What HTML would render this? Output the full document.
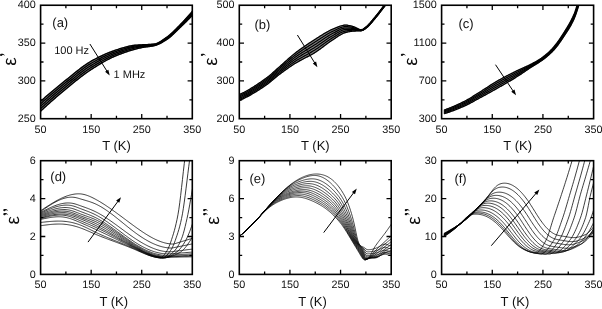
<!DOCTYPE html>
<html><head><meta charset="utf-8"><title>figure</title>
<style>html,body{margin:0;padding:0;background:#fff;}svg{display:block;will-change:transform;}text{font-family:"Liberation Sans", sans-serif;fill:#111;text-rendering:geometricPrecision;}</style></head><body>
<svg width="602" height="309" viewBox="0 0 602 309">
<rect x="0" y="0" width="602" height="309" fill="#fff"/>
<defs>
<clipPath id="cp_a"><rect x="40.60" y="5.25" width="151.70" height="113.45"/></clipPath>
<clipPath id="cp_b"><rect x="239.30" y="5.25" width="151.90" height="113.45"/></clipPath>
<clipPath id="cp_c"><rect x="441.60" y="5.25" width="152.00" height="113.45"/></clipPath>
<clipPath id="cp_d"><rect x="40.60" y="160.70" width="151.70" height="113.70"/></clipPath>
<clipPath id="cp_e"><rect x="239.30" y="160.70" width="151.90" height="113.70"/></clipPath>
<clipPath id="cp_f"><rect x="441.60" y="160.70" width="152.00" height="113.70"/></clipPath>
</defs>
<path clip-path="url(#cp_a)" d="M40.60 101.30 L41.50 100.51 L42.41 99.71 L43.31 98.92 L44.21 98.14 L45.12 97.35 L46.02 96.57 L46.93 95.79 L47.83 95.01 L48.73 94.24 L49.64 93.47 L50.54 92.70 L51.44 91.94 L52.35 91.18 L53.25 90.42 L54.15 89.66 L55.06 88.91 L55.96 88.16 L56.87 87.41 L57.77 86.67 L58.67 85.93 L59.58 85.19 L60.48 84.45 L61.38 83.72 L62.29 82.99 L63.19 82.27 L64.09 81.55 L65.00 80.83 L65.90 80.11 L66.80 79.40 L67.71 78.67 L68.61 77.95 L69.52 77.21 L70.42 76.48 L71.32 75.75 L72.23 75.01 L73.13 74.27 L74.03 73.54 L74.94 72.81 L75.84 72.08 L76.74 71.36 L77.65 70.64 L78.55 69.93 L79.46 69.22 L80.36 68.53 L81.26 67.84 L82.17 67.16 L83.07 66.50 L83.97 65.85 L84.88 65.21 L85.78 64.58 L86.68 63.98 L87.59 63.38 L88.49 62.81 L89.40 62.25 L90.30 61.72 L91.20 61.20 L92.11 60.70 L93.01 60.20 L93.91 59.71 L94.82 59.22 L95.72 58.75 L96.62 58.28 L97.53 57.81 L98.43 57.36 L99.34 56.91 L100.24 56.46 L101.14 56.03 L102.05 55.60 L102.95 55.18 L103.85 54.77 L104.76 54.36 L105.66 53.97 L106.56 53.58 L107.47 53.20 L108.37 52.82 L109.27 52.46 L110.18 52.10 L111.08 51.76 L111.99 51.42 L112.89 51.09 L113.79 50.77 L114.70 50.45 L115.60 50.15 L116.50 49.86 L117.41 49.57 L118.31 49.27 L119.21 48.98 L120.12 48.69 L121.02 48.41 L121.93 48.13 L122.83 47.85 L123.73 47.58 L124.64 47.32 L125.54 47.07 L126.44 46.82 L127.35 46.59 L128.25 46.37 L129.15 46.17 L130.06 45.98 L130.96 45.80 L131.87 45.65 L132.77 45.51 L133.67 45.39 L134.58 45.29 L135.48 45.20 L136.38 45.13 L137.29 45.06 L138.19 45.00 L139.09 44.94 L140.00 44.89 L140.90 44.85 L141.81 44.81 L142.71 44.77 L143.61 44.73 L144.52 44.69 L145.42 44.65 L146.32 44.61 L147.23 44.57 L148.13 44.52 L149.03 44.47 L149.94 44.41 L150.84 44.34 L151.74 44.26 L152.65 44.17 L153.55 44.07 L154.46 43.96 L155.36 43.80 L156.26 43.55 L157.17 43.22 L158.07 42.83 L158.97 42.38 L159.88 41.88 L160.78 41.33 L161.68 40.75 L162.59 40.14 L163.49 39.51 L164.40 38.87 L165.30 38.23 L166.20 37.58 L167.11 36.95 L168.01 36.30 L168.91 35.60 L169.82 34.86 L170.72 34.08 L171.62 33.27 L172.53 32.43 L173.43 31.57 L174.34 30.68 L175.24 29.78 L176.14 28.87 L177.05 27.95 L177.95 27.03 L178.85 26.11 L179.76 25.19 L180.66 24.27 L181.56 23.34 L182.47 22.40 L183.37 21.44 L184.28 20.48 L185.18 19.50 L186.08 18.50 L186.99 17.50 L187.89 16.49 L188.79 15.46 L189.70 14.42 L190.60 13.38 L191.50 12.32 L192.41 11.25 L193.31 10.17 L193.31 14.33 L192.41 15.27 L191.50 16.21 L190.60 17.14 L189.70 18.07 L188.79 18.99 L187.89 19.90 L186.99 20.81 L186.08 21.71 L185.18 22.61 L184.28 23.50 L183.37 24.38 L182.47 25.26 L181.56 26.13 L180.66 26.99 L179.76 27.85 L178.85 28.71 L177.95 29.58 L177.05 30.47 L176.14 31.36 L175.24 32.25 L174.34 33.13 L173.43 34.00 L172.53 34.85 L171.62 35.67 L170.72 36.47 L169.82 37.22 L168.91 37.94 L168.01 38.61 L167.11 39.23 L166.20 39.81 L165.30 40.38 L164.40 40.95 L163.49 41.50 L162.59 42.04 L161.68 42.56 L160.78 43.06 L159.88 43.53 L158.97 43.97 L158.07 44.38 L157.17 44.75 L156.26 45.09 L155.36 45.38 L154.46 45.62 L153.55 45.82 L152.65 46.00 L151.74 46.16 L150.84 46.31 L149.94 46.44 L149.03 46.56 L148.13 46.67 L147.23 46.78 L146.32 46.89 L145.42 47.01 L144.52 47.13 L143.61 47.27 L142.71 47.42 L141.81 47.59 L140.90 47.78 L140.00 47.97 L139.09 48.17 L138.19 48.38 L137.29 48.60 L136.38 48.83 L135.48 49.07 L134.58 49.31 L133.67 49.56 L132.77 49.82 L131.87 50.08 L130.96 50.36 L130.06 50.64 L129.15 50.92 L128.25 51.22 L127.35 51.51 L126.44 51.82 L125.54 52.13 L124.64 52.45 L123.73 52.77 L122.83 53.10 L121.93 53.43 L121.02 53.77 L120.12 54.11 L119.21 54.46 L118.31 54.81 L117.41 55.16 L116.50 55.52 L115.60 55.89 L114.70 56.27 L113.79 56.67 L112.89 57.08 L111.99 57.50 L111.08 57.93 L110.18 58.37 L109.27 58.82 L108.37 59.29 L107.47 59.76 L106.56 60.25 L105.66 60.74 L104.76 61.24 L103.85 61.75 L102.95 62.27 L102.05 62.79 L101.14 63.32 L100.24 63.86 L99.34 64.41 L98.43 64.96 L97.53 65.51 L96.62 66.07 L95.72 66.64 L94.82 67.21 L93.91 67.78 L93.01 68.36 L92.11 68.93 L91.20 69.52 L90.30 70.10 L89.40 70.70 L88.49 71.31 L87.59 71.94 L86.68 72.57 L85.78 73.22 L84.88 73.87 L83.97 74.53 L83.07 75.21 L82.17 75.89 L81.26 76.57 L80.36 77.27 L79.46 77.97 L78.55 78.68 L77.65 79.40 L76.74 80.11 L75.84 80.84 L74.94 81.57 L74.03 82.30 L73.13 83.03 L72.23 83.77 L71.32 84.51 L70.42 85.25 L69.52 85.99 L68.61 86.74 L67.71 87.48 L66.80 88.22 L65.90 88.96 L65.00 89.70 L64.09 90.45 L63.19 91.20 L62.29 91.95 L61.38 92.71 L60.48 93.47 L59.58 94.24 L58.67 95.01 L57.77 95.78 L56.87 96.55 L55.96 97.33 L55.06 98.12 L54.15 98.91 L53.25 99.70 L52.35 100.49 L51.44 101.29 L50.54 102.09 L49.64 102.90 L48.73 103.71 L47.83 104.52 L46.93 105.33 L46.02 106.15 L45.12 106.97 L44.21 107.80 L43.31 108.63 L42.41 109.46 L41.50 110.30 L40.60 111.14 Z" fill="#858585" stroke="#858585" stroke-width="1.2" stroke-linejoin="round"/>
<g clip-path="url(#cp_a)" fill="none" stroke="#000" stroke-width="1.35" stroke-linejoin="round">
<path d="M40.60 101.30 L41.50 100.51 L42.41 99.71 L43.31 98.92 L44.21 98.14 L45.12 97.35 L46.02 96.57 L46.93 95.79 L47.83 95.01 L48.73 94.24 L49.64 93.47 L50.54 92.70 L51.44 91.94 L52.35 91.18 L53.25 90.42 L54.15 89.66 L55.06 88.91 L55.96 88.16 L56.87 87.41 L57.77 86.67 L58.67 85.93 L59.58 85.19 L60.48 84.45 L61.38 83.72 L62.29 82.99 L63.19 82.27 L64.09 81.55 L65.00 80.83 L65.90 80.11 L66.80 79.40 L67.71 78.67 L68.61 77.95 L69.52 77.21 L70.42 76.48 L71.32 75.75 L72.23 75.01 L73.13 74.27 L74.03 73.54 L74.94 72.81 L75.84 72.08 L76.74 71.36 L77.65 70.64 L78.55 69.93 L79.46 69.22 L80.36 68.53 L81.26 67.84 L82.17 67.16 L83.07 66.50 L83.97 65.85 L84.88 65.21 L85.78 64.58 L86.68 63.98 L87.59 63.38 L88.49 62.81 L89.40 62.25 L90.30 61.72 L91.20 61.20 L92.11 60.70 L93.01 60.20 L93.91 59.71 L94.82 59.22 L95.72 58.75 L96.62 58.28 L97.53 57.81 L98.43 57.36 L99.34 56.91 L100.24 56.46 L101.14 56.03 L102.05 55.60 L102.95 55.18 L103.85 54.77 L104.76 54.36 L105.66 53.97 L106.56 53.58 L107.47 53.20 L108.37 52.82 L109.27 52.46 L110.18 52.10 L111.08 51.76 L111.99 51.42 L112.89 51.09 L113.79 50.77 L114.70 50.45 L115.60 50.15 L116.50 49.86 L117.41 49.57 L118.31 49.27 L119.21 48.98 L120.12 48.69 L121.02 48.41 L121.93 48.13 L122.83 47.85 L123.73 47.58 L124.64 47.32 L125.54 47.07 L126.44 46.82 L127.35 46.59 L128.25 46.37 L129.15 46.17 L130.06 45.98 L130.96 45.80 L131.87 45.65 L132.77 45.51 L133.67 45.39 L134.58 45.29 L135.48 45.20 L136.38 45.13 L137.29 45.06 L138.19 45.00 L139.09 44.94 L140.00 44.89 L140.90 44.85 L141.81 44.81 L142.71 44.77 L143.61 44.73 L144.52 44.69 L145.42 44.65 L146.32 44.61 L147.23 44.57 L148.13 44.52 L149.03 44.47 L149.94 44.41 L150.84 44.34 L151.74 44.26 L152.65 44.17 L153.55 44.07 L154.46 43.96 L155.36 43.80 L156.26 43.55 L157.17 43.22 L158.07 42.83 L158.97 42.38 L159.88 41.88 L160.78 41.33 L161.68 40.75 L162.59 40.14 L163.49 39.51 L164.40 38.87 L165.30 38.23 L166.20 37.58 L167.11 36.95 L168.01 36.30 L168.91 35.60 L169.82 34.86 L170.72 34.08 L171.62 33.27 L172.53 32.43 L173.43 31.57 L174.34 30.68 L175.24 29.78 L176.14 28.87 L177.05 27.95 L177.95 27.03 L178.85 26.11 L179.76 25.19 L180.66 24.27 L181.56 23.34 L182.47 22.40 L183.37 21.44 L184.28 20.48 L185.18 19.50 L186.08 18.50 L186.99 17.50 L187.89 16.49 L188.79 15.46 L189.70 14.42 L190.60 13.38 L191.50 12.32 L192.41 11.25 L193.31 10.17"/>
<path d="M40.60 103.76 L41.50 102.96 L42.41 102.15 L43.31 101.35 L44.21 100.55 L45.12 99.76 L46.02 98.97 L46.93 98.18 L47.83 97.39 L48.73 96.61 L49.64 95.83 L50.54 95.05 L51.44 94.28 L52.35 93.50 L53.25 92.74 L54.15 91.97 L55.06 91.21 L55.96 90.45 L56.87 89.70 L57.77 88.94 L58.67 88.20 L59.58 87.45 L60.48 86.71 L61.38 85.97 L62.29 85.23 L63.19 84.50 L64.09 83.77 L65.00 83.05 L65.90 82.32 L66.80 81.60 L67.71 80.87 L68.61 80.14 L69.52 79.41 L70.42 78.67 L71.32 77.94 L72.23 77.20 L73.13 76.47 L74.03 75.73 L74.94 75.00 L75.84 74.27 L76.74 73.55 L77.65 72.83 L78.55 72.12 L79.46 71.41 L80.36 70.72 L81.26 70.03 L82.17 69.35 L83.07 68.68 L83.97 68.02 L84.88 67.38 L85.78 66.75 L86.68 66.13 L87.59 65.52 L88.49 64.94 L89.40 64.37 L90.30 63.81 L91.20 63.28 L92.11 62.75 L93.01 62.24 L93.91 61.72 L94.82 61.22 L95.72 60.72 L96.62 60.23 L97.53 59.74 L98.43 59.26 L99.34 58.78 L100.24 58.32 L101.14 57.86 L102.05 57.40 L102.95 56.96 L103.85 56.52 L104.76 56.09 L105.66 55.67 L106.56 55.25 L107.47 54.85 L108.37 54.45 L109.27 54.06 L110.18 53.68 L111.08 53.31 L111.99 52.95 L112.89 52.59 L113.79 52.25 L114.70 51.91 L115.60 51.59 L116.50 51.27 L117.41 50.96 L118.31 50.65 L119.21 50.34 L120.12 50.03 L121.02 49.73 L121.93 49.42 L122.83 49.13 L123.73 48.84 L124.64 48.55 L125.54 48.27 L126.44 48.01 L127.35 47.75 L128.25 47.50 L129.15 47.26 L130.06 47.03 L130.96 46.82 L131.87 46.62 L132.77 46.43 L133.67 46.27 L134.58 46.11 L135.48 45.98 L136.38 45.86 L137.29 45.76 L138.19 45.67 L139.09 45.59 L140.00 45.52 L140.90 45.45 L141.81 45.39 L142.71 45.34 L143.61 45.29 L144.52 45.24 L145.42 45.19 L146.32 45.14 L147.23 45.08 L148.13 45.03 L149.03 44.96 L149.94 44.89 L150.84 44.81 L151.74 44.72 L152.65 44.62 L153.55 44.51 L154.46 44.38 L155.36 44.20 L156.26 43.94 L157.17 43.61 L158.07 43.23 L158.97 42.79 L159.88 42.30 L160.78 41.77 L161.68 41.21 L162.59 40.62 L163.49 40.01 L164.40 39.39 L165.30 38.77 L166.20 38.14 L167.11 37.52 L168.01 36.88 L168.91 36.19 L169.82 35.45 L170.72 34.68 L171.62 33.87 L172.53 33.03 L173.43 32.17 L174.34 31.29 L175.24 30.40 L176.14 29.49 L177.05 28.58 L177.95 27.67 L178.85 26.76 L179.76 25.86 L180.66 24.95 L181.56 24.04 L182.47 23.11 L183.37 22.18 L184.28 21.23 L185.18 20.27 L186.08 19.31 L186.99 18.33 L187.89 17.34 L188.79 16.34 L189.70 15.33 L190.60 14.32 L191.50 13.29 L192.41 12.25 L193.31 11.21"/>
<path d="M40.60 106.22 L41.50 105.40 L42.41 104.59 L43.31 103.78 L44.21 102.97 L45.12 102.16 L46.02 101.36 L46.93 100.56 L47.83 99.77 L48.73 98.97 L49.64 98.18 L50.54 97.40 L51.44 96.61 L52.35 95.83 L53.25 95.06 L54.15 94.28 L55.06 93.51 L55.96 92.75 L56.87 91.98 L57.77 91.22 L58.67 90.47 L59.58 89.71 L60.48 88.96 L61.38 88.22 L62.29 87.47 L63.19 86.73 L64.09 86.00 L65.00 85.27 L65.90 84.54 L66.80 83.81 L67.71 83.08 L68.61 82.34 L69.52 81.60 L70.42 80.87 L71.32 80.13 L72.23 79.39 L73.13 78.66 L74.03 77.92 L74.94 77.19 L75.84 76.46 L76.74 75.74 L77.65 75.02 L78.55 74.31 L79.46 73.60 L80.36 72.90 L81.26 72.21 L82.17 71.53 L83.07 70.86 L83.97 70.19 L84.88 69.54 L85.78 68.90 L86.68 68.28 L87.59 67.66 L88.49 67.06 L89.40 66.48 L90.30 65.91 L91.20 65.36 L92.11 64.81 L93.01 64.28 L93.91 63.74 L94.82 63.21 L95.72 62.69 L96.62 62.17 L97.53 61.66 L98.43 61.16 L99.34 60.66 L100.24 60.17 L101.14 59.68 L102.05 59.20 L102.95 58.73 L103.85 58.27 L104.76 57.81 L105.66 57.36 L106.56 56.92 L107.47 56.49 L108.37 56.07 L109.27 55.66 L110.18 55.25 L111.08 54.85 L111.99 54.47 L112.89 54.09 L113.79 53.73 L114.70 53.37 L115.60 53.02 L116.50 52.69 L117.41 52.36 L118.31 52.03 L119.21 51.71 L120.12 51.38 L121.02 51.06 L121.93 50.74 L122.83 50.43 L123.73 50.12 L124.64 49.82 L125.54 49.53 L126.44 49.24 L127.35 48.96 L128.25 48.69 L129.15 48.42 L130.06 48.17 L130.96 47.93 L131.87 47.69 L132.77 47.47 L133.67 47.27 L134.58 47.07 L135.48 46.89 L136.38 46.72 L137.29 46.57 L138.19 46.43 L139.09 46.31 L140.00 46.21 L140.90 46.11 L141.81 46.03 L142.71 45.95 L143.61 45.88 L144.52 45.81 L145.42 45.75 L146.32 45.68 L147.23 45.62 L148.13 45.55 L149.03 45.47 L149.94 45.39 L150.84 45.30 L151.74 45.19 L152.65 45.08 L153.55 44.94 L154.46 44.79 L155.36 44.59 L156.26 44.33 L157.17 44.00 L158.07 43.62 L158.97 43.19 L159.88 42.72 L160.78 42.21 L161.68 41.67 L162.59 41.10 L163.49 40.51 L164.40 39.91 L165.30 39.31 L166.20 38.70 L167.11 38.09 L168.01 37.46 L168.91 36.77 L169.82 36.04 L170.72 35.27 L171.62 34.47 L172.53 33.64 L173.43 32.78 L174.34 31.91 L175.24 31.01 L176.14 30.11 L177.05 29.21 L177.95 28.31 L178.85 27.41 L179.76 26.52 L180.66 25.63 L181.56 24.73 L182.47 23.83 L183.37 22.91 L184.28 21.99 L185.18 21.05 L186.08 20.11 L186.99 19.16 L187.89 18.19 L188.79 17.22 L189.70 16.25 L190.60 15.26 L191.50 14.26 L192.41 13.26 L193.31 12.25"/>
<path d="M40.60 108.68 L41.50 107.85 L42.41 107.03 L43.31 106.20 L44.21 105.38 L45.12 104.57 L46.02 103.76 L46.93 102.95 L47.83 102.14 L48.73 101.34 L49.64 100.54 L50.54 99.74 L51.44 98.95 L52.35 98.16 L53.25 97.38 L54.15 96.59 L55.06 95.82 L55.96 95.04 L56.87 94.27 L57.77 93.50 L58.67 92.74 L59.58 91.97 L60.48 91.22 L61.38 90.46 L62.29 89.71 L63.19 88.97 L64.09 88.22 L65.00 87.48 L65.90 86.75 L66.80 86.01 L67.71 85.28 L68.61 84.54 L69.52 83.80 L70.42 83.06 L71.32 82.32 L72.23 81.58 L73.13 80.84 L74.03 80.11 L74.94 79.38 L75.84 78.65 L76.74 77.93 L77.65 77.21 L78.55 76.50 L79.46 75.79 L80.36 75.09 L81.26 74.39 L82.17 73.71 L83.07 73.03 L83.97 72.37 L84.88 71.71 L85.78 71.06 L86.68 70.43 L87.59 69.80 L88.49 69.19 L89.40 68.59 L90.30 68.01 L91.20 67.44 L92.11 66.87 L93.01 66.32 L93.91 65.76 L94.82 65.21 L95.72 64.67 L96.62 64.12 L97.53 63.59 L98.43 63.06 L99.34 62.53 L100.24 62.02 L101.14 61.50 L102.05 61.00 L102.95 60.50 L103.85 60.01 L104.76 59.53 L105.66 59.05 L106.56 58.59 L107.47 58.13 L108.37 57.68 L109.27 57.24 L110.18 56.81 L111.08 56.39 L111.99 55.98 L112.89 55.59 L113.79 55.20 L114.70 54.82 L115.60 54.46 L116.50 54.11 L117.41 53.76 L118.31 53.42 L119.21 53.08 L120.12 52.74 L121.02 52.41 L121.93 52.08 L122.83 51.76 L123.73 51.44 L124.64 51.12 L125.54 50.81 L126.44 50.51 L127.35 50.22 L128.25 49.93 L129.15 49.65 L130.06 49.37 L130.96 49.11 L131.87 48.85 L132.77 48.61 L133.67 48.37 L134.58 48.14 L135.48 47.92 L136.38 47.72 L137.29 47.52 L138.19 47.34 L139.09 47.17 L140.00 47.01 L140.90 46.87 L141.81 46.74 L142.71 46.63 L143.61 46.53 L144.52 46.43 L145.42 46.35 L146.32 46.26 L147.23 46.18 L148.13 46.09 L149.03 46.00 L149.94 45.90 L150.84 45.79 L151.74 45.67 L152.65 45.54 L153.55 45.38 L154.46 45.21 L155.36 44.99 L156.26 44.71 L157.17 44.38 L158.07 44.00 L158.97 43.58 L159.88 43.13 L160.78 42.64 L161.68 42.12 L162.59 41.57 L163.49 41.01 L164.40 40.43 L165.30 39.85 L166.20 39.25 L167.11 38.66 L168.01 38.03 L168.91 37.36 L169.82 36.63 L170.72 35.87 L171.62 35.07 L172.53 34.24 L173.43 33.39 L174.34 32.52 L175.24 31.63 L176.14 30.74 L177.05 29.84 L177.95 28.94 L178.85 28.06 L179.76 27.18 L180.66 26.31 L181.56 25.43 L182.47 24.54 L183.37 23.65 L184.28 22.74 L185.18 21.83 L186.08 20.91 L186.99 19.98 L187.89 19.05 L188.79 18.11 L189.70 17.16 L190.60 16.20 L191.50 15.24 L192.41 14.26 L193.31 13.29"/>
<path d="M40.60 111.14 L41.50 110.30 L42.41 109.46 L43.31 108.63 L44.21 107.80 L45.12 106.97 L46.02 106.15 L46.93 105.33 L47.83 104.52 L48.73 103.71 L49.64 102.90 L50.54 102.09 L51.44 101.29 L52.35 100.49 L53.25 99.70 L54.15 98.91 L55.06 98.12 L55.96 97.33 L56.87 96.55 L57.77 95.78 L58.67 95.01 L59.58 94.24 L60.48 93.47 L61.38 92.71 L62.29 91.95 L63.19 91.20 L64.09 90.45 L65.00 89.70 L65.90 88.96 L66.80 88.22 L67.71 87.48 L68.61 86.74 L69.52 85.99 L70.42 85.25 L71.32 84.51 L72.23 83.77 L73.13 83.03 L74.03 82.30 L74.94 81.57 L75.84 80.84 L76.74 80.11 L77.65 79.40 L78.55 78.68 L79.46 77.97 L80.36 77.27 L81.26 76.57 L82.17 75.89 L83.07 75.21 L83.97 74.53 L84.88 73.87 L85.78 73.22 L86.68 72.57 L87.59 71.94 L88.49 71.31 L89.40 70.70 L90.30 70.10 L91.20 69.52 L92.11 68.93 L93.01 68.36 L93.91 67.78 L94.82 67.21 L95.72 66.64 L96.62 66.07 L97.53 65.51 L98.43 64.96 L99.34 64.41 L100.24 63.86 L101.14 63.32 L102.05 62.79 L102.95 62.27 L103.85 61.75 L104.76 61.24 L105.66 60.74 L106.56 60.25 L107.47 59.76 L108.37 59.29 L109.27 58.82 L110.18 58.37 L111.08 57.93 L111.99 57.50 L112.89 57.08 L113.79 56.67 L114.70 56.27 L115.60 55.89 L116.50 55.52 L117.41 55.16 L118.31 54.81 L119.21 54.46 L120.12 54.11 L121.02 53.77 L121.93 53.43 L122.83 53.10 L123.73 52.77 L124.64 52.45 L125.54 52.13 L126.44 51.82 L127.35 51.51 L128.25 51.22 L129.15 50.92 L130.06 50.64 L130.96 50.36 L131.87 50.08 L132.77 49.82 L133.67 49.56 L134.58 49.31 L135.48 49.07 L136.38 48.83 L137.29 48.60 L138.19 48.38 L139.09 48.17 L140.00 47.97 L140.90 47.78 L141.81 47.59 L142.71 47.42 L143.61 47.27 L144.52 47.13 L145.42 47.01 L146.32 46.89 L147.23 46.78 L148.13 46.67 L149.03 46.56 L149.94 46.44 L150.84 46.31 L151.74 46.16 L152.65 46.00 L153.55 45.82 L154.46 45.62 L155.36 45.38 L156.26 45.09 L157.17 44.75 L158.07 44.38 L158.97 43.97 L159.88 43.53 L160.78 43.06 L161.68 42.56 L162.59 42.04 L163.49 41.50 L164.40 40.95 L165.30 40.38 L166.20 39.81 L167.11 39.23 L168.01 38.61 L168.91 37.94 L169.82 37.22 L170.72 36.47 L171.62 35.67 L172.53 34.85 L173.43 34.00 L174.34 33.13 L175.24 32.25 L176.14 31.36 L177.05 30.47 L177.95 29.58 L178.85 28.71 L179.76 27.85 L180.66 26.99 L181.56 26.13 L182.47 25.26 L183.37 24.38 L184.28 23.50 L185.18 22.61 L186.08 21.71 L186.99 20.81 L187.89 19.90 L188.79 18.99 L189.70 18.07 L190.60 17.14 L191.50 16.21 L192.41 15.27 L193.31 14.33"/>
</g>
<path d="M91.17 118.70V114.00M91.17 5.25V9.95M141.73 118.70V114.00M141.73 5.25V9.95M65.88 118.70V115.80M65.88 5.25V8.15M116.45 118.70V115.80M116.45 5.25V8.15M167.02 118.70V115.80M167.02 5.25V8.15M40.60 80.88H45.30M192.30 80.88H187.60M40.60 43.07H45.30M192.30 43.07H187.60M40.60 99.79H43.50M192.30 99.79H189.40M40.60 61.98H43.50M192.30 61.98H189.40M40.60 24.16H43.50M192.30 24.16H189.40" fill="none" stroke="#000" stroke-width="1.30"/>
<rect x="40.60" y="5.25" width="151.70" height="113.45" fill="none" stroke="#000" stroke-width="1.60"/>
<text x="40.60" y="132.80" font-size="10.80" text-anchor="middle">50</text>
<text x="91.17" y="132.80" font-size="10.80" text-anchor="middle">150</text>
<text x="141.73" y="132.80" font-size="10.80" text-anchor="middle">250</text>
<text x="192.30" y="132.80" font-size="10.80" text-anchor="middle">350</text>
<text x="35.70" y="121.60" font-size="10.80" text-anchor="end">250</text>
<text x="35.70" y="83.78" font-size="10.80" text-anchor="end">300</text>
<text x="35.70" y="45.97" font-size="10.80" text-anchor="end">350</text>
<text x="35.70" y="8.15" font-size="10.80" text-anchor="end">400</text>
<text x="116.55" y="150.10" font-size="13.00" text-anchor="middle">T (K)</text>
<text x="52.30" y="27.00" font-size="13.00">(a)</text>
<path d="M89.90 44.00L107.25 71.61" stroke="#000" stroke-width="1" fill="none"/>
<path d="M109.70 75.50L105.07 71.80L108.37 69.72Z" fill="#000"/>
<text transform="translate(15.80 61.40) rotate(-90)" font-size="19.00" text-anchor="middle">ε</text>
<path d="M1.20 53.75 C2.80 53.55 4.40 54.00 5.10 56.05 C4.20 54.95 3.10 54.75 2.25 55.35 A1.15 1.15 0 1 1 1.20 53.75Z" fill="#111"/>
<path clip-path="url(#cp_b)" d="M239.30 94.57 L240.20 94.16 L241.11 93.74 L242.01 93.31 L242.92 92.87 L243.82 92.41 L244.73 91.94 L245.63 91.46 L246.54 90.97 L247.44 90.47 L248.35 89.96 L249.25 89.43 L250.16 88.90 L251.06 88.36 L251.97 87.81 L252.87 87.25 L253.78 86.69 L254.68 86.11 L255.59 85.53 L256.49 84.93 L257.40 84.34 L258.30 83.73 L259.21 83.12 L260.11 82.50 L261.02 81.87 L261.92 81.24 L262.83 80.61 L263.73 79.97 L264.63 79.32 L265.54 78.67 L266.44 78.01 L267.35 77.33 L268.25 76.62 L269.16 75.89 L270.06 75.14 L270.97 74.37 L271.87 73.58 L272.78 72.78 L273.68 71.98 L274.59 71.16 L275.49 70.35 L276.40 69.53 L277.30 68.72 L278.21 67.92 L279.11 67.12 L280.02 66.33 L280.92 65.54 L281.83 64.74 L282.73 63.93 L283.64 63.12 L284.54 62.31 L285.45 61.49 L286.35 60.67 L287.25 59.86 L288.16 59.05 L289.06 58.24 L289.97 57.45 L290.87 56.66 L291.78 55.89 L292.68 55.13 L293.59 54.39 L294.49 53.67 L295.40 52.97 L296.30 52.27 L297.21 51.59 L298.11 50.91 L299.02 50.24 L299.92 49.58 L300.83 48.92 L301.73 48.28 L302.64 47.64 L303.54 47.00 L304.45 46.37 L305.35 45.75 L306.26 45.13 L307.16 44.52 L308.07 43.92 L308.97 43.32 L309.88 42.73 L310.78 42.14 L311.68 41.55 L312.59 40.97 L313.49 40.39 L314.40 39.82 L315.30 39.25 L316.21 38.68 L317.11 38.10 L318.02 37.53 L318.92 36.94 L319.83 36.36 L320.73 35.79 L321.64 35.21 L322.54 34.64 L323.45 34.08 L324.35 33.53 L325.26 32.99 L326.16 32.46 L327.07 31.95 L327.97 31.45 L328.88 30.97 L329.78 30.51 L330.69 30.07 L331.59 29.66 L332.50 29.27 L333.40 28.90 L334.30 28.53 L335.21 28.14 L336.11 27.75 L337.02 27.37 L337.92 26.99 L338.83 26.63 L339.73 26.30 L340.64 25.99 L341.54 25.72 L342.45 25.49 L343.35 25.31 L344.26 25.18 L345.16 25.11 L346.07 25.11 L346.97 25.18 L347.88 25.30 L348.78 25.47 L349.69 25.68 L350.59 25.91 L351.50 26.15 L352.40 26.40 L353.31 26.64 L354.21 26.94 L355.12 27.32 L356.02 27.76 L356.93 28.22 L357.83 28.66 L358.73 29.06 L359.64 29.37 L360.54 29.58 L361.45 29.64 L362.35 29.43 L363.26 28.96 L364.16 28.33 L365.07 27.62 L365.97 26.93 L366.88 26.21 L367.78 25.39 L368.69 24.49 L369.59 23.53 L370.50 22.51 L371.40 21.45 L372.31 20.36 L373.21 19.25 L374.12 18.14 L375.02 17.03 L375.93 15.94 L376.83 14.85 L377.74 13.73 L378.64 12.58 L379.55 11.41 L380.45 10.23 L381.35 9.04 L382.26 7.86 L383.16 6.68 L384.07 5.51 L384.97 4.36 L385.88 3.23 L386.78 2.10 L387.69 0.97 L388.59 -0.15 L389.50 -1.26 L390.40 -2.37 L391.31 -3.48 L392.21 -4.58 L392.21 -3.07 L391.31 -1.97 L390.40 -0.86 L389.50 0.25 L388.59 1.37 L387.69 2.49 L386.78 3.61 L385.88 4.74 L384.97 5.88 L384.07 7.02 L383.16 8.19 L382.26 9.38 L381.35 10.57 L380.45 11.76 L379.55 12.94 L378.64 14.11 L377.74 15.25 L376.83 16.37 L375.93 17.45 L375.02 18.53 L374.12 19.63 L373.21 20.74 L372.31 21.84 L371.40 22.92 L370.50 23.96 L369.59 24.97 L368.69 25.91 L367.78 26.78 L366.88 27.57 L365.97 28.26 L365.07 28.89 L364.16 29.53 L363.26 30.09 L362.35 30.52 L361.45 30.76 L360.54 30.84 L359.64 30.90 L358.73 30.94 L357.83 30.97 L356.93 30.99 L356.02 31.02 L355.12 31.05 L354.21 31.09 L353.31 31.15 L352.40 31.23 L351.50 31.33 L350.59 31.45 L349.69 31.60 L348.78 31.76 L347.88 31.95 L346.97 32.15 L346.07 32.37 L345.16 32.61 L344.26 32.91 L343.35 33.27 L342.45 33.69 L341.54 34.16 L340.64 34.67 L339.73 35.21 L338.83 35.78 L337.92 36.37 L337.02 36.98 L336.11 37.59 L335.21 38.20 L334.30 38.80 L333.40 39.39 L332.50 39.97 L331.59 40.56 L330.69 41.17 L329.78 41.80 L328.88 42.45 L327.97 43.11 L327.07 43.78 L326.16 44.46 L325.26 45.14 L324.35 45.82 L323.45 46.51 L322.54 47.20 L321.64 47.88 L320.73 48.55 L319.83 49.21 L318.92 49.86 L318.02 50.50 L317.11 51.12 L316.21 51.72 L315.30 52.30 L314.40 52.86 L313.49 53.40 L312.59 53.92 L311.68 54.44 L310.78 54.94 L309.88 55.43 L308.97 55.92 L308.07 56.40 L307.16 56.87 L306.26 57.34 L305.35 57.81 L304.45 58.27 L303.54 58.74 L302.64 59.21 L301.73 59.68 L300.83 60.16 L299.92 60.65 L299.02 61.14 L298.11 61.65 L297.21 62.17 L296.30 62.70 L295.40 63.24 L294.49 63.80 L293.59 64.37 L292.68 64.96 L291.78 65.55 L290.87 66.15 L289.97 66.76 L289.06 67.38 L288.16 68.01 L287.25 68.64 L286.35 69.28 L285.45 69.93 L284.54 70.59 L283.64 71.24 L282.73 71.91 L281.83 72.57 L280.92 73.25 L280.02 73.92 L279.11 74.60 L278.21 75.31 L277.30 76.04 L276.40 76.78 L275.49 77.54 L274.59 78.30 L273.68 79.07 L272.78 79.83 L271.87 80.59 L270.97 81.34 L270.06 82.08 L269.16 82.81 L268.25 83.51 L267.35 84.18 L266.44 84.83 L265.54 85.45 L264.63 86.06 L263.73 86.67 L262.83 87.28 L261.92 87.88 L261.02 88.47 L260.11 89.06 L259.21 89.65 L258.30 90.23 L257.40 90.80 L256.49 91.37 L255.59 91.92 L254.68 92.48 L253.78 93.02 L252.87 93.56 L251.97 94.09 L251.06 94.61 L250.16 95.12 L249.25 95.63 L248.35 96.13 L247.44 96.61 L246.54 97.09 L245.63 97.56 L244.73 98.02 L243.82 98.47 L242.92 98.90 L242.01 99.33 L241.11 99.75 L240.20 100.15 L239.30 100.55 Z" fill="#858585" stroke="#858585" stroke-width="1.2" stroke-linejoin="round"/>
<g clip-path="url(#cp_b)" fill="none" stroke="#000" stroke-width="1.20" stroke-linejoin="round">
<path d="M239.30 94.57 L240.20 94.16 L241.11 93.74 L242.01 93.31 L242.92 92.87 L243.82 92.41 L244.73 91.94 L245.63 91.46 L246.54 90.97 L247.44 90.47 L248.35 89.96 L249.25 89.43 L250.16 88.90 L251.06 88.36 L251.97 87.81 L252.87 87.25 L253.78 86.69 L254.68 86.11 L255.59 85.53 L256.49 84.93 L257.40 84.34 L258.30 83.73 L259.21 83.12 L260.11 82.50 L261.02 81.87 L261.92 81.24 L262.83 80.61 L263.73 79.97 L264.63 79.32 L265.54 78.67 L266.44 78.01 L267.35 77.33 L268.25 76.62 L269.16 75.89 L270.06 75.14 L270.97 74.37 L271.87 73.58 L272.78 72.78 L273.68 71.98 L274.59 71.16 L275.49 70.35 L276.40 69.53 L277.30 68.72 L278.21 67.92 L279.11 67.12 L280.02 66.33 L280.92 65.54 L281.83 64.74 L282.73 63.93 L283.64 63.12 L284.54 62.31 L285.45 61.49 L286.35 60.67 L287.25 59.86 L288.16 59.05 L289.06 58.24 L289.97 57.45 L290.87 56.66 L291.78 55.89 L292.68 55.13 L293.59 54.39 L294.49 53.67 L295.40 52.97 L296.30 52.27 L297.21 51.59 L298.11 50.91 L299.02 50.24 L299.92 49.58 L300.83 48.92 L301.73 48.28 L302.64 47.64 L303.54 47.00 L304.45 46.37 L305.35 45.75 L306.26 45.13 L307.16 44.52 L308.07 43.92 L308.97 43.32 L309.88 42.73 L310.78 42.14 L311.68 41.55 L312.59 40.97 L313.49 40.39 L314.40 39.82 L315.30 39.25 L316.21 38.68 L317.11 38.10 L318.02 37.53 L318.92 36.94 L319.83 36.36 L320.73 35.79 L321.64 35.21 L322.54 34.64 L323.45 34.08 L324.35 33.53 L325.26 32.99 L326.16 32.46 L327.07 31.95 L327.97 31.45 L328.88 30.97 L329.78 30.51 L330.69 30.07 L331.59 29.66 L332.50 29.27 L333.40 28.90 L334.30 28.53 L335.21 28.14 L336.11 27.75 L337.02 27.37 L337.92 26.99 L338.83 26.63 L339.73 26.30 L340.64 25.99 L341.54 25.72 L342.45 25.49 L343.35 25.31 L344.26 25.18 L345.16 25.11 L346.07 25.11 L346.97 25.18 L347.88 25.30 L348.78 25.47 L349.69 25.68 L350.59 25.91 L351.50 26.15 L352.40 26.40 L353.31 26.64 L354.21 26.94 L355.12 27.32 L356.02 27.76 L356.93 28.22 L357.83 28.66 L358.73 29.06 L359.64 29.37 L360.54 29.58 L361.45 29.64 L362.35 29.43 L363.26 28.96 L364.16 28.33 L365.07 27.62 L365.97 26.93 L366.88 26.21 L367.78 25.39 L368.69 24.49 L369.59 23.53 L370.50 22.51 L371.40 21.45 L372.31 20.36 L373.21 19.25 L374.12 18.14 L375.02 17.03 L375.93 15.94 L376.83 14.85 L377.74 13.73 L378.64 12.58 L379.55 11.41 L380.45 10.23 L381.35 9.04 L382.26 7.86 L383.16 6.68 L384.07 5.51 L384.97 4.36 L385.88 3.23 L386.78 2.10 L387.69 0.97 L388.59 -0.15 L389.50 -1.26 L390.40 -2.37 L391.31 -3.48 L392.21 -4.58"/>
<path d="M239.30 95.77 L240.20 95.36 L241.11 94.94 L242.01 94.51 L242.92 94.07 L243.82 93.62 L244.73 93.16 L245.63 92.68 L246.54 92.19 L247.44 91.70 L248.35 91.19 L249.25 90.67 L250.16 90.15 L251.06 89.61 L251.97 89.07 L252.87 88.51 L253.78 87.95 L254.68 87.38 L255.59 86.81 L256.49 86.22 L257.40 85.63 L258.30 85.03 L259.21 84.42 L260.11 83.81 L261.02 83.19 L261.92 82.57 L262.83 81.94 L263.73 81.31 L264.63 80.67 L265.54 80.02 L266.44 79.37 L267.35 78.70 L268.25 78.00 L269.16 77.27 L270.06 76.53 L270.97 75.76 L271.87 74.98 L272.78 74.19 L273.68 73.40 L274.59 72.59 L275.49 71.79 L276.40 70.98 L277.30 70.19 L278.21 69.40 L279.11 68.62 L280.02 67.85 L280.92 67.08 L281.83 66.31 L282.73 65.53 L283.64 64.74 L284.54 63.96 L285.45 63.18 L286.35 62.39 L287.25 61.61 L288.16 60.84 L289.06 60.07 L289.97 59.31 L290.87 58.56 L291.78 57.82 L292.68 57.10 L293.59 56.39 L294.49 55.70 L295.40 55.02 L296.30 54.36 L297.21 53.70 L298.11 53.06 L299.02 52.43 L299.92 51.80 L300.83 51.18 L301.73 50.57 L302.64 49.96 L303.54 49.36 L304.45 48.76 L305.35 48.17 L306.26 47.59 L307.16 47.01 L308.07 46.43 L308.97 45.85 L309.88 45.28 L310.78 44.71 L311.68 44.14 L312.59 43.57 L313.49 43.00 L314.40 42.43 L315.30 41.86 L316.21 41.28 L317.11 40.70 L318.02 40.11 L318.92 39.52 L319.83 38.92 L320.73 38.33 L321.64 37.74 L322.54 37.15 L323.45 36.56 L324.35 35.99 L325.26 35.42 L326.16 34.86 L327.07 34.31 L327.97 33.78 L328.88 33.27 L329.78 32.77 L330.69 32.30 L331.59 31.84 L332.50 31.41 L333.40 31.00 L334.30 30.57 L335.21 30.13 L336.11 29.68 L337.02 29.24 L337.92 28.80 L338.83 28.38 L339.73 27.99 L340.64 27.63 L341.54 27.31 L342.45 27.04 L343.35 26.82 L344.26 26.67 L345.16 26.59 L346.07 26.58 L346.97 26.62 L347.88 26.70 L348.78 26.80 L349.69 26.92 L350.59 27.07 L351.50 27.22 L352.40 27.38 L353.31 27.54 L354.21 27.75 L355.12 28.04 L356.02 28.38 L356.93 28.73 L357.83 29.08 L358.73 29.40 L359.64 29.65 L360.54 29.82 L361.45 29.87 L362.35 29.66 L363.26 29.20 L364.16 28.58 L365.07 27.88 L365.97 27.19 L366.88 26.48 L367.78 25.67 L368.69 24.78 L369.59 23.82 L370.50 22.80 L371.40 21.75 L372.31 20.66 L373.21 19.55 L374.12 18.44 L375.02 17.33 L375.93 16.24 L376.83 15.15 L377.74 14.03 L378.64 12.89 L379.55 11.72 L380.45 10.54 L381.35 9.35 L382.26 8.16 L383.16 6.98 L384.07 5.81 L384.97 4.67 L385.88 3.53 L386.78 2.40 L387.69 1.28 L388.59 0.16 L389.50 -0.96 L390.40 -2.07 L391.31 -3.18 L392.21 -4.28"/>
<path d="M239.30 96.96 L240.20 96.56 L241.11 96.15 L242.01 95.72 L242.92 95.28 L243.82 94.83 L244.73 94.37 L245.63 93.90 L246.54 93.42 L247.44 92.93 L248.35 92.42 L249.25 91.91 L250.16 91.39 L251.06 90.86 L251.97 90.32 L252.87 89.78 L253.78 89.22 L254.68 88.66 L255.59 88.09 L256.49 87.51 L257.40 86.92 L258.30 86.33 L259.21 85.73 L260.11 85.13 L261.02 84.51 L261.92 83.90 L262.83 83.28 L263.73 82.65 L264.63 82.02 L265.54 81.38 L266.44 80.74 L267.35 80.07 L268.25 79.38 L269.16 78.66 L270.06 77.92 L270.97 77.16 L271.87 76.39 L272.78 75.60 L273.68 74.81 L274.59 74.02 L275.49 73.23 L276.40 72.43 L277.30 71.65 L278.21 70.87 L279.11 70.11 L280.02 69.37 L280.92 68.62 L281.83 67.87 L282.73 67.12 L283.64 66.37 L284.54 65.62 L285.45 64.86 L286.35 64.11 L287.25 63.37 L288.16 62.63 L289.06 61.90 L289.97 61.17 L290.87 60.46 L291.78 59.75 L292.68 59.06 L293.59 58.38 L294.49 57.72 L295.40 57.08 L296.30 56.44 L297.21 55.82 L298.11 55.21 L299.02 54.61 L299.92 54.01 L300.83 53.43 L301.73 52.85 L302.64 52.28 L303.54 51.71 L304.45 51.15 L305.35 50.59 L306.26 50.04 L307.16 49.48 L308.07 48.93 L308.97 48.38 L309.88 47.83 L310.78 47.28 L311.68 46.72 L312.59 46.17 L313.49 45.61 L314.40 45.04 L315.30 44.47 L316.21 43.89 L317.11 43.30 L318.02 42.70 L318.92 42.10 L319.83 41.49 L320.73 40.88 L321.64 40.26 L322.54 39.65 L323.45 39.04 L324.35 38.44 L325.26 37.84 L326.16 37.26 L327.07 36.68 L327.97 36.12 L328.88 35.57 L329.78 35.03 L330.69 34.52 L331.59 34.02 L332.50 33.55 L333.40 33.09 L334.30 32.62 L335.21 32.12 L336.11 31.62 L337.02 31.11 L337.92 30.62 L338.83 30.14 L339.73 29.69 L340.64 29.27 L341.54 28.90 L342.45 28.59 L343.35 28.34 L344.26 28.16 L345.16 28.07 L346.07 28.06 L346.97 28.07 L347.88 28.10 L348.78 28.13 L349.69 28.18 L350.59 28.24 L351.50 28.30 L352.40 28.37 L353.31 28.44 L354.21 28.56 L355.12 28.75 L356.02 28.98 L356.93 29.24 L357.83 29.50 L358.73 29.74 L359.64 29.93 L360.54 30.06 L361.45 30.09 L362.35 29.89 L363.26 29.44 L364.16 28.82 L365.07 28.13 L365.97 27.46 L366.88 26.75 L367.78 25.95 L368.69 25.06 L369.59 24.11 L370.50 23.09 L371.40 22.04 L372.31 20.95 L373.21 19.85 L374.12 18.73 L375.02 17.63 L375.93 16.54 L376.83 15.46 L377.74 14.34 L378.64 13.19 L379.55 12.02 L380.45 10.84 L381.35 9.65 L382.26 8.47 L383.16 7.28 L384.07 6.12 L384.97 4.97 L385.88 3.83 L386.78 2.70 L387.69 1.58 L388.59 0.46 L389.50 -0.66 L390.40 -1.77 L391.31 -2.87 L392.21 -3.98"/>
<path d="M239.30 98.16 L240.20 97.76 L241.11 97.35 L242.01 96.92 L242.92 96.49 L243.82 96.04 L244.73 95.59 L245.63 95.12 L246.54 94.64 L247.44 94.15 L248.35 93.66 L249.25 93.15 L250.16 92.64 L251.06 92.11 L251.97 91.58 L252.87 91.04 L253.78 90.49 L254.68 89.93 L255.59 89.36 L256.49 88.79 L257.40 88.21 L258.30 87.63 L259.21 87.04 L260.11 86.44 L261.02 85.83 L261.92 85.23 L262.83 84.61 L263.73 83.99 L264.63 83.37 L265.54 82.74 L266.44 82.10 L267.35 81.44 L268.25 80.75 L269.16 80.04 L270.06 79.31 L270.97 78.55 L271.87 77.79 L272.78 77.01 L273.68 76.23 L274.59 75.45 L275.49 74.66 L276.40 73.88 L277.30 73.11 L278.21 72.35 L279.11 71.61 L280.02 70.88 L280.92 70.16 L281.83 69.44 L282.73 68.72 L283.64 67.99 L284.54 67.27 L285.45 66.55 L286.35 65.84 L287.25 65.13 L288.16 64.42 L289.06 63.72 L289.97 63.03 L290.87 62.35 L291.78 61.68 L292.68 61.03 L293.59 60.38 L294.49 59.75 L295.40 59.13 L296.30 58.53 L297.21 57.94 L298.11 57.36 L299.02 56.79 L299.92 56.23 L300.83 55.68 L301.73 55.13 L302.64 54.59 L303.54 54.06 L304.45 53.53 L305.35 53.00 L306.26 52.48 L307.16 51.95 L308.07 51.43 L308.97 50.90 L309.88 50.37 L310.78 49.84 L311.68 49.30 L312.59 48.76 L313.49 48.21 L314.40 47.65 L315.30 47.08 L316.21 46.50 L317.11 45.90 L318.02 45.30 L318.92 44.68 L319.83 44.06 L320.73 43.43 L321.64 42.80 L322.54 42.16 L323.45 41.53 L324.35 40.90 L325.26 40.27 L326.16 39.66 L327.07 39.05 L327.97 38.45 L328.88 37.86 L329.78 37.29 L330.69 36.74 L331.59 36.20 L332.50 35.69 L333.40 35.19 L334.30 34.67 L335.21 34.13 L336.11 33.58 L337.02 33.03 L337.92 32.48 L338.83 31.96 L339.73 31.46 L340.64 30.99 L341.54 30.58 L342.45 30.21 L343.35 29.92 L344.26 29.70 L345.16 29.56 L346.07 29.51 L346.97 29.47 L347.88 29.44 L348.78 29.41 L349.69 29.39 L350.59 29.37 L351.50 29.35 L352.40 29.34 L353.31 29.34 L354.21 29.38 L355.12 29.47 L356.02 29.61 L356.93 29.77 L357.83 29.93 L358.73 30.08 L359.64 30.21 L360.54 30.30 L361.45 30.32 L362.35 30.12 L363.26 29.68 L364.16 29.07 L365.07 28.39 L365.97 27.72 L366.88 27.02 L367.78 26.22 L368.69 25.34 L369.59 24.39 L370.50 23.38 L371.40 22.33 L372.31 21.25 L373.21 20.14 L374.12 19.03 L375.02 17.93 L375.93 16.85 L376.83 15.76 L377.74 14.64 L378.64 13.50 L379.55 12.33 L380.45 11.15 L381.35 9.96 L382.26 8.77 L383.16 7.59 L384.07 6.42 L384.97 5.27 L385.88 4.14 L386.78 3.01 L387.69 1.88 L388.59 0.76 L389.50 -0.35 L390.40 -1.47 L391.31 -2.57 L392.21 -3.67"/>
<path d="M239.30 99.35 L240.20 98.96 L241.11 98.55 L242.01 98.13 L242.92 97.70 L243.82 97.25 L244.73 96.80 L245.63 96.34 L246.54 95.87 L247.44 95.38 L248.35 94.89 L249.25 94.39 L250.16 93.88 L251.06 93.36 L251.97 92.83 L252.87 92.30 L253.78 91.75 L254.68 91.20 L255.59 90.64 L256.49 90.08 L257.40 89.51 L258.30 88.93 L259.21 88.34 L260.11 87.75 L261.02 87.15 L261.92 86.55 L262.83 85.94 L263.73 85.33 L264.63 84.72 L265.54 84.09 L266.44 83.47 L267.35 82.81 L268.25 82.13 L269.16 81.42 L270.06 80.70 L270.97 79.95 L271.87 79.19 L272.78 78.42 L273.68 77.65 L274.59 76.87 L275.49 76.10 L276.40 75.33 L277.30 74.58 L278.21 73.83 L279.11 73.11 L280.02 72.40 L280.92 71.70 L281.83 71.01 L282.73 70.31 L283.64 69.62 L284.54 68.93 L285.45 68.24 L286.35 67.56 L287.25 66.88 L288.16 66.21 L289.06 65.55 L289.97 64.90 L290.87 64.25 L291.78 63.62 L292.68 62.99 L293.59 62.38 L294.49 61.77 L295.40 61.19 L296.30 60.61 L297.21 60.05 L298.11 59.50 L299.02 58.97 L299.92 58.44 L300.83 57.92 L301.73 57.41 L302.64 56.90 L303.54 56.40 L304.45 55.90 L305.35 55.41 L306.26 54.91 L307.16 54.41 L308.07 53.92 L308.97 53.41 L309.88 52.91 L310.78 52.39 L311.68 51.87 L312.59 51.34 L313.49 50.80 L314.40 50.25 L315.30 49.69 L316.21 49.11 L317.11 48.51 L318.02 47.90 L318.92 47.27 L319.83 46.63 L320.73 45.99 L321.64 45.33 L322.54 44.68 L323.45 44.02 L324.35 43.36 L325.26 42.71 L326.16 42.05 L327.07 41.41 L327.97 40.78 L328.88 40.16 L329.78 39.55 L330.69 38.95 L331.59 38.38 L332.50 37.83 L333.40 37.29 L334.30 36.74 L335.21 36.17 L336.11 35.59 L337.02 35.01 L337.92 34.44 L338.83 33.88 L339.73 33.35 L340.64 32.84 L341.54 32.38 L342.45 31.97 L343.35 31.61 L344.26 31.31 L345.16 31.09 L346.07 30.93 L346.97 30.80 L347.88 30.67 L348.78 30.55 L349.69 30.45 L350.59 30.36 L351.50 30.30 L352.40 30.26 L353.31 30.25 L354.21 30.26 L355.12 30.29 L356.02 30.33 L356.93 30.38 L357.83 30.43 L358.73 30.48 L359.64 30.52 L360.54 30.54 L361.45 30.55 L362.35 30.35 L363.26 29.91 L364.16 29.32 L365.07 28.65 L365.97 27.99 L366.88 27.29 L367.78 26.50 L368.69 25.63 L369.59 24.68 L370.50 23.67 L371.40 22.62 L372.31 21.54 L373.21 20.44 L374.12 19.33 L375.02 18.23 L375.93 17.15 L376.83 16.07 L377.74 14.95 L378.64 13.80 L379.55 12.63 L380.45 11.45 L381.35 10.26 L382.26 9.07 L383.16 7.89 L384.07 6.72 L384.97 5.57 L385.88 4.44 L386.78 3.31 L387.69 2.18 L388.59 1.06 L389.50 -0.05 L390.40 -1.16 L391.31 -2.27 L392.21 -3.37"/>
<path d="M239.30 100.55 L240.20 100.15 L241.11 99.75 L242.01 99.33 L242.92 98.90 L243.82 98.47 L244.73 98.02 L245.63 97.56 L246.54 97.09 L247.44 96.61 L248.35 96.13 L249.25 95.63 L250.16 95.12 L251.06 94.61 L251.97 94.09 L252.87 93.56 L253.78 93.02 L254.68 92.48 L255.59 91.92 L256.49 91.37 L257.40 90.80 L258.30 90.23 L259.21 89.65 L260.11 89.06 L261.02 88.47 L261.92 87.88 L262.83 87.28 L263.73 86.67 L264.63 86.06 L265.54 85.45 L266.44 84.83 L267.35 84.18 L268.25 83.51 L269.16 82.81 L270.06 82.08 L270.97 81.34 L271.87 80.59 L272.78 79.83 L273.68 79.07 L274.59 78.30 L275.49 77.54 L276.40 76.78 L277.30 76.04 L278.21 75.31 L279.11 74.60 L280.02 73.92 L280.92 73.25 L281.83 72.57 L282.73 71.91 L283.64 71.24 L284.54 70.59 L285.45 69.93 L286.35 69.28 L287.25 68.64 L288.16 68.01 L289.06 67.38 L289.97 66.76 L290.87 66.15 L291.78 65.55 L292.68 64.96 L293.59 64.37 L294.49 63.80 L295.40 63.24 L296.30 62.70 L297.21 62.17 L298.11 61.65 L299.02 61.14 L299.92 60.65 L300.83 60.16 L301.73 59.68 L302.64 59.21 L303.54 58.74 L304.45 58.27 L305.35 57.81 L306.26 57.34 L307.16 56.87 L308.07 56.40 L308.97 55.92 L309.88 55.43 L310.78 54.94 L311.68 54.44 L312.59 53.92 L313.49 53.40 L314.40 52.86 L315.30 52.30 L316.21 51.72 L317.11 51.12 L318.02 50.50 L318.92 49.86 L319.83 49.21 L320.73 48.55 L321.64 47.88 L322.54 47.20 L323.45 46.51 L324.35 45.82 L325.26 45.14 L326.16 44.46 L327.07 43.78 L327.97 43.11 L328.88 42.45 L329.78 41.80 L330.69 41.17 L331.59 40.56 L332.50 39.97 L333.40 39.39 L334.30 38.80 L335.21 38.20 L336.11 37.59 L337.02 36.98 L337.92 36.37 L338.83 35.78 L339.73 35.21 L340.64 34.67 L341.54 34.16 L342.45 33.69 L343.35 33.27 L344.26 32.91 L345.16 32.61 L346.07 32.37 L346.97 32.15 L347.88 31.95 L348.78 31.76 L349.69 31.60 L350.59 31.45 L351.50 31.33 L352.40 31.23 L353.31 31.15 L354.21 31.09 L355.12 31.05 L356.02 31.02 L356.93 30.99 L357.83 30.97 L358.73 30.94 L359.64 30.90 L360.54 30.84 L361.45 30.76 L362.35 30.52 L363.26 30.09 L364.16 29.53 L365.07 28.89 L365.97 28.26 L366.88 27.57 L367.78 26.78 L368.69 25.91 L369.59 24.97 L370.50 23.96 L371.40 22.92 L372.31 21.84 L373.21 20.74 L374.12 19.63 L375.02 18.53 L375.93 17.45 L376.83 16.37 L377.74 15.25 L378.64 14.11 L379.55 12.94 L380.45 11.76 L381.35 10.57 L382.26 9.38 L383.16 8.19 L384.07 7.02 L384.97 5.88 L385.88 4.74 L386.78 3.61 L387.69 2.49 L388.59 1.37 L389.50 0.25 L390.40 -0.86 L391.31 -1.97 L392.21 -3.07"/>
</g>
<path d="M289.93 118.70V114.00M289.93 5.25V9.95M340.57 118.70V114.00M340.57 5.25V9.95M264.62 118.70V115.80M264.62 5.25V8.15M315.25 118.70V115.80M315.25 5.25V8.15M365.88 118.70V115.80M365.88 5.25V8.15M239.30 80.88H244.00M391.20 80.88H386.50M239.30 43.07H244.00M391.20 43.07H386.50M239.30 99.79H242.20M391.20 99.79H388.30M239.30 61.98H242.20M391.20 61.98H388.30M239.30 24.16H242.20M391.20 24.16H388.30" fill="none" stroke="#000" stroke-width="1.30"/>
<rect x="239.30" y="5.25" width="151.90" height="113.45" fill="none" stroke="#000" stroke-width="1.60"/>
<text x="239.30" y="132.80" font-size="10.80" text-anchor="middle">50</text>
<text x="289.93" y="132.80" font-size="10.80" text-anchor="middle">150</text>
<text x="340.57" y="132.80" font-size="10.80" text-anchor="middle">250</text>
<text x="391.20" y="132.80" font-size="10.80" text-anchor="middle">350</text>
<text x="234.40" y="121.60" font-size="10.80" text-anchor="end">200</text>
<text x="234.40" y="83.78" font-size="10.80" text-anchor="end">300</text>
<text x="234.40" y="45.97" font-size="10.80" text-anchor="end">400</text>
<text x="234.40" y="8.15" font-size="10.80" text-anchor="end">500</text>
<text x="315.35" y="150.10" font-size="13.00" text-anchor="middle">T (K)</text>
<text x="254.50" y="28.80" font-size="13.00">(b)</text>
<path d="M297.40 35.00L314.97 63.29" stroke="#000" stroke-width="1" fill="none"/>
<path d="M317.40 67.20L312.79 63.47L316.10 61.41Z" fill="#000"/>
<text transform="translate(217.30 61.40) rotate(-90)" font-size="19.00" text-anchor="middle">ε</text>
<path d="M202.00 53.75 C203.60 53.55 205.20 54.00 205.90 56.05 C205.00 54.95 203.90 54.75 203.05 55.35 A1.15 1.15 0 1 1 202.00 53.75Z" fill="#111"/>
<path clip-path="url(#cp_c)" d="M444.13 110.00 L444.96 109.73 L445.78 109.45 L446.61 109.16 L447.43 108.87 L448.26 108.56 L449.08 108.25 L449.90 107.93 L450.73 107.61 L451.55 107.27 L452.38 106.93 L453.20 106.59 L454.03 106.23 L454.85 105.87 L455.68 105.51 L456.50 105.14 L457.32 104.76 L458.15 104.38 L458.97 103.99 L459.80 103.60 L460.62 103.21 L461.45 102.81 L462.27 102.40 L463.10 101.99 L463.92 101.58 L464.74 101.16 L465.57 100.74 L466.39 100.31 L467.22 99.85 L468.04 99.39 L468.87 98.91 L469.69 98.42 L470.52 97.91 L471.34 97.41 L472.16 96.89 L472.99 96.37 L473.81 95.85 L474.64 95.32 L475.46 94.79 L476.29 94.27 L477.11 93.75 L477.94 93.23 L478.76 92.72 L479.59 92.21 L480.41 91.69 L481.23 91.17 L482.06 90.65 L482.88 90.12 L483.71 89.60 L484.53 89.06 L485.36 88.53 L486.18 88.00 L487.01 87.46 L487.83 86.93 L488.65 86.40 L489.48 85.87 L490.30 85.34 L491.13 84.82 L491.95 84.30 L492.78 83.78 L493.60 83.27 L494.43 82.76 L495.25 82.26 L496.07 81.77 L496.90 81.28 L497.72 80.80 L498.55 80.33 L499.37 79.87 L500.20 79.41 L501.02 78.96 L501.85 78.51 L502.67 78.06 L503.49 77.62 L504.32 77.18 L505.14 76.74 L505.97 76.31 L506.79 75.88 L507.62 75.46 L508.44 75.04 L509.27 74.62 L510.09 74.20 L510.91 73.78 L511.74 73.37 L512.56 72.95 L513.39 72.54 L514.21 72.13 L515.04 71.72 L515.86 71.32 L516.69 70.91 L517.51 70.51 L518.33 70.11 L519.16 69.72 L519.98 69.34 L520.81 68.97 L521.63 68.59 L522.46 68.22 L523.28 67.85 L524.11 67.48 L524.93 67.11 L525.75 66.74 L526.58 66.36 L527.40 65.98 L528.23 65.60 L529.05 65.20 L529.88 64.80 L530.70 64.39 L531.53 63.97 L532.35 63.54 L533.17 63.10 L534.00 62.65 L534.82 62.19 L535.65 61.73 L536.47 61.25 L537.30 60.77 L538.12 60.27 L538.95 59.76 L539.77 59.24 L540.59 58.70 L541.42 58.14 L542.24 57.56 L543.07 56.96 L543.89 56.34 L544.72 55.69 L545.54 55.02 L546.37 54.33 L547.19 53.62 L548.01 52.88 L548.84 52.11 L549.66 51.32 L550.49 50.51 L551.31 49.67 L552.14 48.80 L552.96 47.91 L553.79 46.98 L554.61 46.01 L555.44 44.99 L556.26 43.94 L557.08 42.85 L557.91 41.72 L558.73 40.56 L559.56 39.36 L560.38 38.15 L561.21 36.90 L562.03 35.64 L562.86 34.36 L563.68 33.06 L564.50 31.74 L565.33 30.42 L566.15 29.10 L566.98 27.77 L567.80 26.41 L568.63 25.02 L569.45 23.58 L570.28 22.08 L571.10 20.52 L571.92 18.88 L572.75 17.15 L573.57 15.33 L574.40 13.39 L575.22 11.19 L576.05 8.71 L576.87 6.05 L577.70 3.29 L578.52 0.50 L579.34 -2.39 L580.17 -5.38 L580.99 -8.47 L581.82 -11.67 L582.64 -14.97 L583.47 -18.39 L583.47 -11.77 L582.64 -8.50 L581.82 -5.35 L580.99 -2.31 L580.17 0.63 L579.34 3.45 L578.52 6.17 L577.70 8.78 L576.87 11.34 L576.05 13.80 L575.22 16.09 L574.40 18.14 L573.57 19.96 L572.75 21.68 L571.92 23.31 L571.10 24.86 L570.28 26.34 L569.45 27.76 L568.63 29.12 L567.80 30.45 L566.98 31.74 L566.15 33.01 L565.33 34.27 L564.50 35.52 L563.68 36.77 L562.86 38.01 L562.03 39.23 L561.21 40.43 L560.38 41.61 L559.56 42.77 L558.73 43.91 L557.91 45.02 L557.08 46.09 L556.26 47.14 L555.44 48.14 L554.61 49.11 L553.79 50.04 L552.96 50.93 L552.14 51.78 L551.31 52.61 L550.49 53.40 L549.66 54.18 L548.84 54.93 L548.01 55.65 L547.19 56.36 L546.37 57.04 L545.54 57.71 L544.72 58.36 L543.89 58.99 L543.07 59.61 L542.24 60.20 L541.42 60.78 L540.59 61.32 L539.77 61.86 L538.95 62.37 L538.12 62.88 L537.30 63.38 L536.47 63.87 L535.65 64.37 L534.82 64.87 L534.00 65.37 L533.17 65.89 L532.35 66.43 L531.53 66.97 L530.70 67.51 L529.88 68.06 L529.05 68.62 L528.23 69.17 L527.40 69.73 L526.58 70.29 L525.75 70.85 L524.93 71.41 L524.11 71.97 L523.28 72.53 L522.46 73.08 L521.63 73.64 L520.81 74.19 L519.98 74.73 L519.16 75.27 L518.33 75.80 L517.51 76.33 L516.69 76.85 L515.86 77.36 L515.04 77.87 L514.21 78.38 L513.39 78.88 L512.56 79.38 L511.74 79.87 L510.91 80.37 L510.09 80.86 L509.27 81.34 L508.44 81.83 L507.62 82.31 L506.79 82.79 L505.97 83.27 L505.14 83.74 L504.32 84.22 L503.49 84.69 L502.67 85.16 L501.85 85.64 L501.02 86.11 L500.20 86.58 L499.37 87.05 L498.55 87.52 L497.72 87.99 L496.90 88.46 L496.07 88.92 L495.25 89.39 L494.43 89.86 L493.60 90.32 L492.78 90.78 L491.95 91.24 L491.13 91.70 L490.30 92.16 L489.48 92.62 L488.65 93.08 L487.83 93.53 L487.01 93.99 L486.18 94.44 L485.36 94.89 L484.53 95.35 L483.71 95.80 L482.88 96.25 L482.06 96.70 L481.23 97.14 L480.41 97.59 L479.59 98.04 L478.76 98.48 L477.94 98.93 L477.11 99.39 L476.29 99.84 L475.46 100.30 L474.64 100.76 L473.81 101.22 L472.99 101.67 L472.16 102.13 L471.34 102.58 L470.52 103.02 L469.69 103.46 L468.87 103.88 L468.04 104.30 L467.22 104.71 L466.39 105.11 L465.57 105.49 L464.74 105.86 L463.92 106.23 L463.10 106.59 L462.27 106.95 L461.45 107.31 L460.62 107.66 L459.80 108.01 L458.97 108.36 L458.15 108.70 L457.32 109.03 L456.50 109.37 L455.68 109.69 L454.85 110.02 L454.03 110.33 L453.20 110.65 L452.38 110.95 L451.55 111.25 L450.73 111.55 L449.90 111.84 L449.08 112.12 L448.26 112.40 L447.43 112.67 L446.61 112.94 L445.78 113.19 L444.96 113.45 L444.13 113.69 Z" fill="#858585" stroke="#858585" stroke-width="1.2" stroke-linejoin="round"/>
<g clip-path="url(#cp_c)" fill="none" stroke="#000" stroke-width="1.20" stroke-linejoin="round">
<path d="M444.13 110.00 L444.96 109.73 L445.78 109.45 L446.61 109.16 L447.43 108.87 L448.26 108.56 L449.08 108.25 L449.90 107.93 L450.73 107.61 L451.55 107.27 L452.38 106.93 L453.20 106.59 L454.03 106.23 L454.85 105.87 L455.68 105.51 L456.50 105.14 L457.32 104.76 L458.15 104.38 L458.97 103.99 L459.80 103.60 L460.62 103.21 L461.45 102.81 L462.27 102.40 L463.10 101.99 L463.92 101.58 L464.74 101.16 L465.57 100.74 L466.39 100.31 L467.22 99.85 L468.04 99.39 L468.87 98.91 L469.69 98.42 L470.52 97.91 L471.34 97.41 L472.16 96.89 L472.99 96.37 L473.81 95.85 L474.64 95.32 L475.46 94.79 L476.29 94.27 L477.11 93.75 L477.94 93.23 L478.76 92.72 L479.59 92.21 L480.41 91.69 L481.23 91.17 L482.06 90.65 L482.88 90.12 L483.71 89.60 L484.53 89.06 L485.36 88.53 L486.18 88.00 L487.01 87.46 L487.83 86.93 L488.65 86.40 L489.48 85.87 L490.30 85.34 L491.13 84.82 L491.95 84.30 L492.78 83.78 L493.60 83.27 L494.43 82.76 L495.25 82.26 L496.07 81.77 L496.90 81.28 L497.72 80.80 L498.55 80.33 L499.37 79.87 L500.20 79.41 L501.02 78.96 L501.85 78.51 L502.67 78.06 L503.49 77.62 L504.32 77.18 L505.14 76.74 L505.97 76.31 L506.79 75.88 L507.62 75.46 L508.44 75.04 L509.27 74.62 L510.09 74.20 L510.91 73.78 L511.74 73.37 L512.56 72.95 L513.39 72.54 L514.21 72.13 L515.04 71.72 L515.86 71.32 L516.69 70.91 L517.51 70.51 L518.33 70.11 L519.16 69.72 L519.98 69.34 L520.81 68.97 L521.63 68.59 L522.46 68.22 L523.28 67.85 L524.11 67.48 L524.93 67.11 L525.75 66.74 L526.58 66.36 L527.40 65.98 L528.23 65.60 L529.05 65.20 L529.88 64.80 L530.70 64.39 L531.53 63.97 L532.35 63.54 L533.17 63.10 L534.00 62.65 L534.82 62.19 L535.65 61.73 L536.47 61.25 L537.30 60.77 L538.12 60.27 L538.95 59.76 L539.77 59.24 L540.59 58.70 L541.42 58.14 L542.24 57.56 L543.07 56.96 L543.89 56.34 L544.72 55.69 L545.54 55.02 L546.37 54.33 L547.19 53.62 L548.01 52.88 L548.84 52.11 L549.66 51.32 L550.49 50.51 L551.31 49.67 L552.14 48.80 L552.96 47.91 L553.79 46.98 L554.61 46.01 L555.44 44.99 L556.26 43.94 L557.08 42.85 L557.91 41.72 L558.73 40.56 L559.56 39.36 L560.38 38.15 L561.21 36.90 L562.03 35.64 L562.86 34.36 L563.68 33.06 L564.50 31.74 L565.33 30.42 L566.15 29.10 L566.98 27.77 L567.80 26.41 L568.63 25.02 L569.45 23.58 L570.28 22.08 L571.10 20.52 L571.92 18.88 L572.75 17.15 L573.57 15.33 L574.40 13.39 L575.22 11.19 L576.05 8.71 L576.87 6.05 L577.70 3.29 L578.52 0.50 L579.34 -2.39 L580.17 -5.38 L580.99 -8.47 L581.82 -11.67 L582.64 -14.97 L583.47 -18.39"/>
<path d="M444.13 110.92 L444.96 110.66 L445.78 110.39 L446.61 110.11 L447.43 109.82 L448.26 109.52 L449.08 109.22 L449.90 108.91 L450.73 108.59 L451.55 108.27 L452.38 107.94 L453.20 107.60 L454.03 107.26 L454.85 106.91 L455.68 106.56 L456.50 106.20 L457.32 105.83 L458.15 105.46 L458.97 105.08 L459.80 104.70 L460.62 104.32 L461.45 103.93 L462.27 103.54 L463.10 103.14 L463.92 102.74 L464.74 102.34 L465.57 101.93 L466.39 101.51 L467.22 101.07 L468.04 100.62 L468.87 100.15 L469.69 99.68 L470.52 99.19 L471.34 98.70 L472.16 98.20 L472.99 97.70 L473.81 97.19 L474.64 96.68 L475.46 96.17 L476.29 95.66 L477.11 95.16 L477.94 94.66 L478.76 94.16 L479.59 93.67 L480.41 93.17 L481.23 92.67 L482.06 92.16 L482.88 91.66 L483.71 91.15 L484.53 90.64 L485.36 90.12 L486.18 89.61 L487.01 89.10 L487.83 88.59 L488.65 88.07 L489.48 87.56 L490.30 87.05 L491.13 86.54 L491.95 86.04 L492.78 85.54 L493.60 85.04 L494.43 84.54 L495.25 84.05 L496.07 83.56 L496.90 83.08 L497.72 82.60 L498.55 82.13 L499.37 81.66 L500.20 81.20 L501.02 80.74 L501.85 80.29 L502.67 79.83 L503.49 79.38 L504.32 78.94 L505.14 78.49 L505.97 78.05 L506.79 77.61 L507.62 77.17 L508.44 76.73 L509.27 76.30 L510.09 75.86 L510.91 75.43 L511.74 75.00 L512.56 74.56 L513.39 74.13 L514.21 73.70 L515.04 73.26 L515.86 72.83 L516.69 72.39 L517.51 71.96 L518.33 71.53 L519.16 71.11 L519.98 70.69 L520.81 70.27 L521.63 69.85 L522.46 69.44 L523.28 69.02 L524.11 68.61 L524.93 68.19 L525.75 67.77 L526.58 67.35 L527.40 66.93 L528.23 66.50 L529.05 66.06 L529.88 65.62 L530.70 65.18 L531.53 64.72 L532.35 64.26 L533.17 63.79 L534.00 63.33 L534.82 62.86 L535.65 62.38 L536.47 61.90 L537.30 61.42 L538.12 60.92 L538.95 60.41 L539.77 59.89 L540.59 59.35 L541.42 58.80 L542.24 58.22 L543.07 57.62 L543.89 57.00 L544.72 56.36 L545.54 55.70 L546.37 55.01 L547.19 54.30 L548.01 53.57 L548.84 52.82 L549.66 52.04 L550.49 51.23 L551.31 50.40 L552.14 49.55 L552.96 48.66 L553.79 47.75 L554.61 46.79 L555.44 45.78 L556.26 44.74 L557.08 43.66 L557.91 42.54 L558.73 41.39 L559.56 40.22 L560.38 39.01 L561.21 37.79 L562.03 36.54 L562.86 35.27 L563.68 33.99 L564.50 32.69 L565.33 31.39 L566.15 30.08 L566.98 28.76 L567.80 27.42 L568.63 26.04 L569.45 24.62 L570.28 23.15 L571.10 21.61 L571.92 19.99 L572.75 18.29 L573.57 16.49 L574.40 14.58 L575.22 12.41 L576.05 9.98 L576.87 7.38 L577.70 4.66 L578.52 1.92 L579.34 -0.93 L580.17 -3.87 L580.99 -6.93 L581.82 -10.09 L582.64 -13.36 L583.47 -16.73"/>
<path d="M444.13 111.85 L444.96 111.59 L445.78 111.32 L446.61 111.05 L447.43 110.77 L448.26 110.48 L449.08 110.19 L449.90 109.89 L450.73 109.58 L451.55 109.26 L452.38 108.94 L453.20 108.62 L454.03 108.28 L454.85 107.95 L455.68 107.60 L456.50 107.25 L457.32 106.90 L458.15 106.54 L458.97 106.18 L459.80 105.81 L460.62 105.43 L461.45 105.06 L462.27 104.68 L463.10 104.29 L463.92 103.90 L464.74 103.51 L465.57 103.12 L466.39 102.71 L467.22 102.28 L468.04 101.84 L468.87 101.40 L469.69 100.94 L470.52 100.47 L471.34 99.99 L472.16 99.51 L472.99 99.02 L473.81 98.53 L474.64 98.04 L475.46 97.55 L476.29 97.06 L477.11 96.57 L477.94 96.08 L478.76 95.60 L479.59 95.12 L480.41 94.64 L481.23 94.16 L482.06 93.67 L482.88 93.19 L483.71 92.70 L484.53 92.21 L485.36 91.72 L486.18 91.22 L487.01 90.73 L487.83 90.24 L488.65 89.74 L489.48 89.25 L490.30 88.76 L491.13 88.27 L491.95 87.78 L492.78 87.29 L493.60 86.80 L494.43 86.31 L495.25 85.83 L496.07 85.35 L496.90 84.87 L497.72 84.40 L498.55 83.93 L499.37 83.46 L500.20 82.99 L501.02 82.53 L501.85 82.07 L502.67 81.61 L503.49 81.15 L504.32 80.69 L505.14 80.24 L505.97 79.79 L506.79 79.33 L507.62 78.88 L508.44 78.43 L509.27 77.98 L510.09 77.53 L510.91 77.08 L511.74 76.62 L512.56 76.17 L513.39 75.71 L514.21 75.26 L515.04 74.80 L515.86 74.34 L516.69 73.88 L517.51 73.42 L518.33 72.96 L519.16 72.50 L519.98 72.03 L520.81 71.57 L521.63 71.11 L522.46 70.65 L523.28 70.19 L524.11 69.73 L524.93 69.27 L525.75 68.80 L526.58 68.33 L527.40 67.86 L528.23 67.39 L529.05 66.92 L529.88 66.44 L530.70 65.96 L531.53 65.47 L532.35 64.98 L533.17 64.49 L534.00 64.01 L534.82 63.52 L535.65 63.04 L536.47 62.56 L537.30 62.07 L538.12 61.57 L538.95 61.06 L539.77 60.54 L540.59 60.01 L541.42 59.46 L542.24 58.88 L543.07 58.28 L543.89 57.66 L544.72 57.03 L545.54 56.37 L546.37 55.69 L547.19 54.99 L548.01 54.26 L548.84 53.52 L549.66 52.75 L550.49 51.96 L551.31 51.14 L552.14 50.29 L552.96 49.42 L553.79 48.51 L554.61 47.56 L555.44 46.57 L556.26 45.54 L557.08 44.47 L557.91 43.37 L558.73 42.23 L559.56 41.07 L560.38 39.88 L561.21 38.67 L562.03 37.43 L562.86 36.18 L563.68 34.91 L564.50 33.63 L565.33 32.35 L566.15 31.06 L566.98 29.76 L567.80 28.43 L568.63 27.07 L569.45 25.67 L570.28 24.21 L571.10 22.69 L571.92 21.10 L572.75 19.42 L573.57 17.64 L574.40 15.76 L575.22 13.64 L576.05 11.26 L576.87 8.70 L577.70 6.04 L578.52 3.33 L579.34 0.53 L580.17 -2.37 L580.99 -5.39 L581.82 -8.51 L582.64 -11.74 L583.47 -15.08"/>
<path d="M444.13 112.77 L444.96 112.52 L445.78 112.26 L446.61 111.99 L447.43 111.72 L448.26 111.44 L449.08 111.16 L449.90 110.86 L450.73 110.56 L451.55 110.26 L452.38 109.95 L453.20 109.63 L454.03 109.31 L454.85 108.98 L455.68 108.65 L456.50 108.31 L457.32 107.97 L458.15 107.62 L458.97 107.27 L459.80 106.91 L460.62 106.55 L461.45 106.18 L462.27 105.81 L463.10 105.44 L463.92 105.07 L464.74 104.69 L465.57 104.30 L466.39 103.91 L467.22 103.50 L468.04 103.07 L468.87 102.64 L469.69 102.20 L470.52 101.74 L471.34 101.28 L472.16 100.82 L472.99 100.35 L473.81 99.87 L474.64 99.40 L475.46 98.92 L476.29 98.45 L477.11 97.98 L477.94 97.51 L478.76 97.04 L479.59 96.58 L480.41 96.12 L481.23 95.65 L482.06 95.18 L482.88 94.72 L483.71 94.25 L484.53 93.78 L485.36 93.31 L486.18 92.83 L487.01 92.36 L487.83 91.89 L488.65 91.41 L489.48 90.94 L490.30 90.46 L491.13 89.99 L491.95 89.51 L492.78 89.04 L493.60 88.56 L494.43 88.09 L495.25 87.61 L496.07 87.14 L496.90 86.66 L497.72 86.19 L498.55 85.72 L499.37 85.25 L500.20 84.78 L501.02 84.32 L501.85 83.85 L502.67 83.38 L503.49 82.92 L504.32 82.46 L505.14 81.99 L505.97 81.53 L506.79 81.06 L507.62 80.60 L508.44 80.13 L509.27 79.66 L510.09 79.19 L510.91 78.72 L511.74 78.25 L512.56 77.78 L513.39 77.30 L514.21 76.82 L515.04 76.34 L515.86 75.85 L516.69 75.36 L517.51 74.87 L518.33 74.38 L519.16 73.88 L519.98 73.38 L520.81 72.88 L521.63 72.38 L522.46 71.87 L523.28 71.36 L524.11 70.85 L524.93 70.34 L525.75 69.83 L526.58 69.31 L527.40 68.80 L528.23 68.28 L529.05 67.77 L529.88 67.25 L530.70 66.74 L531.53 66.22 L532.35 65.71 L533.17 65.19 L534.00 64.69 L534.82 64.19 L535.65 63.70 L536.47 63.21 L537.30 62.72 L538.12 62.22 L538.95 61.72 L539.77 61.20 L540.59 60.67 L541.42 60.12 L542.24 59.54 L543.07 58.94 L543.89 58.33 L544.72 57.69 L545.54 57.04 L546.37 56.37 L547.19 55.67 L548.01 54.96 L548.84 54.22 L549.66 53.46 L550.49 52.68 L551.31 51.87 L552.14 51.04 L552.96 50.17 L553.79 49.28 L554.61 48.34 L555.44 47.36 L556.26 46.34 L557.08 45.28 L557.91 44.19 L558.73 43.07 L559.56 41.92 L560.38 40.75 L561.21 39.55 L562.03 38.33 L562.86 37.10 L563.68 35.84 L564.50 34.58 L565.33 33.31 L566.15 32.04 L566.98 30.75 L567.80 29.44 L568.63 28.10 L569.45 26.71 L570.28 25.27 L571.10 23.77 L571.92 22.20 L572.75 20.55 L573.57 18.80 L574.40 16.95 L575.22 14.86 L576.05 12.53 L576.87 10.02 L577.70 7.41 L578.52 4.75 L579.34 1.99 L580.17 -0.87 L580.99 -3.85 L581.82 -6.93 L582.64 -10.12 L583.47 -13.42"/>
<path d="M444.13 113.69 L444.96 113.45 L445.78 113.19 L446.61 112.94 L447.43 112.67 L448.26 112.40 L449.08 112.12 L449.90 111.84 L450.73 111.55 L451.55 111.25 L452.38 110.95 L453.20 110.65 L454.03 110.33 L454.85 110.02 L455.68 109.69 L456.50 109.37 L457.32 109.03 L458.15 108.70 L458.97 108.36 L459.80 108.01 L460.62 107.66 L461.45 107.31 L462.27 106.95 L463.10 106.59 L463.92 106.23 L464.74 105.86 L465.57 105.49 L466.39 105.11 L467.22 104.71 L468.04 104.30 L468.87 103.88 L469.69 103.46 L470.52 103.02 L471.34 102.58 L472.16 102.13 L472.99 101.67 L473.81 101.22 L474.64 100.76 L475.46 100.30 L476.29 99.84 L477.11 99.39 L477.94 98.93 L478.76 98.48 L479.59 98.04 L480.41 97.59 L481.23 97.14 L482.06 96.70 L482.88 96.25 L483.71 95.80 L484.53 95.35 L485.36 94.89 L486.18 94.44 L487.01 93.99 L487.83 93.53 L488.65 93.08 L489.48 92.62 L490.30 92.16 L491.13 91.70 L491.95 91.24 L492.78 90.78 L493.60 90.32 L494.43 89.86 L495.25 89.39 L496.07 88.92 L496.90 88.46 L497.72 87.99 L498.55 87.52 L499.37 87.05 L500.20 86.58 L501.02 86.11 L501.85 85.64 L502.67 85.16 L503.49 84.69 L504.32 84.22 L505.14 83.74 L505.97 83.27 L506.79 82.79 L507.62 82.31 L508.44 81.83 L509.27 81.34 L510.09 80.86 L510.91 80.37 L511.74 79.87 L512.56 79.38 L513.39 78.88 L514.21 78.38 L515.04 77.87 L515.86 77.36 L516.69 76.85 L517.51 76.33 L518.33 75.80 L519.16 75.27 L519.98 74.73 L520.81 74.19 L521.63 73.64 L522.46 73.08 L523.28 72.53 L524.11 71.97 L524.93 71.41 L525.75 70.85 L526.58 70.29 L527.40 69.73 L528.23 69.17 L529.05 68.62 L529.88 68.06 L530.70 67.51 L531.53 66.97 L532.35 66.43 L533.17 65.89 L534.00 65.37 L534.82 64.87 L535.65 64.37 L536.47 63.87 L537.30 63.38 L538.12 62.88 L538.95 62.37 L539.77 61.86 L540.59 61.32 L541.42 60.78 L542.24 60.20 L543.07 59.61 L543.89 58.99 L544.72 58.36 L545.54 57.71 L546.37 57.04 L547.19 56.36 L548.01 55.65 L548.84 54.93 L549.66 54.18 L550.49 53.40 L551.31 52.61 L552.14 51.78 L552.96 50.93 L553.79 50.04 L554.61 49.11 L555.44 48.14 L556.26 47.14 L557.08 46.09 L557.91 45.02 L558.73 43.91 L559.56 42.77 L560.38 41.61 L561.21 40.43 L562.03 39.23 L562.86 38.01 L563.68 36.77 L564.50 35.52 L565.33 34.27 L566.15 33.01 L566.98 31.74 L567.80 30.45 L568.63 29.12 L569.45 27.76 L570.28 26.34 L571.10 24.86 L571.92 23.31 L572.75 21.68 L573.57 19.96 L574.40 18.14 L575.22 16.09 L576.05 13.80 L576.87 11.34 L577.70 8.78 L578.52 6.17 L579.34 3.45 L580.17 0.63 L580.99 -2.31 L581.82 -5.35 L582.64 -8.50 L583.47 -11.77"/>
</g>
<path d="M492.27 118.70V114.00M492.27 5.25V9.95M542.93 118.70V114.00M542.93 5.25V9.95M466.93 118.70V115.80M466.93 5.25V8.15M517.60 118.70V115.80M517.60 5.25V8.15M568.27 118.70V115.80M568.27 5.25V8.15M441.60 80.88H446.30M593.60 80.88H588.90M441.60 43.07H446.30M593.60 43.07H588.90M441.60 99.79H444.50M593.60 99.79H590.70M441.60 61.98H444.50M593.60 61.98H590.70M441.60 24.16H444.50M593.60 24.16H590.70" fill="none" stroke="#000" stroke-width="1.30"/>
<rect x="441.60" y="5.25" width="152.00" height="113.45" fill="none" stroke="#000" stroke-width="1.60"/>
<text x="441.60" y="132.80" font-size="10.80" text-anchor="middle">50</text>
<text x="492.27" y="132.80" font-size="10.80" text-anchor="middle">150</text>
<text x="542.93" y="132.80" font-size="10.80" text-anchor="middle">250</text>
<text x="593.60" y="132.80" font-size="10.80" text-anchor="middle">350</text>
<text x="436.70" y="121.60" font-size="10.80" text-anchor="end">300</text>
<text x="436.70" y="83.78" font-size="10.80" text-anchor="end">700</text>
<text x="436.70" y="45.97" font-size="10.80" text-anchor="end">1100</text>
<text x="436.70" y="8.15" font-size="10.80" text-anchor="end">1500</text>
<text x="517.70" y="150.10" font-size="13.00" text-anchor="middle">T (K)</text>
<text x="458.50" y="28.20" font-size="13.00">(c)</text>
<path d="M495.50 64.70L513.44 91.48" stroke="#000" stroke-width="1" fill="none"/>
<path d="M516.00 95.30L511.26 91.73L514.50 89.56Z" fill="#000"/>
<text transform="translate(417.30 61.40) rotate(-90)" font-size="19.00" text-anchor="middle">ε</text>
<path d="M402.00 53.75 C403.60 53.55 405.20 54.00 405.90 56.05 C405.00 54.95 403.90 54.75 403.05 55.35 A1.15 1.15 0 1 1 402.00 53.75Z" fill="#111"/>
<g clip-path="url(#cp_d)" fill="none" stroke="#000" stroke-width="0.78" stroke-linejoin="round">
<path d="M40.60 210.73 L41.50 210.13 L42.41 209.53 L43.31 208.93 L44.21 208.33 L45.12 207.73 L46.02 207.14 L46.93 206.56 L47.83 205.97 L48.73 205.40 L49.64 204.82 L50.54 204.26 L51.44 203.70 L52.35 203.15 L53.25 202.61 L54.15 202.08 L55.06 201.56 L55.96 201.05 L56.87 200.56 L57.77 200.07 L58.67 199.60 L59.58 199.14 L60.48 198.69 L61.38 198.26 L62.29 197.85 L63.19 197.45 L64.09 197.07 L65.00 196.70 L65.90 196.36 L66.80 196.03 L67.71 195.72 L68.61 195.44 L69.52 195.17 L70.42 194.93 L71.32 194.70 L72.23 194.51 L73.13 194.33 L74.03 194.18 L74.94 194.05 L75.84 193.95 L76.74 193.88 L77.65 193.83 L78.55 193.82 L79.46 193.83 L80.36 193.89 L81.26 193.98 L82.17 194.11 L83.07 194.27 L83.97 194.47 L84.88 194.70 L85.78 194.96 L86.68 195.25 L87.59 195.57 L88.49 195.91 L89.40 196.28 L90.30 196.66 L91.20 197.07 L92.11 197.50 L93.01 197.94 L93.91 198.40 L94.82 198.88 L95.72 199.36 L96.62 199.86 L97.53 200.37 L98.43 200.88 L99.34 201.41 L100.24 201.95 L101.14 202.50 L102.05 203.06 L102.95 203.62 L103.85 204.20 L104.76 204.78 L105.66 205.37 L106.56 205.97 L107.47 206.58 L108.37 207.19 L109.27 207.81 L110.18 208.43 L111.08 209.06 L111.99 209.70 L112.89 210.34 L113.79 210.99 L114.70 211.64 L115.60 212.29 L116.50 212.95 L117.41 213.61 L118.31 214.27 L119.21 214.94 L120.12 215.61 L121.02 216.28 L121.93 216.95 L122.83 217.63 L123.73 218.30 L124.64 218.98 L125.54 219.65 L126.44 220.33 L127.35 221.00 L128.25 221.67 L129.15 222.35 L130.06 223.02 L130.96 223.68 L131.87 224.35 L132.77 225.02 L133.67 225.68 L134.58 226.33 L135.48 226.99 L136.38 227.64 L137.29 228.28 L138.19 228.92 L139.09 229.55 L140.00 230.18 L140.90 230.80 L141.81 231.42 L142.71 232.02 L143.61 232.62 L144.52 233.21 L145.42 233.79 L146.32 234.35 L147.23 234.91 L148.13 235.46 L149.03 235.99 L149.94 236.52 L150.84 237.03 L151.74 237.52 L152.65 238.01 L153.55 238.48 L154.46 238.93 L155.36 239.37 L156.26 239.79 L157.17 240.20 L158.07 240.59 L158.97 240.96 L159.88 241.31 L160.78 241.65 L161.68 241.96 L162.59 242.26 L163.49 242.53 L164.40 242.79 L165.30 243.02 L166.20 243.23 L167.11 243.42 L168.01 243.59 L168.91 243.73 L169.82 243.85 L170.72 243.95 L171.62 244.02 L172.53 244.06 L173.43 244.08 L174.34 243.85 L175.24 243.57 L176.14 243.30 L177.05 243.02 L177.95 242.74 L178.85 242.46 L179.76 242.18 L180.66 241.91 L181.56 241.63 L182.47 241.35 L183.37 241.07 L184.28 240.79 L185.18 240.52 L186.08 240.24 L186.99 239.96 L187.89 239.68 L188.79 239.41 L189.70 239.13 L190.60 238.85 L191.50 238.57 L192.41 238.29 L193.31 238.02"/>
<path d="M40.60 211.60 L41.50 210.97 L42.41 210.34 L43.31 209.71 L44.21 209.08 L45.12 208.46 L46.02 207.85 L46.93 207.24 L47.83 206.64 L48.73 206.04 L49.64 205.46 L50.54 204.89 L51.44 204.33 L52.35 203.78 L53.25 203.24 L54.15 202.73 L55.06 202.22 L55.96 201.74 L56.87 201.27 L57.77 200.82 L58.67 200.40 L59.58 199.99 L60.48 199.61 L61.38 199.25 L62.29 198.92 L63.19 198.61 L64.09 198.33 L65.00 198.07 L65.90 197.85 L66.80 197.66 L67.71 197.49 L68.61 197.36 L69.52 197.27 L70.42 197.21 L71.32 197.18 L72.23 197.19 L73.13 197.24 L74.03 197.32 L74.94 197.45 L75.84 197.62 L76.74 197.83 L77.65 198.07 L78.55 198.33 L79.46 198.61 L80.36 198.89 L81.26 199.16 L82.17 199.42 L83.07 199.68 L83.97 199.95 L84.88 200.21 L85.78 200.47 L86.68 200.74 L87.59 201.02 L88.49 201.30 L89.40 201.59 L90.30 201.89 L91.20 202.21 L92.11 202.54 L93.01 202.88 L93.91 203.25 L94.82 203.63 L95.72 204.04 L96.62 204.46 L97.53 204.91 L98.43 205.38 L99.34 205.86 L100.24 206.37 L101.14 206.89 L102.05 207.43 L102.95 207.99 L103.85 208.56 L104.76 209.15 L105.66 209.75 L106.56 210.36 L107.47 210.99 L108.37 211.63 L109.27 212.28 L110.18 212.94 L111.08 213.61 L111.99 214.29 L112.89 214.98 L113.79 215.67 L114.70 216.38 L115.60 217.09 L116.50 217.80 L117.41 218.52 L118.31 219.25 L119.21 219.97 L120.12 220.71 L121.02 221.44 L121.93 222.17 L122.83 222.91 L123.73 223.64 L124.64 224.38 L125.54 225.11 L126.44 225.84 L127.35 226.57 L128.25 227.29 L129.15 228.01 L130.06 228.73 L130.96 229.44 L131.87 230.14 L132.77 230.83 L133.67 231.52 L134.58 232.20 L135.48 232.87 L136.38 233.53 L137.29 234.18 L138.19 234.82 L139.09 235.45 L140.00 236.06 L140.90 236.67 L141.81 237.26 L142.71 237.84 L143.61 238.41 L144.52 238.97 L145.42 239.51 L146.32 240.04 L147.23 240.56 L148.13 241.06 L149.03 241.55 L149.94 242.02 L150.84 242.48 L151.74 242.92 L152.65 243.35 L153.55 243.76 L154.46 244.15 L155.36 244.53 L156.26 244.89 L157.17 245.23 L158.07 245.55 L158.97 245.86 L159.88 246.15 L160.78 246.42 L161.68 246.67 L162.59 246.90 L163.49 247.11 L164.40 247.30 L165.30 247.47 L166.20 247.62 L167.11 247.75 L168.01 247.85 L168.91 247.94 L169.82 248.00 L170.72 248.04 L171.62 248.06 L172.53 247.93 L173.43 247.74 L174.34 247.56 L175.24 247.37 L176.14 247.19 L177.05 247.01 L177.95 246.82 L178.85 246.64 L179.76 246.46 L180.66 246.27 L181.56 246.09 L182.47 245.91 L183.37 245.72 L184.28 245.54 L185.18 245.35 L186.08 245.17 L186.99 244.99 L187.89 244.80 L188.79 244.62 L189.70 244.44 L190.60 244.25 L191.50 244.07 L192.41 243.88 L193.31 243.70"/>
<path d="M40.60 212.47 L41.50 212.00 L42.41 211.53 L43.31 211.07 L44.21 210.61 L45.12 210.15 L46.02 209.69 L46.93 209.25 L47.83 208.81 L48.73 208.37 L49.64 207.95 L50.54 207.54 L51.44 207.13 L52.35 206.74 L53.25 206.37 L54.15 206.00 L55.06 205.66 L55.96 205.33 L56.87 205.01 L57.77 204.72 L58.67 204.44 L59.58 204.18 L60.48 203.95 L61.38 203.74 L62.29 203.55 L63.19 203.38 L64.09 203.24 L65.00 203.13 L65.90 203.04 L66.80 202.98 L67.71 202.95 L68.61 202.96 L69.52 202.99 L70.42 203.05 L71.32 203.15 L72.23 203.29 L73.13 203.45 L74.03 203.66 L74.94 203.90 L75.84 204.16 L76.74 204.45 L77.65 204.76 L78.55 205.08 L79.46 205.40 L80.36 205.73 L81.26 206.05 L82.17 206.37 L83.07 206.69 L83.97 207.02 L84.88 207.34 L85.78 207.67 L86.68 208.00 L87.59 208.34 L88.49 208.69 L89.40 209.04 L90.30 209.41 L91.20 209.78 L92.11 210.16 L93.01 210.56 L93.91 210.97 L94.82 211.39 L95.72 211.83 L96.62 212.29 L97.53 212.76 L98.43 213.24 L99.34 213.74 L100.24 214.25 L101.14 214.78 L102.05 215.31 L102.95 215.86 L103.85 216.42 L104.76 216.99 L105.66 217.57 L106.56 218.16 L107.47 218.76 L108.37 219.36 L109.27 219.98 L110.18 220.60 L111.08 221.23 L111.99 221.86 L112.89 222.50 L113.79 223.15 L114.70 223.80 L115.60 224.45 L116.50 225.10 L117.41 225.76 L118.31 226.43 L119.21 227.09 L120.12 227.75 L121.02 228.42 L121.93 229.09 L122.83 229.75 L123.73 230.41 L124.64 231.08 L125.54 231.74 L126.44 232.40 L127.35 233.05 L128.25 233.70 L129.15 234.35 L130.06 234.99 L130.96 235.63 L131.87 236.26 L132.77 236.88 L133.67 237.50 L134.58 238.11 L135.48 238.71 L136.38 239.30 L137.29 239.88 L138.19 240.46 L139.09 241.02 L140.00 241.58 L140.90 242.12 L141.81 242.66 L142.71 243.18 L143.61 243.69 L144.52 244.19 L145.42 244.68 L146.32 245.15 L147.23 245.61 L148.13 246.06 L149.03 246.49 L149.94 246.91 L150.84 247.32 L151.74 247.71 L152.65 248.09 L153.55 248.45 L154.46 248.79 L155.36 249.12 L156.26 249.43 L157.17 249.72 L158.07 250.00 L158.97 250.26 L159.88 250.50 L160.78 250.72 L161.68 250.93 L162.59 251.11 L163.49 251.28 L164.40 251.42 L165.30 251.55 L166.20 251.65 L167.11 251.73 L168.01 251.79 L168.91 251.83 L169.82 251.85 L170.72 251.77 L171.62 251.66 L172.53 251.55 L173.43 251.44 L174.34 251.33 L175.24 251.22 L176.14 251.11 L177.05 250.99 L177.95 250.88 L178.85 250.77 L179.76 250.66 L180.66 250.55 L181.56 250.44 L182.47 250.33 L183.37 250.22 L184.28 250.11 L185.18 250.00 L186.08 249.89 L186.99 249.78 L187.89 249.67 L188.79 249.56 L189.70 249.45 L190.60 249.34 L191.50 249.23 L192.41 249.12 L193.31 249.01"/>
<path d="M40.60 213.34 L41.50 212.91 L42.41 212.48 L43.31 212.05 L44.21 211.63 L45.12 211.21 L46.02 210.79 L46.93 210.38 L47.83 209.98 L48.73 209.59 L49.64 209.20 L50.54 208.83 L51.44 208.47 L52.35 208.12 L53.25 207.78 L54.15 207.46 L55.06 207.16 L55.96 206.87 L56.87 206.60 L57.77 206.35 L58.67 206.11 L59.58 205.90 L60.48 205.72 L61.38 205.55 L62.29 205.41 L63.19 205.29 L64.09 205.20 L65.00 205.14 L65.90 205.10 L66.80 205.10 L67.71 205.13 L68.61 205.18 L69.52 205.27 L70.42 205.39 L71.32 205.55 L72.23 205.75 L73.13 205.98 L74.03 206.24 L74.94 206.53 L75.84 206.84 L76.74 207.18 L77.65 207.52 L78.55 207.87 L79.46 208.23 L80.36 208.58 L81.26 208.92 L82.17 209.26 L83.07 209.60 L83.97 209.94 L84.88 210.28 L85.78 210.62 L86.68 210.96 L87.59 211.31 L88.49 211.66 L89.40 212.02 L90.30 212.39 L91.20 212.77 L92.11 213.16 L93.01 213.57 L93.91 213.99 L94.82 214.42 L95.72 214.88 L96.62 215.35 L97.53 215.83 L98.43 216.33 L99.34 216.85 L100.24 217.38 L101.14 217.93 L102.05 218.49 L102.95 219.06 L103.85 219.64 L104.76 220.24 L105.66 220.85 L106.56 221.46 L107.47 222.09 L108.37 222.72 L109.27 223.36 L110.18 224.01 L111.08 224.67 L111.99 225.33 L112.89 226.00 L113.79 226.67 L114.70 227.34 L115.60 228.02 L116.50 228.71 L117.41 229.39 L118.31 230.08 L119.21 230.76 L120.12 231.45 L121.02 232.13 L121.93 232.82 L122.83 233.50 L123.73 234.18 L124.64 234.86 L125.54 235.53 L126.44 236.20 L127.35 236.86 L128.25 237.52 L129.15 238.17 L130.06 238.82 L130.96 239.45 L131.87 240.08 L132.77 240.70 L133.67 241.31 L134.58 241.90 L135.48 242.49 L136.38 243.07 L137.29 243.63 L138.19 244.18 L139.09 244.72 L140.00 245.24 L140.90 245.76 L141.81 246.26 L142.71 246.75 L143.61 247.22 L144.52 247.68 L145.42 248.12 L146.32 248.55 L147.23 248.97 L148.13 249.37 L149.03 249.76 L149.94 250.13 L150.84 250.49 L151.74 250.82 L152.65 251.15 L153.55 251.45 L154.46 251.75 L155.36 252.02 L156.26 252.28 L157.17 252.51 L158.07 252.74 L158.97 252.94 L159.88 253.12 L160.78 253.29 L161.68 253.44 L162.59 253.57 L163.49 253.68 L164.40 253.77 L165.30 253.84 L166.20 253.89 L167.11 253.92 L168.01 253.93 L168.91 253.87 L169.82 253.80 L170.72 253.73 L171.62 253.66 L172.53 253.60 L173.43 253.53 L174.34 253.46 L175.24 253.39 L176.14 253.33 L177.05 253.26 L177.95 253.19 L178.85 253.12 L179.76 253.05 L180.66 252.99 L181.56 252.92 L182.47 252.85 L183.37 252.78 L184.28 252.72 L185.18 252.65 L186.08 252.58 L186.99 252.51 L187.89 252.45 L188.79 252.38 L189.70 252.31 L190.60 252.24 L191.50 252.17 L192.41 252.11 L193.31 252.04"/>
<path d="M40.60 214.21 L41.50 213.84 L42.41 213.47 L43.31 213.11 L44.21 212.74 L45.12 212.38 L46.02 212.03 L46.93 211.68 L47.83 211.33 L48.73 211.00 L49.64 210.68 L50.54 210.36 L51.44 210.06 L52.35 209.76 L53.25 209.49 L54.15 209.22 L55.06 208.97 L55.96 208.74 L56.87 208.52 L57.77 208.33 L58.67 208.15 L59.58 207.99 L60.48 207.85 L61.38 207.74 L62.29 207.65 L63.19 207.58 L64.09 207.54 L65.00 207.52 L65.90 207.53 L66.80 207.57 L67.71 207.64 L68.61 207.74 L69.52 207.87 L70.42 208.04 L71.32 208.24 L72.23 208.47 L73.13 208.73 L74.03 209.02 L74.94 209.33 L75.84 209.66 L76.74 210.00 L77.65 210.35 L78.55 210.71 L79.46 211.07 L80.36 211.42 L81.26 211.77 L82.17 212.12 L83.07 212.46 L83.97 212.80 L84.88 213.14 L85.78 213.48 L86.68 213.83 L87.59 214.18 L88.49 214.53 L89.40 214.89 L90.30 215.26 L91.20 215.64 L92.11 216.03 L93.01 216.43 L93.91 216.84 L94.82 217.27 L95.72 217.71 L96.62 218.17 L97.53 218.65 L98.43 219.14 L99.34 219.64 L100.24 220.16 L101.14 220.69 L102.05 221.23 L102.95 221.78 L103.85 222.35 L104.76 222.92 L105.66 223.50 L106.56 224.10 L107.47 224.70 L108.37 225.31 L109.27 225.93 L110.18 226.55 L111.08 227.19 L111.99 227.82 L112.89 228.46 L113.79 229.11 L114.70 229.76 L115.60 230.41 L116.50 231.07 L117.41 231.73 L118.31 232.38 L119.21 233.04 L120.12 233.70 L121.02 234.36 L121.93 235.02 L122.83 235.68 L123.73 236.33 L124.64 236.99 L125.54 237.64 L126.44 238.28 L127.35 238.92 L128.25 239.56 L129.15 240.18 L130.06 240.81 L130.96 241.42 L131.87 242.03 L132.77 242.63 L133.67 243.22 L134.58 243.81 L135.48 244.38 L136.38 244.94 L137.29 245.49 L138.19 246.03 L139.09 246.56 L140.00 247.07 L140.90 247.58 L141.81 248.07 L142.71 248.55 L143.61 249.02 L144.52 249.47 L145.42 249.91 L146.32 250.33 L147.23 250.74 L148.13 251.14 L149.03 251.52 L149.94 251.89 L150.84 252.23 L151.74 252.57 L152.65 252.88 L153.55 253.19 L154.46 253.47 L155.36 253.73 L156.26 253.98 L157.17 254.21 L158.07 254.42 L158.97 254.62 L159.88 254.79 L160.78 254.94 L161.68 255.08 L162.59 255.19 L163.49 255.29 L164.40 255.36 L165.30 255.41 L166.20 255.44 L167.11 255.44 L168.01 255.39 L168.91 255.33 L169.82 255.27 L170.72 255.21 L171.62 255.15 L172.53 255.09 L173.43 255.03 L174.34 254.98 L175.24 254.92 L176.14 254.86 L177.05 254.80 L177.95 254.74 L178.85 254.68 L179.76 254.62 L180.66 254.57 L181.56 254.51 L182.47 254.45 L183.37 254.39 L184.28 254.33 L185.18 254.27 L186.08 254.21 L186.99 254.15 L187.89 254.10 L188.79 254.04 L189.70 253.98 L190.60 253.92 L191.50 253.86 L192.41 253.80 L193.31 253.74"/>
<path d="M40.60 215.09 L41.50 214.76 L42.41 214.44 L43.31 214.12 L44.21 213.80 L45.12 213.48 L46.02 213.17 L46.93 212.87 L47.83 212.57 L48.73 212.28 L49.64 212.00 L50.54 211.73 L51.44 211.47 L52.35 211.23 L53.25 210.99 L54.15 210.77 L55.06 210.57 L55.96 210.38 L56.87 210.21 L57.77 210.05 L58.67 209.92 L59.58 209.80 L60.48 209.71 L61.38 209.64 L62.29 209.59 L63.19 209.56 L64.09 209.56 L65.00 209.59 L65.90 209.64 L66.80 209.72 L67.71 209.83 L68.61 209.97 L69.52 210.14 L70.42 210.35 L71.32 210.58 L72.23 210.84 L73.13 211.13 L74.03 211.44 L74.94 211.77 L75.84 212.11 L76.74 212.46 L77.65 212.82 L78.55 213.18 L79.46 213.53 L80.36 213.88 L81.26 214.22 L82.17 214.56 L83.07 214.89 L83.97 215.21 L84.88 215.53 L85.78 215.86 L86.68 216.18 L87.59 216.50 L88.49 216.83 L89.40 217.17 L90.30 217.51 L91.20 217.85 L92.11 218.21 L93.01 218.58 L93.91 218.96 L94.82 219.36 L95.72 219.77 L96.62 220.20 L97.53 220.64 L98.43 221.09 L99.34 221.56 L100.24 222.04 L101.14 222.54 L102.05 223.05 L102.95 223.57 L103.85 224.10 L104.76 224.64 L105.66 225.19 L106.56 225.75 L107.47 226.32 L108.37 226.89 L109.27 227.48 L110.18 228.07 L111.08 228.67 L111.99 229.27 L112.89 229.88 L113.79 230.50 L114.70 231.12 L115.60 231.74 L116.50 232.37 L117.41 233.00 L118.31 233.63 L119.21 234.26 L120.12 234.90 L121.02 235.53 L121.93 236.17 L122.83 236.80 L123.73 237.43 L124.64 238.07 L125.54 238.70 L126.44 239.32 L127.35 239.95 L128.25 240.57 L129.15 241.18 L130.06 241.79 L130.96 242.40 L131.87 243.00 L132.77 243.59 L133.67 244.18 L134.58 244.75 L135.48 245.32 L136.38 245.88 L137.29 246.44 L138.19 246.98 L139.09 247.51 L140.00 248.03 L140.90 248.54 L141.81 249.04 L142.71 249.53 L143.61 250.00 L144.52 250.46 L145.42 250.91 L146.32 251.34 L147.23 251.76 L148.13 252.17 L149.03 252.56 L149.94 252.93 L150.84 253.29 L151.74 253.63 L152.65 253.95 L153.55 254.25 L154.46 254.54 L155.36 254.81 L156.26 255.06 L157.17 255.29 L158.07 255.50 L158.97 255.69 L159.88 255.85 L160.78 256.00 L161.68 256.12 L162.59 256.22 L163.49 256.30 L164.40 256.36 L165.30 256.39 L166.20 256.39 L167.11 256.34 L168.01 256.30 L168.91 256.26 L169.82 256.21 L170.72 256.17 L171.62 256.12 L172.53 256.08 L173.43 256.04 L174.34 255.99 L175.24 255.95 L176.14 255.91 L177.05 255.86 L177.95 255.82 L178.85 255.77 L179.76 255.73 L180.66 255.69 L181.56 255.64 L182.47 255.60 L183.37 255.55 L184.28 255.51 L185.18 255.47 L186.08 255.42 L186.99 255.38 L187.89 255.33 L188.79 255.29 L189.70 255.25 L190.60 255.20 L191.50 255.16 L192.41 255.11 L193.31 255.07"/>
<path d="M40.60 215.96 L41.50 215.66 L42.41 215.36 L43.31 215.06 L44.21 214.77 L45.12 214.48 L46.02 214.20 L46.93 213.92 L47.83 213.65 L48.73 213.39 L49.64 213.13 L50.54 212.89 L51.44 212.66 L52.35 212.44 L53.25 212.23 L54.15 212.04 L55.06 211.86 L55.96 211.70 L56.87 211.55 L57.77 211.42 L58.67 211.32 L59.58 211.23 L60.48 211.16 L61.38 211.12 L62.29 211.10 L63.19 211.10 L64.09 211.13 L65.00 211.19 L65.90 211.27 L66.80 211.38 L67.71 211.52 L68.61 211.69 L69.52 211.89 L70.42 212.12 L71.32 212.38 L72.23 212.66 L73.13 212.97 L74.03 213.30 L74.94 213.64 L75.84 213.99 L76.74 214.34 L77.65 214.70 L78.55 215.07 L79.46 215.43 L80.36 215.78 L81.26 216.12 L82.17 216.46 L83.07 216.79 L83.97 217.12 L84.88 217.45 L85.78 217.77 L86.68 218.10 L87.59 218.42 L88.49 218.75 L89.40 219.09 L90.30 219.43 L91.20 219.77 L92.11 220.13 L93.01 220.49 L93.91 220.87 L94.82 221.26 L95.72 221.66 L96.62 222.07 L97.53 222.50 L98.43 222.95 L99.34 223.40 L100.24 223.87 L101.14 224.35 L102.05 224.84 L102.95 225.34 L103.85 225.85 L104.76 226.37 L105.66 226.90 L106.56 227.43 L107.47 227.98 L108.37 228.53 L109.27 229.09 L110.18 229.66 L111.08 230.23 L111.99 230.81 L112.89 231.40 L113.79 231.98 L114.70 232.58 L115.60 233.17 L116.50 233.77 L117.41 234.38 L118.31 234.98 L119.21 235.59 L120.12 236.20 L121.02 236.81 L121.93 237.41 L122.83 238.02 L123.73 238.63 L124.64 239.24 L125.54 239.85 L126.44 240.45 L127.35 241.05 L128.25 241.65 L129.15 242.24 L130.06 242.83 L130.96 243.42 L131.87 244.00 L132.77 244.58 L133.67 245.15 L134.58 245.71 L135.48 246.26 L136.38 246.81 L137.29 247.35 L138.19 247.89 L139.09 248.41 L140.00 248.92 L140.90 249.42 L141.81 249.92 L142.71 250.40 L143.61 250.86 L144.52 251.32 L145.42 251.76 L146.32 252.19 L147.23 252.60 L148.13 253.00 L149.03 253.39 L149.94 253.75 L150.84 254.10 L151.74 254.44 L152.65 254.75 L153.55 255.05 L154.46 255.33 L155.36 255.58 L156.26 255.82 L157.17 256.04 L158.07 256.24 L158.97 256.41 L159.88 256.56 L160.78 256.69 L161.68 256.79 L162.59 256.87 L163.49 256.93 L164.40 256.96 L165.30 256.96 L166.20 256.93 L167.11 256.90 L168.01 256.87 L168.91 256.83 L169.82 256.80 L170.72 256.77 L171.62 256.74 L172.53 256.71 L173.43 256.68 L174.34 256.65 L175.24 256.62 L176.14 256.59 L177.05 256.56 L177.95 256.53 L178.85 256.50 L179.76 256.47 L180.66 256.44 L181.56 256.41 L182.47 256.38 L183.37 256.35 L184.28 256.32 L185.18 256.29 L186.08 256.26 L186.99 256.23 L187.89 256.20 L188.79 256.17 L189.70 256.14 L190.60 256.11 L191.50 256.08 L192.41 256.05 L193.31 256.02"/>
<path d="M40.60 216.83 L41.50 216.56 L42.41 216.29 L43.31 216.02 L44.21 215.75 L45.12 215.49 L46.02 215.23 L46.93 214.98 L47.83 214.74 L48.73 214.50 L49.64 214.28 L50.54 214.06 L51.44 213.85 L52.35 213.65 L53.25 213.47 L54.15 213.30 L55.06 213.15 L55.96 213.01 L56.87 212.88 L57.77 212.78 L58.67 212.69 L59.58 212.63 L60.48 212.58 L61.38 212.55 L62.29 212.55 L63.19 212.57 L64.09 212.61 L65.00 212.68 L65.90 212.78 L66.80 212.90 L67.71 213.05 L68.61 213.23 L69.52 213.44 L70.42 213.68 L71.32 213.94 L72.23 214.22 L73.13 214.52 L74.03 214.84 L74.94 215.17 L75.84 215.51 L76.74 215.86 L77.65 216.22 L78.55 216.58 L79.46 216.94 L80.36 217.30 L81.26 217.65 L82.17 218.00 L83.07 218.35 L83.97 218.70 L84.88 219.05 L85.78 219.40 L86.68 219.76 L87.59 220.11 L88.49 220.47 L89.40 220.83 L90.30 221.20 L91.20 221.57 L92.11 221.96 L93.01 222.34 L93.91 222.74 L94.82 223.15 L95.72 223.56 L96.62 223.99 L97.53 224.43 L98.43 224.87 L99.34 225.33 L100.24 225.79 L101.14 226.26 L102.05 226.74 L102.95 227.23 L103.85 227.72 L104.76 228.23 L105.66 228.74 L106.56 229.25 L107.47 229.77 L108.37 230.30 L109.27 230.83 L110.18 231.37 L111.08 231.91 L111.99 232.46 L112.89 233.01 L113.79 233.56 L114.70 234.12 L115.60 234.67 L116.50 235.24 L117.41 235.80 L118.31 236.37 L119.21 236.93 L120.12 237.50 L121.02 238.07 L121.93 238.64 L122.83 239.21 L123.73 239.78 L124.64 240.35 L125.54 240.92 L126.44 241.49 L127.35 242.05 L128.25 242.62 L129.15 243.18 L130.06 243.74 L130.96 244.29 L131.87 244.84 L132.77 245.39 L133.67 245.94 L134.58 246.48 L135.48 247.01 L136.38 247.54 L137.29 248.07 L138.19 248.58 L139.09 249.09 L140.00 249.60 L140.90 250.09 L141.81 250.57 L142.71 251.04 L143.61 251.51 L144.52 251.95 L145.42 252.39 L146.32 252.82 L147.23 253.22 L148.13 253.62 L149.03 254.00 L149.94 254.36 L150.84 254.71 L151.74 255.03 L152.65 255.34 L153.55 255.63 L154.46 255.90 L155.36 256.15 L156.26 256.38 L157.17 256.59 L158.07 256.77 L158.97 256.93 L159.88 257.06 L160.78 257.17 L161.68 257.25 L162.59 257.31 L163.49 257.34 L164.40 257.34 L165.30 257.32 L166.20 257.30 L167.11 257.28 L168.01 257.27 L168.91 257.25 L169.82 257.23 L170.72 257.21 L171.62 257.20 L172.53 257.18 L173.43 257.16 L174.34 257.14 L175.24 257.13 L176.14 257.11 L177.05 257.09 L177.95 257.07 L178.85 257.06 L179.76 257.04 L180.66 257.02 L181.56 257.00 L182.47 256.99 L183.37 256.97 L184.28 256.95 L185.18 256.93 L186.08 256.92 L186.99 256.90 L187.89 256.88 L188.79 256.86 L189.70 256.85 L190.60 256.83 L191.50 256.81 L192.41 256.79 L193.31 256.78"/>
<path d="M40.60 217.70 L41.50 217.46 L42.41 217.21 L43.31 216.97 L44.21 216.73 L45.12 216.50 L46.02 216.27 L46.93 216.04 L47.83 215.83 L48.73 215.62 L49.64 215.41 L50.54 215.22 L51.44 215.04 L52.35 214.87 L53.25 214.71 L54.15 214.56 L55.06 214.43 L55.96 214.31 L56.87 214.21 L57.77 214.13 L58.67 214.06 L59.58 214.01 L60.48 213.98 L61.38 213.98 L62.29 213.99 L63.19 214.03 L64.09 214.09 L65.00 214.17 L65.90 214.28 L66.80 214.41 L67.71 214.58 L68.61 214.77 L69.52 214.98 L70.42 215.22 L71.32 215.48 L72.23 215.76 L73.13 216.05 L74.03 216.36 L74.94 216.69 L75.84 217.03 L76.74 217.37 L77.65 217.73 L78.55 218.09 L79.46 218.45 L80.36 218.82 L81.26 219.18 L82.17 219.55 L83.07 219.92 L83.97 220.29 L84.88 220.67 L85.78 221.04 L86.68 221.42 L87.59 221.81 L88.49 222.19 L89.40 222.58 L90.30 222.98 L91.20 223.38 L92.11 223.79 L93.01 224.20 L93.91 224.61 L94.82 225.04 L95.72 225.47 L96.62 225.91 L97.53 226.35 L98.43 226.80 L99.34 227.26 L100.24 227.72 L101.14 228.18 L102.05 228.66 L102.95 229.13 L103.85 229.61 L104.76 230.10 L105.66 230.59 L106.56 231.08 L107.47 231.58 L108.37 232.08 L109.27 232.59 L110.18 233.10 L111.08 233.61 L111.99 234.12 L112.89 234.64 L113.79 235.15 L114.70 235.67 L115.60 236.19 L116.50 236.71 L117.41 237.24 L118.31 237.76 L119.21 238.29 L120.12 238.81 L121.02 239.34 L121.93 239.86 L122.83 240.39 L123.73 240.91 L124.64 241.43 L125.54 241.96 L126.44 242.48 L127.35 243.00 L128.25 243.51 L129.15 244.03 L130.06 244.54 L130.96 245.05 L131.87 245.56 L132.77 246.07 L133.67 246.57 L134.58 247.06 L135.48 247.56 L136.38 248.05 L137.29 248.53 L138.19 249.01 L139.09 249.49 L140.00 249.95 L140.90 250.41 L141.81 250.86 L142.71 251.31 L143.61 251.74 L144.52 252.16 L145.42 252.57 L146.32 252.97 L147.23 253.36 L148.13 253.74 L149.03 254.10 L149.94 254.45 L150.84 254.78 L151.74 255.09 L152.65 255.40 L153.55 255.68 L154.46 255.95 L155.36 256.19 L156.26 256.42 L157.17 256.63 L158.07 256.82 L158.97 256.99 L159.88 257.14 L160.78 257.26 L161.68 257.37 L162.59 257.44 L163.49 257.50 L164.40 257.53 L165.30 257.53 L166.20 257.49 L167.11 257.40 L168.01 257.26 L168.91 257.08 L169.82 256.85 L170.72 256.59 L171.62 256.30 L172.53 255.97 L173.43 255.62 L174.34 255.24 L175.24 254.83 L176.14 254.40 L177.05 253.96 L177.95 253.50 L178.85 253.03 L179.76 252.55 L180.66 252.00 L181.56 251.34 L182.47 250.57 L183.37 249.70 L184.28 248.74 L185.18 247.70 L186.08 246.58 L186.99 245.38 L187.89 244.12 L188.79 242.80 L189.70 241.43 L190.60 240.01 L191.50 238.56 L192.41 237.07 L193.31 235.55"/>
<path d="M40.60 218.57 L41.50 218.33 L42.41 218.09 L43.31 217.84 L44.21 217.61 L45.12 217.37 L46.02 217.14 L46.93 216.92 L47.83 216.71 L48.73 216.50 L49.64 216.30 L50.54 216.12 L51.44 215.94 L52.35 215.78 L53.25 215.63 L54.15 215.50 L55.06 215.38 L55.96 215.28 L56.87 215.19 L57.77 215.13 L58.67 215.08 L59.58 215.06 L60.48 215.06 L61.38 215.08 L62.29 215.12 L63.19 215.19 L64.09 215.29 L65.00 215.41 L65.90 215.56 L66.80 215.74 L67.71 215.95 L68.61 216.19 L69.52 216.45 L70.42 216.73 L71.32 217.04 L72.23 217.36 L73.13 217.70 L74.03 218.05 L74.94 218.41 L75.84 218.78 L76.74 219.16 L77.65 219.55 L78.55 219.94 L79.46 220.33 L80.36 220.72 L81.26 221.10 L82.17 221.49 L83.07 221.87 L83.97 222.26 L84.88 222.64 L85.78 223.02 L86.68 223.40 L87.59 223.79 L88.49 224.17 L89.40 224.56 L90.30 224.94 L91.20 225.34 L92.11 225.73 L93.01 226.13 L93.91 226.53 L94.82 226.94 L95.72 227.35 L96.62 227.77 L97.53 228.19 L98.43 228.61 L99.34 229.05 L100.24 229.48 L101.14 229.92 L102.05 230.36 L102.95 230.81 L103.85 231.26 L104.76 231.72 L105.66 232.17 L106.56 232.64 L107.47 233.10 L108.37 233.57 L109.27 234.04 L110.18 234.51 L111.08 234.98 L111.99 235.46 L112.89 235.94 L113.79 236.42 L114.70 236.90 L115.60 237.39 L116.50 237.87 L117.41 238.36 L118.31 238.85 L119.21 239.34 L120.12 239.83 L121.02 240.32 L121.93 240.81 L122.83 241.30 L123.73 241.79 L124.64 242.28 L125.54 242.77 L126.44 243.27 L127.35 243.76 L128.25 244.25 L129.15 244.73 L130.06 245.22 L130.96 245.71 L131.87 246.19 L132.77 246.68 L133.67 247.16 L134.58 247.64 L135.48 248.12 L136.38 248.60 L137.29 249.07 L138.19 249.54 L139.09 250.00 L140.00 250.46 L140.90 250.91 L141.81 251.36 L142.71 251.79 L143.61 252.22 L144.52 252.64 L145.42 253.05 L146.32 253.45 L147.23 253.83 L148.13 254.21 L149.03 254.57 L149.94 254.91 L150.84 255.25 L151.74 255.56 L152.65 255.86 L153.55 256.14 L154.46 256.41 L155.36 256.65 L156.26 256.88 L157.17 257.09 L158.07 257.27 L158.97 257.43 L159.88 257.58 L160.78 257.69 L161.68 257.79 L162.59 257.85 L163.49 257.90 L164.40 257.91 L165.30 257.86 L166.20 257.72 L167.11 257.50 L168.01 257.21 L168.91 256.85 L169.82 256.43 L170.72 255.96 L171.62 255.44 L172.53 254.89 L173.43 254.30 L174.34 253.68 L175.24 253.04 L176.14 252.38 L177.05 251.72 L177.95 251.00 L178.85 250.15 L179.76 249.19 L180.66 248.11 L181.56 246.93 L182.47 245.67 L183.37 244.32 L184.28 242.90 L185.18 241.40 L186.08 239.74 L186.99 237.92 L187.89 235.94 L188.79 233.82 L189.70 231.56 L190.60 229.17 L191.50 226.66 L192.41 224.05 L193.31 221.34"/>
<path d="M40.60 219.44 L41.50 219.25 L42.41 219.05 L43.31 218.85 L44.21 218.66 L45.12 218.47 L46.02 218.29 L46.93 218.11 L47.83 217.94 L48.73 217.78 L49.64 217.62 L50.54 217.48 L51.44 217.35 L52.35 217.22 L53.25 217.12 L54.15 217.02 L55.06 216.94 L55.96 216.87 L56.87 216.82 L57.77 216.79 L58.67 216.78 L59.58 216.79 L60.48 216.81 L61.38 216.86 L62.29 216.93 L63.19 217.03 L64.09 217.15 L65.00 217.29 L65.90 217.46 L66.80 217.66 L67.71 217.88 L68.61 218.12 L69.52 218.39 L70.42 218.67 L71.32 218.97 L72.23 219.29 L73.13 219.62 L74.03 219.97 L74.94 220.32 L75.84 220.69 L76.74 221.07 L77.65 221.45 L78.55 221.83 L79.46 222.22 L80.36 222.61 L81.26 223.01 L82.17 223.40 L83.07 223.79 L83.97 224.19 L84.88 224.59 L85.78 224.98 L86.68 225.38 L87.59 225.78 L88.49 226.18 L89.40 226.58 L90.30 226.99 L91.20 227.39 L92.11 227.80 L93.01 228.20 L93.91 228.61 L94.82 229.02 L95.72 229.43 L96.62 229.85 L97.53 230.26 L98.43 230.68 L99.34 231.10 L100.24 231.52 L101.14 231.94 L102.05 232.36 L102.95 232.78 L103.85 233.21 L104.76 233.64 L105.66 234.06 L106.56 234.49 L107.47 234.92 L108.37 235.35 L109.27 235.79 L110.18 236.22 L111.08 236.66 L111.99 237.09 L112.89 237.53 L113.79 237.97 L114.70 238.40 L115.60 238.84 L116.50 239.28 L117.41 239.73 L118.31 240.17 L119.21 240.61 L120.12 241.05 L121.02 241.50 L121.93 241.94 L122.83 242.39 L123.73 242.83 L124.64 243.28 L125.54 243.73 L126.44 244.18 L127.35 244.62 L128.25 245.07 L129.15 245.52 L130.06 245.97 L130.96 246.42 L131.87 246.87 L132.77 247.32 L133.67 247.77 L134.58 248.22 L135.48 248.67 L136.38 249.12 L137.29 249.57 L138.19 250.02 L139.09 250.47 L140.00 250.91 L140.90 251.34 L141.81 251.77 L142.71 252.20 L143.61 252.61 L144.52 253.02 L145.42 253.42 L146.32 253.81 L147.23 254.18 L148.13 254.55 L149.03 254.90 L149.94 255.24 L150.84 255.57 L151.74 255.88 L152.65 256.17 L153.55 256.45 L154.46 256.70 L155.36 256.94 L156.26 257.16 L157.17 257.36 L158.07 257.54 L158.97 257.69 L159.88 257.83 L160.78 257.93 L161.68 258.01 L162.59 258.07 L163.49 258.10 L164.40 258.06 L165.30 257.87 L166.20 257.55 L167.11 257.12 L168.01 256.58 L168.91 255.96 L169.82 255.26 L170.72 254.49 L171.62 253.67 L172.53 252.80 L173.43 251.90 L174.34 250.98 L175.24 250.02 L176.14 248.88 L177.05 247.58 L177.95 246.12 L178.85 244.49 L179.76 242.70 L180.66 240.76 L181.56 238.68 L182.47 236.28 L183.37 233.38 L184.28 230.08 L185.18 226.45 L186.08 222.60 L186.99 218.62 L187.89 214.43 L188.79 209.80 L189.70 204.85 L190.60 199.71 L191.50 194.51 L192.41 189.09 L193.31 183.44"/>
<path d="M40.60 222.48 L41.50 222.37 L42.41 222.27 L43.31 222.17 L44.21 222.07 L45.12 221.97 L46.02 221.87 L46.93 221.78 L47.83 221.69 L48.73 221.61 L49.64 221.52 L50.54 221.45 L51.44 221.38 L52.35 221.32 L53.25 221.26 L54.15 221.21 L55.06 221.17 L55.96 221.14 L56.87 221.12 L57.77 221.10 L58.67 221.10 L59.58 221.11 L60.48 221.12 L61.38 221.15 L62.29 221.20 L63.19 221.25 L64.09 221.32 L65.00 221.40 L65.90 221.49 L66.80 221.60 L67.71 221.73 L68.61 221.86 L69.52 222.02 L70.42 222.18 L71.32 222.37 L72.23 222.57 L73.13 222.78 L74.03 223.01 L74.94 223.25 L75.84 223.51 L76.74 223.79 L77.65 224.08 L78.55 224.39 L79.46 224.72 L80.36 225.06 L81.26 225.42 L82.17 225.80 L83.07 226.19 L83.97 226.59 L84.88 227.00 L85.78 227.42 L86.68 227.85 L87.59 228.29 L88.49 228.73 L89.40 229.17 L90.30 229.62 L91.20 230.07 L92.11 230.52 L93.01 230.97 L93.91 231.42 L94.82 231.86 L95.72 232.29 L96.62 232.72 L97.53 233.15 L98.43 233.57 L99.34 233.98 L100.24 234.39 L101.14 234.80 L102.05 235.20 L102.95 235.59 L103.85 235.99 L104.76 236.38 L105.66 236.76 L106.56 237.14 L107.47 237.52 L108.37 237.90 L109.27 238.28 L110.18 238.65 L111.08 239.02 L111.99 239.39 L112.89 239.76 L113.79 240.13 L114.70 240.49 L115.60 240.86 L116.50 241.22 L117.41 241.59 L118.31 241.95 L119.21 242.32 L120.12 242.68 L121.02 243.05 L121.93 243.42 L122.83 243.79 L123.73 244.16 L124.64 244.53 L125.54 244.90 L126.44 245.28 L127.35 245.66 L128.25 246.04 L129.15 246.43 L130.06 246.81 L130.96 247.20 L131.87 247.60 L132.77 248.00 L133.67 248.40 L134.58 248.81 L135.48 249.22 L136.38 249.64 L137.29 250.06 L138.19 250.48 L139.09 250.90 L140.00 251.32 L140.90 251.74 L141.81 252.16 L142.71 252.57 L143.61 252.98 L144.52 253.38 L145.42 253.77 L146.32 254.15 L147.23 254.53 L148.13 254.89 L149.03 255.23 L149.94 255.57 L150.84 255.89 L151.74 256.19 L152.65 256.48 L153.55 256.74 L154.46 256.99 L155.36 257.21 L156.26 257.42 L157.17 257.59 L158.07 257.75 L158.97 257.88 L159.88 257.98 L160.78 258.05 L161.68 258.09 L162.59 258.09 L163.49 257.84 L164.40 257.38 L165.30 256.73 L166.20 255.92 L167.11 254.97 L168.01 253.90 L168.91 252.74 L169.82 251.52 L170.72 250.25 L171.62 248.89 L172.53 247.18 L173.43 245.16 L174.34 242.90 L175.24 240.46 L176.14 237.89 L177.05 235.26 L177.95 232.47 L178.85 229.46 L179.76 226.16 L180.66 222.52 L181.56 218.48 L182.47 213.81 L183.37 208.29 L184.28 202.08 L185.18 195.33 L186.08 188.22 L186.99 180.91 L187.89 173.55 L188.79 166.30 L189.70 159.30 L190.60 152.25 L191.50 145.06 L192.41 137.76 L193.31 130.70"/>
<path d="M40.60 225.70 L41.50 225.58 L42.41 225.45 L43.31 225.33 L44.21 225.22 L45.12 225.10 L46.02 224.99 L46.93 224.88 L47.83 224.77 L48.73 224.67 L49.64 224.57 L50.54 224.48 L51.44 224.40 L52.35 224.32 L53.25 224.25 L54.15 224.19 L55.06 224.14 L55.96 224.10 L56.87 224.07 L57.77 224.05 L58.67 224.04 L59.58 224.04 L60.48 224.05 L61.38 224.08 L62.29 224.12 L63.19 224.17 L64.09 224.24 L65.00 224.32 L65.90 224.42 L66.80 224.53 L67.71 224.66 L68.61 224.80 L69.52 224.96 L70.42 225.13 L71.32 225.31 L72.23 225.51 L73.13 225.72 L74.03 225.95 L74.94 226.18 L75.84 226.44 L76.74 226.70 L77.65 226.98 L78.55 227.27 L79.46 227.58 L80.36 227.90 L81.26 228.23 L82.17 228.57 L83.07 228.92 L83.97 229.28 L84.88 229.65 L85.78 230.03 L86.68 230.41 L87.59 230.80 L88.49 231.19 L89.40 231.59 L90.30 231.98 L91.20 232.38 L92.11 232.78 L93.01 233.17 L93.91 233.56 L94.82 233.95 L95.72 234.34 L96.62 234.72 L97.53 235.09 L98.43 235.47 L99.34 235.83 L100.24 236.20 L101.14 236.56 L102.05 236.91 L102.95 237.26 L103.85 237.62 L104.76 237.96 L105.66 238.31 L106.56 238.65 L107.47 238.99 L108.37 239.33 L109.27 239.67 L110.18 240.00 L111.08 240.34 L111.99 240.67 L112.89 241.01 L113.79 241.34 L114.70 241.67 L115.60 242.00 L116.50 242.34 L117.41 242.67 L118.31 243.01 L119.21 243.34 L120.12 243.68 L121.02 244.01 L121.93 244.35 L122.83 244.69 L123.73 245.04 L124.64 245.38 L125.54 245.73 L126.44 246.08 L127.35 246.43 L128.25 246.79 L129.15 247.15 L130.06 247.51 L130.96 247.88 L131.87 248.25 L132.77 248.63 L133.67 249.01 L134.58 249.39 L135.48 249.78 L136.38 250.17 L137.29 250.57 L138.19 250.97 L139.09 251.37 L140.00 251.77 L140.90 252.16 L141.81 252.56 L142.71 252.94 L143.61 253.33 L144.52 253.70 L145.42 254.07 L146.32 254.42 L147.23 254.77 L148.13 255.10 L149.03 255.42 L149.94 255.73 L150.84 256.01 L151.74 256.28 L152.65 256.53 L153.55 256.76 L154.46 256.97 L155.36 257.16 L156.26 257.32 L157.17 257.46 L158.07 257.57 L158.97 257.65 L159.88 257.70 L160.78 257.72 L161.68 257.32 L162.59 256.61 L163.49 255.69 L164.40 254.59 L165.30 253.34 L166.20 251.99 L167.11 250.57 L168.01 248.90 L168.91 246.90 L169.82 244.62 L170.72 242.12 L171.62 239.45 L172.53 236.66 L173.43 233.75 L174.34 230.62 L175.24 227.22 L176.14 223.48 L177.05 219.35 L177.95 214.76 L178.85 209.26 L179.76 202.71 L180.66 195.39 L181.56 187.54 L182.47 179.44 L183.37 171.34 L184.28 163.51 L185.18 156.08 L186.08 148.67 L186.99 141.24 L187.89 133.79 L188.79 130.70 L189.70 130.70 L190.60 130.70 L191.50 130.70 L192.41 130.70 L193.31 130.70"/>
</g>
<path d="M91.17 274.40V269.70M91.17 160.70V165.40M141.73 274.40V269.70M141.73 160.70V165.40M65.88 274.40V271.50M65.88 160.70V163.60M116.45 274.40V271.50M116.45 160.70V163.60M167.02 274.40V271.50M167.02 160.70V163.60M40.60 236.50H45.30M192.30 236.50H187.60M40.60 198.60H45.30M192.30 198.60H187.60M40.60 255.45H43.50M192.30 255.45H189.40M40.60 217.55H43.50M192.30 217.55H189.40M40.60 179.65H43.50M192.30 179.65H189.40" fill="none" stroke="#000" stroke-width="1.30"/>
<rect x="40.60" y="160.70" width="151.70" height="113.70" fill="none" stroke="#000" stroke-width="1.60"/>
<text x="40.60" y="287.70" font-size="10.80" text-anchor="middle">50</text>
<text x="91.17" y="287.70" font-size="10.80" text-anchor="middle">150</text>
<text x="141.73" y="287.70" font-size="10.80" text-anchor="middle">250</text>
<text x="192.30" y="287.70" font-size="10.80" text-anchor="middle">350</text>
<text x="35.70" y="278.10" font-size="10.80" text-anchor="end">0</text>
<text x="35.70" y="240.20" font-size="10.80" text-anchor="end">2</text>
<text x="35.70" y="202.30" font-size="10.80" text-anchor="end">4</text>
<text x="35.70" y="164.40" font-size="10.80" text-anchor="end">6</text>
<text x="113.75" y="306.20" font-size="13.00" text-anchor="middle">T (K)</text>
<text x="50.30" y="181.40" font-size="13.00">(d)</text>
<path d="M88.00 242.10L118.28 200.91" stroke="#000" stroke-width="1" fill="none"/>
<path d="M121.00 197.20L119.25 202.87L116.11 200.56Z" fill="#000"/>
<text transform="translate(19.20 220.30) rotate(-90)" font-size="19.00" text-anchor="middle">ε</text>
<path d="M4.40 208.95 C6.00 208.75 7.60 209.20 8.30 211.25 C7.40 210.15 6.30 209.95 5.45 210.55 A1.15 1.15 0 1 1 4.40 208.95Z" fill="#111"/>
<path d="M4.40 213.05 C6.00 212.85 7.60 213.30 8.30 215.35 C7.40 214.25 6.30 214.05 5.45 214.65 A1.15 1.15 0 1 1 4.40 213.05Z" fill="#111"/>
<g clip-path="url(#cp_e)" fill="none" stroke="#000" stroke-width="0.72" stroke-linejoin="round">
<path d="M239.30 236.50 L240.20 235.68 L241.11 234.86 L242.01 234.03 L242.92 233.21 L243.82 232.38 L244.73 231.55 L245.63 230.71 L246.54 229.87 L247.44 229.02 L248.35 228.16 L249.25 227.30 L250.16 226.43 L251.06 225.55 L251.97 224.66 L252.87 223.75 L253.78 222.84 L254.68 221.92 L255.59 220.98 L256.49 220.03 L257.40 219.07 L258.30 218.10 L259.21 217.11 L260.11 216.13 L261.02 215.13 L261.92 214.13 L262.83 213.12 L263.73 212.11 L264.63 211.10 L265.54 210.08 L266.44 209.06 L267.35 208.04 L268.25 207.02 L269.16 206.00 L270.06 204.99 L270.97 203.97 L271.87 202.96 L272.78 201.96 L273.68 200.96 L274.59 199.97 L275.49 198.98 L276.40 198.01 L277.30 197.04 L278.21 196.09 L279.11 195.14 L280.02 194.21 L280.92 193.29 L281.83 192.39 L282.73 191.50 L283.64 190.62 L284.54 189.77 L285.45 188.93 L286.35 188.11 L287.25 187.31 L288.16 186.53 L289.06 185.77 L289.97 185.03 L290.87 184.32 L291.78 183.63 L292.68 182.97 L293.59 182.32 L294.49 181.70 L295.40 181.11 L296.30 180.54 L297.21 179.99 L298.11 179.46 L299.02 178.96 L299.92 178.48 L300.83 178.02 L301.73 177.59 L302.64 177.17 L303.54 176.79 L304.45 176.42 L305.35 176.08 L306.26 175.76 L307.16 175.47 L308.07 175.20 L308.97 174.96 L309.88 174.74 L310.78 174.55 L311.68 174.39 L312.59 174.25 L313.49 174.15 L314.40 174.07 L315.30 174.02 L316.21 174.00 L317.11 174.01 L318.02 174.05 L318.92 174.13 L319.83 174.23 L320.73 174.37 L321.64 174.55 L322.54 174.77 L323.45 175.02 L324.35 175.31 L325.26 175.65 L326.16 176.03 L327.07 176.45 L327.97 176.92 L328.88 177.44 L329.78 178.01 L330.69 178.63 L331.59 179.30 L332.50 180.03 L333.40 180.81 L334.30 181.65 L335.21 182.56 L336.11 183.52 L337.02 184.54 L337.92 185.63 L338.83 186.78 L339.73 188.00 L340.64 189.28 L341.54 190.64 L342.45 192.07 L343.35 193.58 L344.26 195.18 L345.16 196.90 L346.07 198.76 L346.97 200.76 L347.88 202.94 L348.78 205.30 L349.69 207.86 L350.59 210.63 L351.50 213.60 L352.40 216.79 L353.31 220.23 L354.21 224.00 L355.12 228.17 L356.02 232.59 L356.93 236.82 L357.83 240.38 L358.73 242.95 L359.64 244.66 L360.54 245.72 L361.45 246.34 L362.35 246.72 L363.26 247.07 L364.16 247.58 L365.07 248.26 L365.97 248.95 L366.88 249.50 L367.78 249.76 L368.69 249.74 L369.59 249.66 L370.50 249.57 L371.40 249.45 L372.31 249.27 L373.21 249.03 L374.12 248.77 L375.02 248.49 L375.93 248.17 L376.83 247.78 L377.74 247.32 L378.64 246.83 L379.55 246.32 L380.45 245.82 L381.35 245.34 L382.26 244.91 L383.16 244.55 L384.07 244.28 L384.97 244.12 L385.88 244.10 L386.78 244.39 L387.69 244.86 L388.59 245.30 L389.50 245.47 L390.40 245.38 L391.31 245.12 L392.21 244.71"/>
<path d="M239.30 236.50 L240.20 235.68 L241.11 234.86 L242.01 234.04 L242.92 233.22 L243.82 232.40 L244.73 231.57 L245.63 230.73 L246.54 229.89 L247.44 229.04 L248.35 228.19 L249.25 227.32 L250.16 226.45 L251.06 225.57 L251.97 224.67 L252.87 223.77 L253.78 222.85 L254.68 221.91 L255.59 220.97 L256.49 220.01 L257.40 219.04 L258.30 218.06 L259.21 217.06 L260.11 216.06 L261.02 215.06 L261.92 214.04 L262.83 213.02 L263.73 212.00 L264.63 210.97 L265.54 209.94 L266.44 208.91 L267.35 207.88 L268.25 206.86 L269.16 205.83 L270.06 204.81 L270.97 203.79 L271.87 202.78 L272.78 201.77 L273.68 200.77 L274.59 199.78 L275.49 198.80 L276.40 197.83 L277.30 196.88 L278.21 195.93 L279.11 195.01 L280.02 194.09 L280.92 193.19 L281.83 192.31 L282.73 191.45 L283.64 190.61 L284.54 189.79 L285.45 188.99 L286.35 188.21 L287.25 187.46 L288.16 186.74 L289.06 186.03 L289.97 185.36 L290.87 184.71 L291.78 184.08 L292.68 183.48 L293.59 182.90 L294.49 182.34 L295.40 181.80 L296.30 181.29 L297.21 180.80 L298.11 180.32 L299.02 179.87 L299.92 179.43 L300.83 179.01 L301.73 178.61 L302.64 178.23 L303.54 177.87 L304.45 177.52 L305.35 177.19 L306.26 176.88 L307.16 176.60 L308.07 176.35 L308.97 176.12 L309.88 175.92 L310.78 175.76 L311.68 175.63 L312.59 175.53 L313.49 175.47 L314.40 175.46 L315.30 175.48 L316.21 175.55 L317.11 175.67 L318.02 175.83 L318.92 176.04 L319.83 176.30 L320.73 176.61 L321.64 176.96 L322.54 177.37 L323.45 177.82 L324.35 178.31 L325.26 178.85 L326.16 179.44 L327.07 180.08 L327.97 180.76 L328.88 181.48 L329.78 182.25 L330.69 183.07 L331.59 183.93 L332.50 184.83 L333.40 185.77 L334.30 186.76 L335.21 187.79 L336.11 188.86 L337.02 189.98 L337.92 191.14 L338.83 192.33 L339.73 193.57 L340.64 194.87 L341.54 196.23 L342.45 197.68 L343.35 199.24 L344.26 200.92 L345.16 202.74 L346.07 204.72 L346.97 206.86 L347.88 209.14 L348.78 211.57 L349.69 214.11 L350.59 216.77 L351.50 219.57 L352.40 222.58 L353.31 225.85 L354.21 229.44 L355.12 233.15 L356.02 236.68 L356.93 239.74 L357.83 242.10 L358.73 243.82 L359.64 245.06 L360.54 245.95 L361.45 246.65 L362.35 247.30 L363.26 248.07 L364.16 249.04 L365.07 250.09 L365.97 251.04 L366.88 251.70 L367.78 251.90 L368.69 251.84 L369.59 251.76 L370.50 251.67 L371.40 251.57 L372.31 251.46 L373.21 251.33 L374.12 251.19 L375.02 251.02 L375.93 250.80 L376.83 250.49 L377.74 250.11 L378.64 249.69 L379.55 249.25 L380.45 248.81 L381.35 248.38 L382.26 248.00 L383.16 247.67 L384.07 247.42 L384.97 247.27 L385.88 247.25 L386.78 247.52 L387.69 247.95 L388.59 248.35 L389.50 248.50 L390.40 248.41 L391.31 248.15 L392.21 247.74"/>
<path d="M239.30 236.50 L240.20 235.69 L241.11 234.88 L242.01 234.06 L242.92 233.24 L243.82 232.42 L244.73 231.59 L245.63 230.76 L246.54 229.92 L247.44 229.08 L248.35 228.22 L249.25 227.36 L250.16 226.48 L251.06 225.59 L251.97 224.70 L252.87 223.78 L253.78 222.85 L254.68 221.91 L255.59 220.95 L256.49 219.98 L257.40 218.99 L258.30 218.00 L259.21 216.99 L260.11 215.97 L261.02 214.94 L261.92 213.91 L262.83 212.88 L263.73 211.83 L264.63 210.79 L265.54 209.75 L266.44 208.70 L267.35 207.66 L268.25 206.62 L269.16 205.59 L270.06 204.56 L270.97 203.54 L271.87 202.53 L272.78 201.53 L273.68 200.53 L274.59 199.56 L275.49 198.59 L276.40 197.64 L277.30 196.71 L278.21 195.79 L279.11 194.90 L280.02 194.02 L280.92 193.17 L281.83 192.34 L282.73 191.54 L283.64 190.76 L284.54 190.01 L285.45 189.28 L286.35 188.59 L287.25 187.93 L288.16 187.30 L289.06 186.70 L289.97 186.13 L290.87 185.58 L291.78 185.06 L292.68 184.56 L293.59 184.08 L294.49 183.63 L295.40 183.20 L296.30 182.79 L297.21 182.40 L298.11 182.03 L299.02 181.68 L299.92 181.34 L300.83 181.01 L301.73 180.71 L302.64 180.41 L303.54 180.14 L304.45 179.89 L305.35 179.66 L306.26 179.45 L307.16 179.27 L308.07 179.12 L308.97 179.00 L309.88 178.90 L310.78 178.84 L311.68 178.82 L312.59 178.83 L313.49 178.88 L314.40 178.97 L315.30 179.11 L316.21 179.28 L317.11 179.50 L318.02 179.76 L318.92 180.06 L319.83 180.40 L320.73 180.78 L321.64 181.20 L322.54 181.67 L323.45 182.17 L324.35 182.71 L325.26 183.29 L326.16 183.92 L327.07 184.58 L327.97 185.27 L328.88 186.01 L329.78 186.79 L330.69 187.60 L331.59 188.45 L332.50 189.33 L333.40 190.26 L334.30 191.22 L335.21 192.21 L336.11 193.24 L337.02 194.31 L337.92 195.42 L338.83 196.59 L339.73 197.83 L340.64 199.16 L341.54 200.58 L342.45 202.11 L343.35 203.76 L344.26 205.55 L345.16 207.48 L346.07 209.51 L346.97 211.65 L347.88 213.87 L348.78 216.16 L349.69 218.52 L350.59 221.02 L351.50 223.70 L352.40 226.63 L353.31 229.80 L354.21 233.04 L355.12 236.16 L356.02 238.95 L356.93 241.21 L357.83 242.95 L358.73 244.28 L359.64 245.33 L360.54 246.23 L361.45 247.08 L362.35 248.03 L363.26 249.18 L364.16 250.55 L365.07 251.93 L365.97 253.09 L366.88 253.81 L367.78 253.90 L368.69 253.81 L369.59 253.73 L370.50 253.64 L371.40 253.56 L372.31 253.47 L373.21 253.39 L374.12 253.29 L375.02 253.17 L375.93 253.00 L376.83 252.76 L377.74 252.46 L378.64 252.13 L379.55 251.77 L380.45 251.42 L381.35 251.07 L382.26 250.76 L383.16 250.49 L384.07 250.29 L384.97 250.17 L385.88 250.16 L386.78 250.42 L387.69 250.86 L388.59 251.25 L389.50 251.41 L390.40 251.31 L391.31 251.06 L392.21 250.65"/>
<path d="M239.30 236.50 L240.20 235.69 L241.11 234.88 L242.01 234.07 L242.92 233.26 L243.82 232.44 L244.73 231.61 L245.63 230.78 L246.54 229.94 L247.44 229.10 L248.35 228.24 L249.25 227.38 L250.16 226.50 L251.06 225.61 L251.97 224.71 L252.87 223.79 L253.78 222.86 L254.68 221.91 L255.59 220.94 L256.49 219.96 L257.40 218.97 L258.30 217.96 L259.21 216.94 L260.11 215.91 L261.02 214.88 L261.92 213.84 L262.83 212.79 L263.73 211.75 L264.63 210.70 L265.54 209.65 L266.44 208.60 L267.35 207.56 L268.25 206.52 L269.16 205.49 L270.06 204.47 L270.97 203.46 L271.87 202.46 L272.78 201.47 L273.68 200.50 L274.59 199.54 L275.49 198.60 L276.40 197.68 L277.30 196.79 L278.21 195.91 L279.11 195.06 L280.02 194.24 L280.92 193.44 L281.83 192.67 L282.73 191.93 L283.64 191.23 L284.54 190.56 L285.45 189.92 L286.35 189.32 L287.25 188.74 L288.16 188.20 L289.06 187.68 L289.97 187.20 L290.87 186.73 L291.78 186.30 L292.68 185.88 L293.59 185.48 L294.49 185.11 L295.40 184.75 L296.30 184.41 L297.21 184.08 L298.11 183.77 L299.02 183.47 L299.92 183.18 L300.83 182.90 L301.73 182.64 L302.64 182.40 L303.54 182.18 L304.45 181.98 L305.35 181.80 L306.26 181.64 L307.16 181.52 L308.07 181.42 L308.97 181.36 L309.88 181.33 L310.78 181.34 L311.68 181.38 L312.59 181.46 L313.49 181.59 L314.40 181.75 L315.30 181.96 L316.21 182.21 L317.11 182.50 L318.02 182.84 L318.92 183.21 L319.83 183.62 L320.73 184.06 L321.64 184.55 L322.54 185.07 L323.45 185.63 L324.35 186.22 L325.26 186.85 L326.16 187.51 L327.07 188.21 L327.97 188.94 L328.88 189.70 L329.78 190.49 L330.69 191.31 L331.59 192.17 L332.50 193.05 L333.40 193.96 L334.30 194.90 L335.21 195.87 L336.11 196.89 L337.02 197.96 L337.92 199.09 L338.83 200.30 L339.73 201.60 L340.64 202.99 L341.54 204.49 L342.45 206.11 L343.35 207.84 L344.26 209.66 L345.16 211.56 L346.07 213.52 L346.97 215.53 L347.88 217.59 L348.78 219.72 L349.69 221.98 L350.59 224.41 L351.50 227.05 L352.40 229.89 L353.31 232.80 L354.21 235.61 L355.12 238.19 L356.02 240.37 L356.93 242.11 L357.83 243.50 L358.73 244.65 L359.64 245.66 L360.54 246.64 L361.45 247.69 L362.35 248.93 L363.26 250.44 L364.16 252.13 L365.07 253.74 L365.97 255.00 L366.88 255.66 L367.78 255.62 L368.69 255.50 L369.59 255.41 L370.50 255.35 L371.40 255.32 L372.31 255.29 L373.21 255.27 L374.12 255.24 L375.02 255.20 L375.93 255.09 L376.83 254.89 L377.74 254.63 L378.64 254.32 L379.55 253.97 L380.45 253.61 L381.35 253.26 L382.26 252.94 L383.16 252.66 L384.07 252.45 L384.97 252.32 L385.88 252.31 L386.78 252.63 L387.69 253.14 L388.59 253.62 L389.50 253.81 L390.40 253.72 L391.31 253.47 L392.21 253.05"/>
<path d="M239.30 236.50 L240.20 235.69 L241.11 234.88 L242.01 234.07 L242.92 233.26 L243.82 232.44 L244.73 231.62 L245.63 230.79 L246.54 229.95 L247.44 229.11 L248.35 228.25 L249.25 227.39 L250.16 226.51 L251.06 225.62 L251.97 224.71 L252.87 223.80 L253.78 222.86 L254.68 221.91 L255.59 220.94 L256.49 219.96 L257.40 218.96 L258.30 217.95 L259.21 216.93 L260.11 215.90 L261.02 214.86 L261.92 213.82 L262.83 212.78 L263.73 211.73 L264.63 210.69 L265.54 209.64 L266.44 208.60 L267.35 207.57 L268.25 206.54 L269.16 205.53 L270.06 204.52 L270.97 203.53 L271.87 202.55 L272.78 201.59 L273.68 200.64 L274.59 199.72 L275.49 198.81 L276.40 197.93 L277.30 197.08 L278.21 196.25 L279.11 195.45 L280.02 194.68 L280.92 193.95 L281.83 193.25 L282.73 192.58 L283.64 191.95 L284.54 191.35 L285.45 190.79 L286.35 190.26 L287.25 189.76 L288.16 189.28 L289.06 188.83 L289.97 188.41 L290.87 188.01 L291.78 187.63 L292.68 187.27 L293.59 186.92 L294.49 186.59 L295.40 186.28 L296.30 185.98 L297.21 185.69 L298.11 185.41 L299.02 185.15 L299.92 184.90 L300.83 184.66 L301.73 184.44 L302.64 184.25 L303.54 184.08 L304.45 183.93 L305.35 183.80 L306.26 183.71 L307.16 183.65 L308.07 183.61 L308.97 183.62 L309.88 183.66 L310.78 183.74 L311.68 183.85 L312.59 184.01 L313.49 184.21 L314.40 184.45 L315.30 184.73 L316.21 185.05 L317.11 185.40 L318.02 185.79 L318.92 186.22 L319.83 186.68 L320.73 187.18 L321.64 187.70 L322.54 188.26 L323.45 188.85 L324.35 189.48 L325.26 190.13 L326.16 190.81 L327.07 191.51 L327.97 192.25 L328.88 193.01 L329.78 193.79 L330.69 194.60 L331.59 195.44 L332.50 196.30 L333.40 197.19 L334.30 198.12 L335.21 199.10 L336.11 200.15 L337.02 201.26 L337.92 202.44 L338.83 203.71 L339.73 205.07 L340.64 206.53 L341.54 208.09 L342.45 209.72 L343.35 211.42 L344.26 213.17 L345.16 214.96 L346.07 216.78 L346.97 218.64 L347.88 220.59 L348.78 222.66 L349.69 224.88 L350.59 227.28 L351.50 229.86 L352.40 232.49 L353.31 235.06 L354.21 237.46 L355.12 239.57 L356.02 241.32 L356.93 242.77 L357.83 243.99 L358.73 245.08 L359.64 246.14 L360.54 247.25 L361.45 248.50 L362.35 249.98 L363.26 251.74 L364.16 253.60 L365.07 255.27 L365.97 256.49 L366.88 256.97 L367.78 256.80 L368.69 256.66 L369.59 256.58 L370.50 256.58 L371.40 256.60 L372.31 256.64 L373.21 256.67 L374.12 256.70 L375.02 256.71 L375.93 256.66 L376.83 256.51 L377.74 256.30 L378.64 256.03 L379.55 255.72 L380.45 255.40 L381.35 255.08 L382.26 254.79 L383.16 254.53 L384.07 254.33 L384.97 254.21 L385.88 254.20 L386.78 254.44 L387.69 254.83 L388.59 255.18 L389.50 255.32 L390.40 255.22 L391.31 254.97 L392.21 254.57"/>
<path d="M239.30 236.50 L240.20 235.69 L241.11 234.88 L242.01 234.07 L242.92 233.26 L243.82 232.44 L244.73 231.62 L245.63 230.79 L246.54 229.95 L247.44 229.11 L248.35 228.25 L249.25 227.39 L250.16 226.51 L251.06 225.62 L251.97 224.72 L252.87 223.80 L253.78 222.86 L254.68 221.91 L255.59 220.94 L256.49 219.96 L257.40 218.96 L258.30 217.95 L259.21 216.93 L260.11 215.90 L261.02 214.87 L261.92 213.83 L262.83 212.79 L263.73 211.75 L264.63 210.71 L265.54 209.68 L266.44 208.65 L267.35 207.63 L268.25 206.63 L269.16 205.63 L270.06 204.64 L270.97 203.68 L271.87 202.73 L272.78 201.79 L273.68 200.89 L274.59 200.00 L275.49 199.14 L276.40 198.31 L277.30 197.50 L278.21 196.73 L279.11 195.99 L280.02 195.29 L280.92 194.62 L281.83 193.99 L282.73 193.40 L283.64 192.84 L284.54 192.31 L285.45 191.81 L286.35 191.34 L287.25 190.90 L288.16 190.48 L289.06 190.09 L289.97 189.71 L290.87 189.36 L291.78 189.02 L292.68 188.70 L293.59 188.40 L294.49 188.10 L295.40 187.82 L296.30 187.55 L297.21 187.29 L298.11 187.04 L299.02 186.82 L299.92 186.60 L300.83 186.41 L301.73 186.24 L302.64 186.10 L303.54 185.98 L304.45 185.88 L305.35 185.82 L306.26 185.78 L307.16 185.78 L308.07 185.82 L308.97 185.89 L309.88 185.99 L310.78 186.14 L311.68 186.33 L312.59 186.55 L313.49 186.81 L314.40 187.11 L315.30 187.44 L316.21 187.80 L317.11 188.20 L318.02 188.63 L318.92 189.09 L319.83 189.58 L320.73 190.11 L321.64 190.65 L322.54 191.23 L323.45 191.83 L324.35 192.46 L325.26 193.12 L326.16 193.79 L327.07 194.49 L327.97 195.22 L328.88 195.96 L329.78 196.72 L330.69 197.51 L331.59 198.33 L332.50 199.20 L333.40 200.10 L334.30 201.06 L335.21 202.08 L336.11 203.16 L337.02 204.32 L337.92 205.56 L338.83 206.88 L339.73 208.28 L340.64 209.75 L341.54 211.28 L342.45 212.85 L343.35 214.46 L344.26 216.09 L345.16 217.75 L346.07 219.46 L346.97 221.25 L347.88 223.15 L348.78 225.19 L349.69 227.40 L350.59 229.75 L351.50 232.15 L352.40 234.52 L353.31 236.76 L354.21 238.81 L355.12 240.56 L356.02 242.05 L356.93 243.33 L357.83 244.49 L358.73 245.61 L359.64 246.75 L360.54 248.00 L361.45 249.43 L362.35 251.12 L363.26 253.05 L364.16 254.98 L365.07 256.63 L365.97 257.71 L366.88 257.92 L367.78 257.73 L368.69 257.58 L369.59 257.51 L370.50 257.51 L371.40 257.53 L372.31 257.55 L373.21 257.57 L374.12 257.59 L375.02 257.60 L375.93 257.51 L376.83 257.28 L377.74 256.93 L378.64 256.49 L379.55 255.99 L380.45 255.45 L381.35 254.91 L382.26 254.40 L383.16 253.94 L384.07 253.56 L384.97 253.29 L385.88 253.15 L386.78 253.05 L387.69 252.96 L388.59 252.89 L389.50 252.82 L390.40 252.77 L391.31 252.74 L392.21 252.73"/>
<path d="M239.30 236.50 L240.20 235.69 L241.11 234.88 L242.01 234.07 L242.92 233.26 L243.82 232.44 L244.73 231.62 L245.63 230.79 L246.54 229.95 L247.44 229.11 L248.35 228.25 L249.25 227.39 L250.16 226.51 L251.06 225.62 L251.97 224.71 L252.87 223.80 L253.78 222.86 L254.68 221.91 L255.59 220.94 L256.49 219.96 L257.40 218.96 L258.30 217.95 L259.21 216.94 L260.11 215.91 L261.02 214.88 L261.92 213.85 L262.83 212.82 L263.73 211.79 L264.63 210.77 L265.54 209.75 L266.44 208.74 L267.35 207.74 L268.25 206.75 L269.16 205.78 L270.06 204.82 L270.97 203.88 L271.87 202.97 L272.78 202.07 L273.68 201.20 L274.59 200.36 L275.49 199.55 L276.40 198.77 L277.30 198.02 L278.21 197.31 L279.11 196.64 L280.02 196.00 L280.92 195.40 L281.83 194.84 L282.73 194.31 L283.64 193.80 L284.54 193.33 L285.45 192.88 L286.35 192.46 L287.25 192.06 L288.16 191.69 L289.06 191.33 L289.97 190.99 L290.87 190.67 L291.78 190.36 L292.68 190.07 L293.59 189.78 L294.49 189.51 L295.40 189.25 L296.30 189.00 L297.21 188.77 L298.11 188.56 L299.02 188.36 L299.92 188.19 L300.83 188.03 L301.73 187.91 L302.64 187.80 L303.54 187.73 L304.45 187.69 L305.35 187.68 L306.26 187.70 L307.16 187.76 L308.07 187.85 L308.97 187.98 L309.88 188.15 L310.78 188.36 L311.68 188.60 L312.59 188.88 L313.49 189.19 L314.40 189.54 L315.30 189.91 L316.21 190.32 L317.11 190.75 L318.02 191.22 L318.92 191.71 L319.83 192.23 L320.73 192.77 L321.64 193.33 L322.54 193.92 L323.45 194.53 L324.35 195.16 L325.26 195.81 L326.16 196.48 L327.07 197.17 L327.97 197.88 L328.88 198.61 L329.78 199.37 L330.69 200.16 L331.59 201.00 L332.50 201.88 L333.40 202.82 L334.30 203.81 L335.21 204.87 L336.11 205.99 L337.02 207.18 L337.92 208.45 L338.83 209.77 L339.73 211.15 L340.64 212.57 L341.54 214.02 L342.45 215.49 L343.35 216.99 L344.26 218.51 L345.16 220.10 L346.07 221.76 L346.97 223.52 L347.88 225.41 L348.78 227.44 L349.69 229.59 L350.59 231.79 L351.50 233.98 L352.40 236.10 L353.31 238.06 L354.21 239.82 L355.12 241.35 L356.02 242.70 L356.93 243.93 L357.83 245.11 L358.73 246.29 L359.64 247.54 L360.54 248.91 L361.45 250.48 L362.35 252.29 L363.26 254.26 L364.16 256.14 L365.07 257.64 L365.97 258.50 L366.88 258.48 L367.78 258.27 L368.69 258.10 L369.59 258.04 L370.50 258.02 L371.40 258.01 L372.31 258.01 L373.21 258.00 L374.12 257.99 L375.02 257.98 L375.93 257.87 L376.83 257.60 L377.74 257.20 L378.64 256.70 L379.55 256.13 L380.45 255.50 L381.35 254.86 L382.26 254.21 L383.16 253.60 L384.07 253.04 L384.97 252.57 L385.88 252.20 L386.78 251.88 L387.69 251.57 L388.59 251.28 L389.50 251.02 L390.40 250.77 L391.31 250.55 L392.21 250.35"/>
<path d="M239.30 236.50 L240.20 235.69 L241.11 234.88 L242.01 234.07 L242.92 233.26 L243.82 232.44 L244.73 231.62 L245.63 230.79 L246.54 229.95 L247.44 229.11 L248.35 228.25 L249.25 227.39 L250.16 226.51 L251.06 225.62 L251.97 224.72 L252.87 223.80 L253.78 222.86 L254.68 221.91 L255.59 220.94 L256.49 219.96 L257.40 218.96 L258.30 217.95 L259.21 216.94 L260.11 215.92 L261.02 214.89 L261.92 213.87 L262.83 212.84 L263.73 211.82 L264.63 210.81 L265.54 209.80 L266.44 208.81 L267.35 207.83 L268.25 206.86 L269.16 205.92 L270.06 204.99 L270.97 204.09 L271.87 203.21 L272.78 202.36 L273.68 201.53 L274.59 200.74 L275.49 199.99 L276.40 199.27 L277.30 198.59 L278.21 197.95 L279.11 197.35 L280.02 196.78 L280.92 196.25 L281.83 195.74 L282.73 195.27 L283.64 194.82 L284.54 194.40 L285.45 194.00 L286.35 193.62 L287.25 193.27 L288.16 192.93 L289.06 192.61 L289.97 192.31 L290.87 192.02 L291.78 191.73 L292.68 191.46 L293.59 191.20 L294.49 190.96 L295.40 190.73 L296.30 190.51 L297.21 190.32 L298.11 190.14 L299.02 189.98 L299.92 189.85 L300.83 189.74 L301.73 189.66 L302.64 189.61 L303.54 189.59 L304.45 189.60 L305.35 189.64 L306.26 189.71 L307.16 189.83 L308.07 189.97 L308.97 190.16 L309.88 190.38 L310.78 190.63 L311.68 190.91 L312.59 191.23 L313.49 191.57 L314.40 191.95 L315.30 192.35 L316.21 192.78 L317.11 193.23 L318.02 193.71 L318.92 194.21 L319.83 194.73 L320.73 195.27 L321.64 195.84 L322.54 196.42 L323.45 197.02 L324.35 197.64 L325.26 198.27 L326.16 198.92 L327.07 199.60 L327.97 200.31 L328.88 201.04 L329.78 201.82 L330.69 202.63 L331.59 203.49 L332.50 204.40 L333.40 205.37 L334.30 206.39 L335.21 207.47 L336.11 208.61 L337.02 209.81 L337.92 211.05 L338.83 212.33 L339.73 213.64 L340.64 214.98 L341.54 216.34 L342.45 217.72 L343.35 219.14 L344.26 220.61 L345.16 222.16 L346.07 223.80 L346.97 225.55 L347.88 227.43 L348.78 229.40 L349.69 231.43 L350.59 233.46 L351.50 235.45 L352.40 237.34 L353.31 239.09 L354.21 240.66 L355.12 242.07 L356.02 243.37 L356.93 244.62 L357.83 245.85 L358.73 247.11 L359.64 248.46 L360.54 249.93 L361.45 251.57 L362.35 253.43 L363.26 255.35 L364.16 257.08 L365.07 258.37 L365.97 258.97 L366.88 258.80 L367.78 258.58 L368.69 258.39 L369.59 258.24 L370.50 258.13 L371.40 258.04 L372.31 257.95 L373.21 257.86 L374.12 257.75 L375.02 257.59 L375.93 257.33 L376.83 256.93 L377.74 256.41 L378.64 255.79 L379.55 255.10 L380.45 254.36 L381.35 253.60 L382.26 252.83 L383.16 252.10 L384.07 251.41 L384.97 250.79 L385.88 250.26 L386.78 249.78 L387.69 249.31 L388.59 248.86 L389.50 248.44 L390.40 248.03 L391.31 247.64 L392.21 247.27"/>
<path d="M239.30 236.50 L240.20 235.69 L241.11 234.88 L242.01 234.07 L242.92 233.26 L243.82 232.44 L244.73 231.62 L245.63 230.79 L246.54 229.95 L247.44 229.11 L248.35 228.25 L249.25 227.39 L250.16 226.51 L251.06 225.62 L251.97 224.72 L252.87 223.80 L253.78 222.86 L254.68 221.91 L255.59 220.94 L256.49 219.96 L257.40 218.96 L258.30 217.95 L259.21 216.94 L260.11 215.92 L261.02 214.90 L261.92 213.89 L262.83 212.87 L263.73 211.86 L264.63 210.86 L265.54 209.87 L266.44 208.90 L267.35 207.94 L268.25 207.00 L269.16 206.08 L270.06 205.18 L270.97 204.32 L271.87 203.48 L272.78 202.67 L273.68 201.90 L274.59 201.16 L275.49 200.47 L276.40 199.81 L277.30 199.19 L278.21 198.60 L279.11 198.05 L280.02 197.53 L280.92 197.04 L281.83 196.58 L282.73 196.14 L283.64 195.73 L284.54 195.34 L285.45 194.97 L286.35 194.62 L287.25 194.28 L288.16 193.97 L289.06 193.66 L289.97 193.37 L290.87 193.09 L291.78 192.82 L292.68 192.57 L293.59 192.33 L294.49 192.10 L295.40 191.90 L296.30 191.71 L297.21 191.55 L298.11 191.41 L299.02 191.29 L299.92 191.20 L300.83 191.14 L301.73 191.11 L302.64 191.11 L303.54 191.14 L304.45 191.20 L305.35 191.30 L306.26 191.44 L307.16 191.61 L308.07 191.82 L308.97 192.06 L309.88 192.33 L310.78 192.63 L311.68 192.96 L312.59 193.32 L313.49 193.70 L314.40 194.11 L315.30 194.54 L316.21 195.00 L317.11 195.47 L318.02 195.97 L318.92 196.48 L319.83 197.01 L320.73 197.56 L321.64 198.13 L322.54 198.70 L323.45 199.29 L324.35 199.90 L325.26 200.53 L326.16 201.19 L327.07 201.87 L327.97 202.59 L328.88 203.34 L329.78 204.13 L330.69 204.96 L331.59 205.84 L332.50 206.77 L333.40 207.75 L334.30 208.78 L335.21 209.86 L336.11 210.98 L337.02 212.14 L337.92 213.33 L338.83 214.55 L339.73 215.79 L340.64 217.04 L341.54 218.33 L342.45 219.65 L343.35 221.03 L344.26 222.48 L345.16 224.01 L346.07 225.64 L346.97 227.38 L347.88 229.20 L348.78 231.07 L349.69 232.96 L350.59 234.83 L351.50 236.64 L352.40 238.36 L353.31 239.95 L354.21 241.42 L355.12 242.79 L356.02 244.10 L356.93 245.39 L357.83 246.69 L358.73 248.03 L359.64 249.45 L360.54 250.99 L361.45 252.67 L362.35 254.50 L363.26 256.30 L364.16 257.84 L365.07 258.90 L365.97 259.22 L366.88 258.99 L367.78 258.75 L368.69 258.49 L369.59 258.23 L370.50 257.98 L371.40 257.72 L372.31 257.45 L373.21 257.15 L374.12 256.82 L375.02 256.45 L375.93 256.00 L376.83 255.47 L377.74 254.86 L378.64 254.19 L379.55 253.48 L380.45 252.73 L381.35 251.96 L382.26 251.19 L383.16 250.43 L384.07 249.69 L384.97 248.98 L385.88 248.33 L386.78 247.69 L387.69 247.06 L388.59 246.44 L389.50 245.83 L390.40 245.22 L391.31 244.62 L392.21 244.03"/>
<path d="M239.30 236.50 L240.20 235.69 L241.11 234.88 L242.01 234.07 L242.92 233.26 L243.82 232.44 L244.73 231.61 L245.63 230.78 L246.54 229.95 L247.44 229.10 L248.35 228.25 L249.25 227.38 L250.16 226.50 L251.06 225.61 L251.97 224.71 L252.87 223.79 L253.78 222.86 L254.68 221.91 L255.59 220.94 L256.49 219.96 L257.40 218.97 L258.30 217.97 L259.21 216.97 L260.11 215.96 L261.02 214.95 L261.92 213.94 L262.83 212.94 L263.73 211.95 L264.63 210.97 L265.54 210.00 L266.44 209.05 L267.35 208.12 L268.25 207.21 L269.16 206.33 L270.06 205.47 L270.97 204.65 L271.87 203.85 L272.78 203.10 L273.68 202.38 L274.59 201.70 L275.49 201.06 L276.40 200.45 L277.30 199.87 L278.21 199.33 L279.11 198.81 L280.02 198.33 L280.92 197.86 L281.83 197.43 L282.73 197.01 L283.64 196.62 L284.54 196.25 L285.45 195.90 L286.35 195.56 L287.25 195.24 L288.16 194.93 L289.06 194.63 L289.97 194.35 L290.87 194.08 L291.78 193.82 L292.68 193.59 L293.59 193.37 L294.49 193.17 L295.40 193.00 L296.30 192.84 L297.21 192.72 L298.11 192.62 L299.02 192.55 L299.92 192.50 L300.83 192.49 L301.73 192.51 L302.64 192.57 L303.54 192.65 L304.45 192.78 L305.35 192.94 L306.26 193.14 L307.16 193.37 L308.07 193.63 L308.97 193.92 L309.88 194.23 L310.78 194.58 L311.68 194.95 L312.59 195.34 L313.49 195.76 L314.40 196.19 L315.30 196.65 L316.21 197.12 L317.11 197.61 L318.02 198.11 L318.92 198.63 L319.83 199.16 L320.73 199.70 L321.64 200.25 L322.54 200.82 L323.45 201.41 L324.35 202.02 L325.26 202.65 L326.16 203.32 L327.07 204.01 L327.97 204.73 L328.88 205.50 L329.78 206.30 L330.69 207.14 L331.59 208.03 L332.50 208.96 L333.40 209.94 L334.30 210.95 L335.21 212.00 L336.11 213.08 L337.02 214.19 L337.92 215.32 L338.83 216.46 L339.73 217.64 L340.64 218.84 L341.54 220.08 L342.45 221.38 L343.35 222.74 L344.26 224.17 L345.16 225.69 L346.07 227.30 L346.97 228.98 L347.88 230.72 L348.78 232.48 L349.69 234.24 L350.59 235.97 L351.50 237.64 L352.40 239.24 L353.31 240.74 L354.21 242.16 L355.12 243.54 L356.02 244.88 L356.93 246.23 L357.83 247.59 L358.73 249.00 L359.64 250.48 L360.54 252.05 L361.45 253.75 L362.35 255.52 L363.26 257.17 L364.16 258.52 L365.07 259.34 L365.97 259.41 L366.88 259.16 L367.78 258.86 L368.69 258.52 L369.59 258.13 L370.50 257.67 L371.40 257.15 L372.31 256.60 L373.21 256.02 L374.12 255.41 L375.02 254.80 L375.93 254.16 L376.83 253.47 L377.74 252.75 L378.64 251.99 L379.55 251.21 L380.45 250.42 L381.35 249.62 L382.26 248.82 L383.16 248.02 L384.07 247.25 L384.97 246.50 L385.88 245.78 L386.78 245.08 L387.69 244.39 L388.59 243.70 L389.50 243.03 L390.40 242.36 L391.31 241.71 L392.21 241.06"/>
<path d="M239.30 236.50 L240.20 235.69 L241.11 234.88 L242.01 234.06 L242.92 233.25 L243.82 232.43 L244.73 231.60 L245.63 230.77 L246.54 229.93 L247.44 229.09 L248.35 228.23 L249.25 227.37 L250.16 226.49 L251.06 225.60 L251.97 224.70 L252.87 223.79 L253.78 222.86 L254.68 221.91 L255.59 220.95 L256.49 219.98 L257.40 218.99 L258.30 218.00 L259.21 217.00 L260.11 216.01 L261.02 215.01 L261.92 214.03 L262.83 213.04 L263.73 212.07 L264.63 211.12 L265.54 210.18 L266.44 209.26 L267.35 208.37 L268.25 207.50 L269.16 206.66 L270.06 205.85 L270.97 205.08 L271.87 204.34 L272.78 203.65 L273.68 202.98 L274.59 202.36 L275.49 201.76 L276.40 201.19 L277.30 200.66 L278.21 200.15 L279.11 199.67 L280.02 199.21 L280.92 198.78 L281.83 198.37 L282.73 197.98 L283.64 197.61 L284.54 197.25 L285.45 196.91 L286.35 196.59 L287.25 196.28 L288.16 195.99 L289.06 195.71 L289.97 195.45 L290.87 195.20 L291.78 194.98 L292.68 194.77 L293.59 194.59 L294.49 194.43 L295.40 194.29 L296.30 194.18 L297.21 194.10 L298.11 194.05 L299.02 194.02 L299.92 194.03 L300.83 194.07 L301.73 194.14 L302.64 194.25 L303.54 194.39 L304.45 194.56 L305.35 194.77 L306.26 195.01 L307.16 195.27 L308.07 195.56 L308.97 195.88 L309.88 196.22 L310.78 196.59 L311.68 196.97 L312.59 197.38 L313.49 197.80 L314.40 198.24 L315.30 198.69 L316.21 199.16 L317.11 199.64 L318.02 200.13 L318.92 200.63 L319.83 201.15 L320.73 201.68 L321.64 202.23 L322.54 202.79 L323.45 203.38 L324.35 204.00 L325.26 204.64 L326.16 205.31 L327.07 206.01 L327.97 206.74 L328.88 207.51 L329.78 208.32 L330.69 209.16 L331.59 210.04 L332.50 210.96 L333.40 211.91 L334.30 212.88 L335.21 213.89 L336.11 214.92 L337.02 215.97 L337.92 217.04 L338.83 218.14 L339.73 219.27 L340.64 220.45 L341.54 221.67 L342.45 222.95 L343.35 224.29 L344.26 225.71 L345.16 227.21 L346.07 228.77 L346.97 230.38 L347.88 232.02 L348.78 233.67 L349.69 235.32 L350.59 236.94 L351.50 238.52 L352.40 240.04 L353.31 241.50 L354.21 242.92 L355.12 244.32 L356.02 245.72 L356.93 247.12 L357.83 248.54 L358.73 250.00 L359.64 251.52 L360.54 253.11 L361.45 254.78 L362.35 256.46 L363.26 257.96 L364.16 259.11 L365.07 259.70 L365.97 259.60 L366.88 259.29 L367.78 258.92 L368.69 258.47 L369.59 257.89 L370.50 257.18 L371.40 256.37 L372.31 255.50 L373.21 254.61 L374.12 253.73 L375.02 252.90 L375.93 252.10 L376.83 251.30 L377.74 250.48 L378.64 249.66 L379.55 248.84 L380.45 248.03 L381.35 247.21 L382.26 246.40 L383.16 245.59 L384.07 244.79 L384.97 244.01 L385.88 243.24 L386.78 242.48 L387.69 241.73 L388.59 240.98 L389.50 240.25 L390.40 239.52 L391.31 238.80 L392.21 238.08"/>
<path d="M239.30 236.50 L240.20 235.69 L241.11 234.87 L242.01 234.05 L242.92 233.24 L243.82 232.41 L244.73 231.58 L245.63 230.75 L246.54 229.91 L247.44 229.06 L248.35 228.21 L249.25 227.34 L250.16 226.47 L251.06 225.58 L251.97 224.69 L252.87 223.78 L253.78 222.85 L254.68 221.91 L255.59 220.96 L256.49 219.99 L257.40 219.02 L258.30 218.04 L259.21 217.06 L260.11 216.08 L261.02 215.11 L261.92 214.14 L262.83 213.19 L263.73 212.25 L264.63 211.32 L265.54 210.42 L266.44 209.54 L267.35 208.69 L268.25 207.87 L269.16 207.09 L270.06 206.34 L270.97 205.62 L271.87 204.94 L272.78 204.29 L273.68 203.67 L274.59 203.09 L275.49 202.53 L276.40 202.00 L277.30 201.49 L278.21 201.01 L279.11 200.56 L280.02 200.13 L280.92 199.72 L281.83 199.33 L282.73 198.96 L283.64 198.60 L284.54 198.27 L285.45 197.95 L286.35 197.64 L287.25 197.35 L288.16 197.08 L289.06 196.83 L289.97 196.59 L290.87 196.38 L291.78 196.19 L292.68 196.02 L293.59 195.88 L294.49 195.76 L295.40 195.67 L296.30 195.61 L297.21 195.57 L298.11 195.56 L299.02 195.58 L299.92 195.64 L300.83 195.72 L301.73 195.84 L302.64 195.99 L303.54 196.17 L304.45 196.38 L305.35 196.61 L306.26 196.87 L307.16 197.16 L308.07 197.47 L308.97 197.80 L309.88 198.15 L310.78 198.52 L311.68 198.90 L312.59 199.31 L313.49 199.72 L314.40 200.15 L315.30 200.60 L316.21 201.05 L317.11 201.51 L318.02 201.99 L318.92 202.49 L319.83 203.00 L320.73 203.53 L321.64 204.08 L322.54 204.65 L323.45 205.24 L324.35 205.86 L325.26 206.50 L326.16 207.17 L327.07 207.88 L327.97 208.61 L328.88 209.38 L329.78 210.17 L330.69 211.00 L331.59 211.86 L332.50 212.74 L333.40 213.65 L334.30 214.59 L335.21 215.55 L336.11 216.53 L337.02 217.54 L337.92 218.58 L338.83 219.65 L339.73 220.76 L340.64 221.91 L341.54 223.12 L342.45 224.38 L343.35 225.71 L344.26 227.10 L345.16 228.55 L346.07 230.04 L346.97 231.57 L347.88 233.12 L348.78 234.69 L349.69 236.25 L350.59 237.80 L351.50 239.33 L352.40 240.82 L353.31 242.29 L354.21 243.75 L355.12 245.20 L356.02 246.65 L356.93 248.10 L357.83 249.58 L358.73 251.07 L359.64 252.59 L360.54 254.16 L361.45 255.75 L362.35 257.28 L363.26 258.58 L364.16 259.50 L365.07 259.87 L365.97 259.62 L366.88 259.24 L367.78 258.78 L368.69 258.21 L369.59 257.42 L370.50 256.46 L371.40 255.39 L372.31 254.25 L373.21 253.10 L374.12 252.00 L375.02 251.00 L375.93 250.08 L376.83 249.18 L377.74 248.29 L378.64 247.42 L379.55 246.55 L380.45 245.70 L381.35 244.85 L382.26 244.01 L383.16 243.18 L384.07 242.35 L384.97 241.52 L385.88 240.69 L386.78 239.88 L387.69 239.06 L388.59 238.26 L389.50 237.46 L390.40 236.67 L391.31 235.89 L392.21 235.11"/>
<path d="M239.30 236.50 L240.20 235.68 L241.11 234.86 L242.01 234.04 L242.92 233.22 L243.82 232.39 L244.73 231.56 L245.63 230.72 L246.54 229.88 L247.44 229.03 L248.35 228.18 L249.25 227.31 L250.16 226.44 L251.06 225.56 L251.97 224.66 L252.87 223.76 L253.78 222.84 L254.68 221.91 L255.59 220.97 L256.49 220.02 L257.40 219.06 L258.30 218.10 L259.21 217.15 L260.11 216.19 L261.02 215.24 L261.92 214.31 L262.83 213.38 L263.73 212.48 L264.63 211.59 L265.54 210.73 L266.44 209.90 L267.35 209.10 L268.25 208.33 L269.16 207.60 L270.06 206.89 L270.97 206.22 L271.87 205.58 L272.78 204.96 L273.68 204.38 L274.59 203.82 L275.49 203.29 L276.40 202.78 L277.30 202.30 L278.21 201.83 L279.11 201.40 L280.02 200.98 L280.92 200.58 L281.83 200.21 L282.73 199.85 L283.64 199.51 L284.54 199.19 L285.45 198.88 L286.35 198.60 L287.25 198.34 L288.16 198.09 L289.06 197.87 L289.97 197.67 L290.87 197.49 L291.78 197.34 L292.68 197.21 L293.59 197.11 L294.49 197.04 L295.40 196.99 L296.30 196.97 L297.21 196.98 L298.11 197.01 L299.02 197.08 L299.92 197.18 L300.83 197.31 L301.73 197.46 L302.64 197.65 L303.54 197.86 L304.45 198.09 L305.35 198.35 L306.26 198.63 L307.16 198.93 L308.07 199.25 L308.97 199.59 L309.88 199.94 L310.78 200.31 L311.68 200.70 L312.59 201.09 L313.49 201.50 L314.40 201.92 L315.30 202.36 L316.21 202.80 L317.11 203.26 L318.02 203.74 L318.92 204.23 L319.83 204.74 L320.73 205.27 L321.64 205.82 L322.54 206.39 L323.45 206.99 L324.35 207.60 L325.26 208.25 L326.16 208.91 L327.07 209.61 L327.97 210.33 L328.88 211.08 L329.78 211.85 L330.69 212.65 L331.59 213.47 L332.50 214.32 L333.40 215.20 L334.30 216.10 L335.21 217.02 L336.11 217.97 L337.02 218.95 L337.92 219.97 L338.83 221.02 L339.73 222.12 L340.64 223.26 L341.54 224.45 L342.45 225.69 L343.35 226.98 L344.26 228.33 L345.16 229.72 L346.07 231.14 L346.97 232.60 L347.88 234.08 L348.78 235.58 L349.69 237.09 L350.59 238.60 L351.50 240.11 L352.40 241.62 L353.31 243.13 L354.21 244.63 L355.12 246.13 L356.02 247.64 L356.93 249.14 L357.83 250.64 L358.73 252.15 L359.64 253.65 L360.54 255.16 L361.45 256.65 L362.35 258.01 L363.26 259.11 L364.16 259.81 L365.07 259.96 L365.97 259.66 L366.88 259.18 L367.78 258.57 L368.69 257.76 L369.59 256.55 L370.50 255.04 L371.40 253.34 L372.31 251.54 L373.21 249.75 L374.12 248.06 L375.02 246.57 L375.93 245.24 L376.83 243.96 L377.74 242.71 L378.64 241.50 L379.55 240.31 L380.45 239.14 L381.35 237.98 L382.26 236.81 L383.16 235.64 L384.07 234.45 L384.97 233.23 L385.88 231.99 L386.78 230.72 L387.69 229.45 L388.59 228.16 L389.50 226.87 L390.40 225.57 L391.31 224.26 L392.21 222.94"/>
</g>
<path d="M289.93 274.40V269.70M289.93 160.70V165.40M340.57 274.40V269.70M340.57 160.70V165.40M264.62 274.40V271.50M264.62 160.70V163.60M315.25 274.40V271.50M315.25 160.70V163.60M365.88 274.40V271.50M365.88 160.70V163.60M239.30 236.50H244.00M391.20 236.50H386.50M239.30 198.60H244.00M391.20 198.60H386.50M239.30 255.45H242.20M391.20 255.45H388.30M239.30 217.55H242.20M391.20 217.55H388.30M239.30 179.65H242.20M391.20 179.65H388.30" fill="none" stroke="#000" stroke-width="1.30"/>
<rect x="239.30" y="160.70" width="151.90" height="113.70" fill="none" stroke="#000" stroke-width="1.60"/>
<text x="239.30" y="287.70" font-size="10.80" text-anchor="middle">50</text>
<text x="289.93" y="287.70" font-size="10.80" text-anchor="middle">150</text>
<text x="340.57" y="287.70" font-size="10.80" text-anchor="middle">250</text>
<text x="391.20" y="287.70" font-size="10.80" text-anchor="middle">350</text>
<text x="234.40" y="278.10" font-size="10.80" text-anchor="end">0</text>
<text x="234.40" y="240.20" font-size="10.80" text-anchor="end">3</text>
<text x="234.40" y="202.30" font-size="10.80" text-anchor="end">6</text>
<text x="234.40" y="164.40" font-size="10.80" text-anchor="end">9</text>
<text x="312.55" y="306.20" font-size="13.00" text-anchor="middle">T (K)</text>
<text x="249.50" y="182.90" font-size="13.00">(e)</text>
<path d="M323.70 232.60L354.03 192.28" stroke="#000" stroke-width="1" fill="none"/>
<path d="M356.80 188.60L354.99 194.25L351.88 191.90Z" fill="#000"/>
<text transform="translate(219.30 220.40) rotate(-90)" font-size="19.00" text-anchor="middle">ε</text>
<path d="M204.20 208.95 C205.80 208.75 207.40 209.20 208.10 211.25 C207.20 210.15 206.10 209.95 205.25 210.55 A1.15 1.15 0 1 1 204.20 208.95Z" fill="#111"/>
<path d="M204.20 213.05 C205.80 212.85 207.40 213.30 208.10 215.35 C207.20 214.25 206.10 214.05 205.25 214.65 A1.15 1.15 0 1 1 204.20 213.05Z" fill="#111"/>
<g clip-path="url(#cp_f)" fill="none" stroke="#000" stroke-width="0.76" stroke-linejoin="round">
<path d="M443.88 233.47 L444.77 232.97 L445.66 232.48 L446.56 231.99 L447.45 231.49 L448.34 230.99 L449.23 230.48 L450.12 229.97 L451.02 229.46 L451.91 228.94 L452.80 228.41 L453.69 227.88 L454.58 227.34 L455.47 226.79 L456.37 226.23 L457.26 225.66 L458.15 225.08 L459.04 224.48 L459.93 223.88 L460.83 223.27 L461.72 222.64 L462.61 222.00 L463.50 221.35 L464.39 220.68 L465.29 220.00 L466.18 219.31 L467.07 218.60 L467.96 217.87 L468.85 217.13 L469.75 216.37 L470.64 215.60 L471.53 214.81 L472.42 214.00 L473.31 213.17 L474.21 212.32 L475.10 211.45 L475.99 210.56 L476.88 209.66 L477.77 208.73 L478.66 207.78 L479.56 206.81 L480.45 205.81 L481.34 204.80 L482.23 203.76 L483.12 202.69 L484.02 201.60 L484.91 200.49 L485.80 199.35 L486.69 198.19 L487.58 197.00 L488.48 195.78 L489.37 194.55 L490.26 193.32 L491.15 192.11 L492.04 190.93 L492.94 189.79 L493.83 188.72 L494.72 187.73 L495.61 186.84 L496.50 186.05 L497.39 185.37 L498.29 184.80 L499.18 184.33 L500.07 183.95 L500.96 183.65 L501.85 183.43 L502.75 183.28 L503.64 183.19 L504.53 183.17 L505.42 183.19 L506.31 183.27 L507.21 183.41 L508.10 183.60 L508.99 183.84 L509.88 184.13 L510.77 184.48 L511.67 184.88 L512.56 185.33 L513.45 185.83 L514.34 186.38 L515.23 186.99 L516.12 187.64 L517.02 188.34 L517.91 189.09 L518.80 189.89 L519.69 190.74 L520.58 191.64 L521.48 192.58 L522.37 193.57 L523.26 194.60 L524.15 195.67 L525.04 196.79 L525.94 197.95 L526.83 199.16 L527.72 200.40 L528.61 201.68 L529.50 203.00 L530.40 204.36 L531.29 205.75 L532.18 207.16 L533.07 208.59 L533.96 210.03 L534.86 211.47 L535.75 212.90 L536.64 214.32 L537.53 215.72 L538.42 217.09 L539.31 218.43 L540.21 219.74 L541.10 221.01 L541.99 222.24 L542.88 223.43 L543.77 224.57 L544.67 225.66 L545.56 226.70 L546.45 227.69 L547.34 228.63 L548.23 229.50 L549.13 230.32 L550.02 231.08 L550.91 231.78 L551.80 232.42 L552.69 233.01 L553.59 233.53 L554.48 234.00 L555.37 234.40 L556.26 234.75 L557.15 235.05 L558.04 235.30 L558.94 235.52 L559.83 235.71 L560.72 235.88 L561.61 236.03 L562.50 236.17 L563.40 236.30 L564.29 236.44 L565.18 236.59 L566.07 236.74 L566.96 236.89 L567.86 237.04 L568.75 237.18 L569.64 237.31 L570.53 237.43 L571.42 237.52 L572.32 237.59 L573.21 237.63 L574.10 237.63 L574.99 237.60 L575.88 237.51 L576.78 237.38 L577.67 237.21 L578.56 237.01 L579.45 236.78 L580.34 236.51 L581.23 236.22 L582.13 235.91 L583.02 235.58 L583.91 235.23 L584.80 234.87 L585.69 234.47 L586.59 233.94 L587.48 233.31 L588.37 232.58 L589.26 231.75 L590.15 230.85 L591.05 229.88 L591.94 228.85 L592.83 227.77 L593.72 226.65 L594.61 225.51"/>
<path d="M443.88 233.75 L444.77 233.26 L445.66 232.76 L446.56 232.26 L447.45 231.75 L448.34 231.24 L449.23 230.73 L450.12 230.21 L451.02 229.68 L451.91 229.14 L452.80 228.60 L453.69 228.04 L454.58 227.47 L455.47 226.89 L456.37 226.29 L457.26 225.68 L458.15 225.06 L459.04 224.42 L459.93 223.77 L460.83 223.11 L461.72 222.43 L462.61 221.74 L463.50 221.04 L464.39 220.32 L465.29 219.59 L466.18 218.85 L467.07 218.09 L467.96 217.32 L468.85 216.53 L469.75 215.73 L470.64 214.92 L471.53 214.09 L472.42 213.25 L473.31 212.39 L474.21 211.52 L475.10 210.63 L475.99 209.73 L476.88 208.82 L477.77 207.89 L478.66 206.95 L479.56 205.99 L480.45 205.02 L481.34 204.03 L482.23 203.03 L483.12 202.01 L484.02 200.98 L484.91 199.93 L485.80 198.86 L486.69 197.79 L487.58 196.71 L488.48 195.63 L489.37 194.58 L490.26 193.57 L491.15 192.59 L492.04 191.68 L492.94 190.84 L493.83 190.08 L494.72 189.42 L495.61 188.84 L496.50 188.36 L497.39 187.96 L498.29 187.64 L499.18 187.40 L500.07 187.22 L500.96 187.10 L501.85 187.05 L502.75 187.04 L503.64 187.09 L504.53 187.19 L505.42 187.33 L506.31 187.53 L507.21 187.79 L508.10 188.09 L508.99 188.44 L509.88 188.84 L510.77 189.30 L511.67 189.80 L512.56 190.36 L513.45 190.97 L514.34 191.62 L515.23 192.33 L516.12 193.09 L517.02 193.90 L517.91 194.76 L518.80 195.66 L519.69 196.61 L520.58 197.61 L521.48 198.65 L522.37 199.73 L523.26 200.86 L524.15 202.03 L525.04 203.25 L525.94 204.50 L526.83 205.79 L527.72 207.13 L528.61 208.49 L529.50 209.89 L530.40 211.31 L531.29 212.74 L532.18 214.18 L533.07 215.62 L533.96 217.06 L534.86 218.48 L535.75 219.87 L536.64 221.25 L537.53 222.58 L538.42 223.89 L539.31 225.15 L540.21 226.38 L541.10 227.56 L541.99 228.70 L542.88 229.79 L543.77 230.82 L544.67 231.80 L545.56 232.73 L546.45 233.60 L547.34 234.41 L548.23 235.16 L549.13 235.86 L550.02 236.49 L550.91 237.07 L551.80 237.58 L552.69 238.04 L553.59 238.43 L554.48 238.77 L555.37 239.06 L556.26 239.31 L557.15 239.53 L558.04 239.71 L558.94 239.87 L559.83 240.02 L560.72 240.16 L561.61 240.29 L562.50 240.43 L563.40 240.58 L564.29 240.73 L565.18 240.88 L566.07 241.03 L566.96 241.17 L567.86 241.29 L568.75 241.41 L569.64 241.50 L570.53 241.57 L571.42 241.61 L572.32 241.61 L573.21 241.57 L574.10 241.49 L574.99 241.36 L575.88 241.18 L576.78 240.98 L577.67 240.73 L578.56 240.46 L579.45 240.17 L580.34 239.85 L581.23 239.51 L582.13 239.16 L583.02 238.79 L583.91 238.42 L584.80 238.01 L585.69 237.50 L586.59 236.91 L587.48 236.24 L588.37 235.51 L589.26 234.70 L590.15 233.84 L591.05 232.93 L591.94 231.98 L592.83 230.99 L593.72 229.97 L594.61 228.92"/>
<path d="M443.88 234.04 L444.77 233.54 L445.66 233.03 L446.56 232.53 L447.45 232.02 L448.34 231.51 L449.23 230.98 L450.12 230.45 L451.02 229.91 L451.91 229.35 L452.80 228.78 L453.69 228.20 L454.58 227.60 L455.47 226.98 L456.37 226.35 L457.26 225.70 L458.15 225.03 L459.04 224.34 L459.93 223.65 L460.83 222.93 L461.72 222.21 L462.61 221.47 L463.50 220.71 L464.39 219.95 L465.29 219.17 L466.18 218.38 L467.07 217.57 L467.96 216.76 L468.85 215.94 L469.75 215.11 L470.64 214.26 L471.53 213.41 L472.42 212.56 L473.31 211.69 L474.21 210.81 L475.10 209.93 L475.99 209.05 L476.88 208.15 L477.77 207.25 L478.66 206.35 L479.56 205.44 L480.45 204.53 L481.34 203.61 L482.23 202.69 L483.12 201.77 L484.02 200.85 L484.91 199.94 L485.80 199.04 L486.69 198.17 L487.58 197.34 L488.48 196.55 L489.37 195.81 L490.26 195.13 L491.15 194.52 L492.04 193.99 L492.94 193.54 L493.83 193.15 L494.72 192.84 L495.61 192.59 L496.50 192.40 L497.39 192.27 L498.29 192.19 L499.18 192.16 L500.07 192.18 L500.96 192.24 L501.85 192.35 L502.75 192.51 L503.64 192.72 L504.53 192.97 L505.42 193.27 L506.31 193.62 L507.21 194.02 L508.10 194.46 L508.99 194.96 L509.88 195.50 L510.77 196.10 L511.67 196.74 L512.56 197.43 L513.45 198.17 L514.34 198.96 L515.23 199.80 L516.12 200.68 L517.02 201.61 L517.91 202.58 L518.80 203.60 L519.69 204.66 L520.58 205.76 L521.48 206.90 L522.37 208.08 L523.26 209.30 L524.15 210.56 L525.04 211.86 L525.94 213.18 L526.83 214.54 L527.72 215.91 L528.61 217.30 L529.50 218.69 L530.40 220.08 L531.29 221.46 L532.18 222.82 L533.07 224.17 L533.96 225.48 L534.86 226.77 L535.75 228.02 L536.64 229.23 L537.53 230.40 L538.42 231.54 L539.31 232.62 L540.21 233.66 L541.10 234.65 L541.99 235.58 L542.88 236.46 L543.77 237.29 L544.67 238.06 L545.56 238.77 L546.45 239.43 L547.34 240.03 L548.23 240.57 L549.13 241.05 L550.02 241.48 L550.91 241.85 L551.80 242.16 L552.69 242.44 L553.59 242.67 L554.48 242.87 L555.37 243.05 L556.26 243.20 L557.15 243.35 L558.04 243.48 L558.94 243.62 L559.83 243.76 L560.72 243.91 L561.61 244.06 L562.50 244.21 L563.40 244.35 L564.29 244.48 L565.18 244.60 L566.07 244.70 L566.96 244.77 L567.86 244.82 L568.75 244.84 L569.64 244.81 L570.53 244.74 L571.42 244.63 L572.32 244.48 L573.21 244.28 L574.10 244.06 L574.99 243.80 L575.88 243.52 L576.78 243.21 L577.67 242.87 L578.56 242.52 L579.45 242.16 L580.34 241.78 L581.23 241.40 L582.13 241.00 L583.02 240.59 L583.91 240.11 L584.80 239.56 L585.69 238.93 L586.59 238.25 L587.48 237.51 L588.37 236.71 L589.26 235.87 L590.15 234.98 L591.05 234.06 L591.94 233.10 L592.83 232.11 L593.72 231.09 L594.61 230.06"/>
<path d="M443.88 234.32 L444.77 233.81 L445.66 233.29 L446.56 232.77 L447.45 232.25 L448.34 231.72 L449.23 231.18 L450.12 230.64 L451.02 230.08 L451.91 229.52 L452.80 228.94 L453.69 228.35 L454.58 227.74 L455.47 227.12 L456.37 226.48 L457.26 225.83 L458.15 225.16 L459.04 224.47 L459.93 223.78 L460.83 223.07 L461.72 222.34 L462.61 221.61 L463.50 220.86 L464.39 220.09 L465.29 219.32 L466.18 218.54 L467.07 217.74 L467.96 216.93 L468.85 216.12 L469.75 215.29 L470.64 214.45 L471.53 213.61 L472.42 212.75 L473.31 211.89 L474.21 211.02 L475.10 210.14 L475.99 209.25 L476.88 208.36 L477.77 207.46 L478.66 206.55 L479.56 205.64 L480.45 204.73 L481.34 203.81 L482.23 202.90 L483.12 202.01 L484.02 201.14 L484.91 200.32 L485.80 199.53 L486.69 198.81 L487.58 198.15 L488.48 197.56 L489.37 197.05 L490.26 196.62 L491.15 196.26 L492.04 195.96 L492.94 195.74 L493.83 195.57 L494.72 195.45 L495.61 195.39 L496.50 195.38 L497.39 195.41 L498.29 195.49 L499.18 195.62 L500.07 195.80 L500.96 196.02 L501.85 196.29 L502.75 196.60 L503.64 196.97 L504.53 197.38 L505.42 197.84 L506.31 198.35 L507.21 198.91 L508.10 199.52 L508.99 200.18 L509.88 200.89 L510.77 201.64 L511.67 202.45 L512.56 203.30 L513.45 204.20 L514.34 205.15 L515.23 206.14 L516.12 207.17 L517.02 208.25 L517.91 209.36 L518.80 210.52 L519.69 211.72 L520.58 212.95 L521.48 214.23 L522.37 215.54 L523.26 216.88 L524.15 218.25 L525.04 219.63 L525.94 221.02 L526.83 222.42 L527.72 223.81 L528.61 225.19 L529.50 226.56 L530.40 227.90 L531.29 229.21 L532.18 230.49 L533.07 231.73 L533.96 232.94 L534.86 234.10 L535.75 235.22 L536.64 236.30 L537.53 237.33 L538.42 238.30 L539.31 239.23 L540.21 240.10 L541.10 240.91 L541.99 241.66 L542.88 242.36 L543.77 243.00 L544.67 243.59 L545.56 244.11 L546.45 244.58 L547.34 244.99 L548.23 245.34 L549.13 245.65 L550.02 245.91 L550.91 246.13 L551.80 246.31 L552.69 246.48 L553.59 246.62 L554.48 246.75 L555.37 246.88 L556.26 247.00 L557.15 247.13 L558.04 247.27 L558.94 247.41 L559.83 247.55 L560.72 247.69 L561.61 247.82 L562.50 247.94 L563.40 248.05 L564.29 248.14 L565.18 248.20 L566.07 248.24 L566.96 248.25 L567.86 248.21 L568.75 248.13 L569.64 248.01 L570.53 247.85 L571.42 247.66 L572.32 247.43 L573.21 247.17 L574.10 246.88 L574.99 246.57 L575.88 246.24 L576.78 245.88 L577.67 245.52 L578.56 245.14 L579.45 244.75 L580.34 244.35 L581.23 243.94 L582.13 243.47 L583.02 242.92 L583.91 242.30 L584.80 241.62 L585.69 240.87 L586.59 240.06 L587.48 239.20 L588.37 238.28 L589.26 237.32 L590.15 236.32 L591.05 235.28 L591.94 234.20 L592.83 233.10 L593.72 231.97 L594.61 230.81"/>
<path d="M443.88 234.60 L444.77 234.07 L445.66 233.54 L446.56 233.00 L447.45 232.46 L448.34 231.92 L449.23 231.37 L450.12 230.81 L451.02 230.24 L451.91 229.67 L452.80 229.09 L453.69 228.49 L454.58 227.88 L455.47 227.26 L456.37 226.63 L457.26 225.98 L458.15 225.32 L459.04 224.64 L459.93 223.96 L460.83 223.26 L461.72 222.55 L462.61 221.82 L463.50 221.08 L464.39 220.33 L465.29 219.57 L466.18 218.80 L467.07 218.01 L467.96 217.21 L468.85 216.40 L469.75 215.57 L470.64 214.73 L471.53 213.89 L472.42 213.03 L473.31 212.15 L474.21 211.27 L475.10 210.37 L475.99 209.46 L476.88 208.54 L477.77 207.61 L478.66 206.68 L479.56 205.75 L480.45 204.83 L481.34 203.95 L482.23 203.10 L483.12 202.30 L484.02 201.57 L484.91 200.90 L485.80 200.31 L486.69 199.81 L487.58 199.38 L488.48 199.03 L489.37 198.75 L490.26 198.53 L491.15 198.37 L492.04 198.27 L492.94 198.23 L493.83 198.23 L494.72 198.27 L495.61 198.36 L496.50 198.50 L497.39 198.68 L498.29 198.91 L499.18 199.19 L500.07 199.51 L500.96 199.89 L501.85 200.30 L502.75 200.77 L503.64 201.29 L504.53 201.85 L505.42 202.47 L506.31 203.13 L507.21 203.84 L508.10 204.61 L508.99 205.41 L509.88 206.27 L510.77 207.17 L511.67 208.11 L512.56 209.10 L513.45 210.14 L514.34 211.21 L515.23 212.32 L516.12 213.48 L517.02 214.67 L517.91 215.90 L518.80 217.17 L519.69 218.48 L520.58 219.81 L521.48 221.17 L522.37 222.54 L523.26 223.92 L524.15 225.30 L525.04 226.67 L525.94 228.04 L526.83 229.38 L527.72 230.70 L528.61 231.99 L529.50 233.25 L530.40 234.47 L531.29 235.65 L532.18 236.80 L533.07 237.90 L533.96 238.95 L534.86 239.95 L535.75 240.91 L536.64 241.81 L537.53 242.65 L538.42 243.44 L539.31 244.18 L540.21 244.86 L541.10 245.48 L541.99 246.04 L542.88 246.55 L543.77 247.00 L544.67 247.39 L545.56 247.72 L546.45 248.01 L547.34 248.26 L548.23 248.46 L549.13 248.64 L550.02 248.79 L550.91 248.92 L551.80 249.04 L552.69 249.16 L553.59 249.27 L554.48 249.38 L555.37 249.51 L556.26 249.64 L557.15 249.77 L558.04 249.91 L558.94 250.04 L559.83 250.16 L560.72 250.27 L561.61 250.36 L562.50 250.44 L563.40 250.49 L564.29 250.52 L565.18 250.52 L566.07 250.46 L566.96 250.35 L567.86 250.19 L568.75 249.98 L569.64 249.73 L570.53 249.44 L571.42 249.12 L572.32 248.77 L573.21 248.38 L574.10 247.97 L574.99 247.54 L575.88 247.10 L576.78 246.63 L577.67 246.16 L578.56 245.68 L579.45 245.20 L580.34 244.66 L581.23 244.04 L582.13 243.33 L583.02 242.55 L583.91 241.70 L584.80 240.79 L585.69 239.83 L586.59 238.82 L587.48 237.77 L588.37 236.70 L589.26 235.56 L590.15 234.30 L591.05 232.93 L591.94 231.47 L592.83 229.92 L593.72 228.31 L594.61 226.65"/>
<path d="M443.88 234.89 L444.77 234.34 L445.66 233.78 L446.56 233.23 L447.45 232.67 L448.34 232.11 L449.23 231.55 L450.12 230.98 L451.02 230.40 L451.91 229.82 L452.80 229.23 L453.69 228.63 L454.58 228.02 L455.47 227.41 L456.37 226.78 L457.26 226.14 L458.15 225.49 L459.04 224.83 L459.93 224.15 L460.83 223.47 L461.72 222.77 L462.61 222.05 L463.50 221.32 L464.39 220.58 L465.29 219.82 L466.18 219.05 L467.07 218.26 L467.96 217.45 L468.85 216.63 L469.75 215.79 L470.64 214.93 L471.53 214.05 L472.42 213.15 L473.31 212.24 L474.21 211.30 L475.10 210.34 L475.99 209.38 L476.88 208.42 L477.77 207.48 L478.66 206.57 L479.56 205.70 L480.45 204.88 L481.34 204.12 L482.23 203.45 L483.12 202.86 L484.02 202.36 L484.91 201.95 L485.80 201.61 L486.69 201.34 L487.58 201.14 L488.48 200.99 L489.37 200.91 L490.26 200.88 L491.15 200.89 L492.04 200.94 L492.94 201.04 L493.83 201.19 L494.72 201.38 L495.61 201.62 L496.50 201.90 L497.39 202.23 L498.29 202.60 L499.18 203.02 L500.07 203.49 L500.96 204.01 L501.85 204.57 L502.75 205.18 L503.64 205.84 L504.53 206.55 L505.42 207.30 L506.31 208.10 L507.21 208.94 L508.10 209.83 L508.99 210.76 L509.88 211.73 L510.77 212.75 L511.67 213.80 L512.56 214.90 L513.45 216.03 L514.34 217.20 L515.23 218.40 L516.12 219.65 L517.02 220.92 L517.91 222.22 L518.80 223.54 L519.69 224.88 L520.58 226.22 L521.48 227.56 L522.37 228.89 L523.26 230.21 L524.15 231.51 L525.04 232.79 L525.94 234.03 L526.83 235.24 L527.72 236.42 L528.61 237.55 L529.50 238.65 L530.40 239.71 L531.29 240.71 L532.18 241.68 L533.07 242.59 L533.96 243.45 L534.86 244.25 L535.75 245.00 L536.64 245.70 L537.53 246.34 L538.42 246.93 L539.31 247.46 L540.21 247.94 L541.10 248.35 L541.99 248.72 L542.88 249.03 L543.77 249.29 L544.67 249.52 L545.56 249.71 L546.45 249.87 L547.34 250.01 L548.23 250.12 L549.13 250.23 L550.02 250.33 L550.91 250.43 L551.80 250.53 L552.69 250.64 L553.59 250.76 L554.48 250.88 L555.37 251.01 L556.26 251.13 L557.15 251.25 L558.04 251.35 L558.94 251.45 L559.83 251.53 L560.72 251.60 L561.61 251.64 L562.50 251.66 L563.40 251.59 L564.29 251.45 L565.18 251.25 L566.07 251.00 L566.96 250.70 L567.86 250.36 L568.75 249.97 L569.64 249.55 L570.53 249.09 L571.42 248.61 L572.32 248.09 L573.21 247.56 L574.10 247.00 L574.99 246.43 L575.88 245.84 L576.78 245.25 L577.67 244.64 L578.56 243.97 L579.45 243.20 L580.34 242.36 L581.23 241.44 L582.13 240.46 L583.02 239.41 L583.91 238.32 L584.80 237.17 L585.69 235.99 L586.59 234.77 L587.48 233.53 L588.37 232.22 L589.26 230.80 L590.15 229.29 L591.05 227.68 L591.94 226.00 L592.83 224.25 L593.72 222.44 L594.61 220.58"/>
<path d="M443.88 235.17 L444.77 234.61 L445.66 234.04 L446.56 233.47 L447.45 232.89 L448.34 232.32 L449.23 231.74 L450.12 231.16 L451.02 230.57 L451.91 229.98 L452.80 229.38 L453.69 228.78 L454.58 228.17 L455.47 227.55 L456.37 226.92 L457.26 226.28 L458.15 225.63 L459.04 224.97 L459.93 224.29 L460.83 223.60 L461.72 222.90 L462.61 222.18 L463.50 221.44 L464.39 220.69 L465.29 219.92 L466.18 219.13 L467.07 218.31 L467.96 217.48 L468.85 216.62 L469.75 215.74 L470.64 214.83 L471.53 213.90 L472.42 212.94 L473.31 211.97 L474.21 210.99 L475.10 210.03 L475.99 209.09 L476.88 208.19 L477.77 207.34 L478.66 206.56 L479.56 205.85 L480.45 205.24 L481.34 204.72 L482.23 204.28 L483.12 203.93 L484.02 203.65 L484.91 203.43 L485.80 203.29 L486.69 203.19 L487.58 203.15 L488.48 203.16 L489.37 203.20 L490.26 203.29 L491.15 203.43 L492.04 203.61 L492.94 203.83 L493.83 204.10 L494.72 204.41 L495.61 204.76 L496.50 205.17 L497.39 205.61 L498.29 206.11 L499.18 206.64 L500.07 207.23 L500.96 207.86 L501.85 208.54 L502.75 209.26 L503.64 210.03 L504.53 210.84 L505.42 211.70 L506.31 212.59 L507.21 213.53 L508.10 214.51 L508.99 215.52 L509.88 216.58 L510.77 217.67 L511.67 218.80 L512.56 219.97 L513.45 221.17 L514.34 222.40 L515.23 223.66 L516.12 224.94 L517.02 226.23 L517.91 227.53 L518.80 228.83 L519.69 230.12 L520.58 231.41 L521.48 232.67 L522.37 233.91 L523.26 235.12 L524.15 236.30 L525.04 237.45 L525.94 238.56 L526.83 239.63 L527.72 240.66 L528.61 241.65 L529.50 242.59 L530.40 243.48 L531.29 244.32 L532.18 245.11 L533.07 245.85 L533.96 246.53 L534.86 247.16 L535.75 247.74 L536.64 248.26 L537.53 248.73 L538.42 249.15 L539.31 249.51 L540.21 249.82 L541.10 250.08 L541.99 250.31 L542.88 250.50 L543.77 250.66 L544.67 250.79 L545.56 250.91 L546.45 251.02 L547.34 251.11 L548.23 251.21 L549.13 251.31 L550.02 251.41 L550.91 251.53 L551.80 251.64 L552.69 251.76 L553.59 251.88 L554.48 252.00 L555.37 252.10 L556.26 252.20 L557.15 252.28 L558.04 252.35 L558.94 252.39 L559.83 252.42 L560.72 252.40 L561.61 252.31 L562.50 252.13 L563.40 251.88 L564.29 251.56 L565.18 251.17 L566.07 250.72 L566.96 250.20 L567.86 249.64 L568.75 249.02 L569.64 248.36 L570.53 247.65 L571.42 246.91 L572.32 246.14 L573.21 245.33 L574.10 244.50 L574.99 243.65 L575.88 242.79 L576.78 241.91 L577.67 241.02 L578.56 240.13 L579.45 239.15 L580.34 238.04 L581.23 236.82 L582.13 235.48 L583.02 234.04 L583.91 232.51 L584.80 230.88 L585.69 229.16 L586.59 227.37 L587.48 225.51 L588.37 223.59 L589.26 221.61 L590.15 219.58 L591.05 217.49 L591.94 215.10 L592.83 212.40 L593.72 209.58 L594.61 206.56"/>
<path d="M443.88 235.46 L444.77 234.88 L445.66 234.30 L446.56 233.71 L447.45 233.13 L448.34 232.54 L449.23 231.95 L450.12 231.36 L451.02 230.76 L451.91 230.16 L452.80 229.55 L453.69 228.93 L454.58 228.30 L455.47 227.67 L456.37 227.03 L457.26 226.37 L458.15 225.71 L459.04 225.03 L459.93 224.34 L460.83 223.63 L461.72 222.90 L462.61 222.16 L463.50 221.40 L464.39 220.61 L465.29 219.81 L466.18 218.98 L467.07 218.13 L467.96 217.25 L468.85 216.35 L469.75 215.42 L470.64 214.47 L471.53 213.50 L472.42 212.55 L473.31 211.61 L474.21 210.70 L475.10 209.84 L475.99 209.04 L476.88 208.32 L477.77 207.68 L478.66 207.13 L479.56 206.67 L480.45 206.30 L481.34 206.00 L482.23 205.77 L483.12 205.60 L484.02 205.49 L484.91 205.43 L485.80 205.42 L486.69 205.45 L487.58 205.53 L488.48 205.64 L489.37 205.80 L490.26 205.99 L491.15 206.24 L492.04 206.52 L492.94 206.85 L493.83 207.22 L494.72 207.63 L495.61 208.09 L496.50 208.59 L497.39 209.14 L498.29 209.73 L499.18 210.37 L500.07 211.05 L500.96 211.77 L501.85 212.54 L502.75 213.35 L503.64 214.20 L504.53 215.09 L505.42 216.02 L506.31 216.98 L507.21 217.99 L508.10 219.03 L508.99 220.11 L509.88 221.22 L510.77 222.36 L511.67 223.54 L512.56 224.75 L513.45 225.98 L514.34 227.22 L515.23 228.47 L516.12 229.73 L517.02 230.98 L517.91 232.23 L518.80 233.45 L519.69 234.66 L520.58 235.84 L521.48 236.99 L522.37 238.11 L523.26 239.20 L524.15 240.25 L525.04 241.26 L525.94 242.22 L526.83 243.15 L527.72 244.03 L528.61 244.86 L529.50 245.64 L530.40 246.37 L531.29 247.05 L532.18 247.68 L533.07 248.26 L533.96 248.79 L534.86 249.26 L535.75 249.68 L536.64 250.05 L537.53 250.37 L538.42 250.64 L539.31 250.87 L540.21 251.07 L541.10 251.23 L541.99 251.38 L542.88 251.50 L543.77 251.61 L544.67 251.71 L545.56 251.81 L546.45 251.91 L547.34 252.02 L548.23 252.14 L549.13 252.26 L550.02 252.38 L550.91 252.50 L551.80 252.61 L552.69 252.71 L553.59 252.80 L554.48 252.88 L555.37 252.94 L556.26 252.97 L557.15 252.99 L558.04 252.93 L558.94 252.78 L559.83 252.54 L560.72 252.22 L561.61 251.81 L562.50 251.33 L563.40 250.78 L564.29 250.16 L565.18 249.49 L566.07 248.76 L566.96 247.97 L567.86 247.15 L568.75 246.29 L569.64 245.39 L570.53 244.46 L571.42 243.51 L572.32 242.54 L573.21 241.56 L574.10 240.57 L574.99 239.54 L575.88 238.40 L576.78 237.13 L577.67 235.73 L578.56 234.21 L579.45 232.56 L580.34 230.79 L581.23 228.88 L582.13 226.84 L583.02 224.67 L583.91 222.36 L584.80 219.92 L585.69 217.31 L586.59 213.96 L587.48 209.87 L588.37 205.36 L589.26 200.78 L590.15 196.44 L591.05 192.64 L591.94 189.14 L592.83 185.71 L593.72 182.19 L594.61 178.51"/>
<path d="M443.88 235.74 L444.77 235.15 L445.66 234.56 L446.56 233.97 L447.45 233.37 L448.34 232.78 L449.23 232.17 L450.12 231.57 L451.02 230.96 L451.91 230.34 L452.80 229.71 L453.69 229.08 L454.58 228.44 L455.47 227.79 L456.37 227.13 L457.26 226.45 L458.15 225.76 L459.04 225.06 L459.93 224.34 L460.83 223.60 L461.72 222.85 L462.61 222.07 L463.50 221.27 L464.39 220.45 L465.29 219.60 L466.18 218.73 L467.07 217.83 L467.96 216.90 L468.85 215.96 L469.75 215.02 L470.64 214.09 L471.53 213.18 L472.42 212.32 L473.31 211.51 L474.21 210.77 L475.10 210.11 L475.99 209.54 L476.88 209.06 L477.77 208.67 L478.66 208.35 L479.56 208.10 L480.45 207.92 L481.34 207.79 L482.23 207.72 L483.12 207.70 L484.02 207.71 L484.91 207.77 L485.80 207.86 L486.69 208.00 L487.58 208.17 L488.48 208.39 L489.37 208.65 L490.26 208.95 L491.15 209.29 L492.04 209.67 L492.94 210.09 L493.83 210.56 L494.72 211.07 L495.61 211.62 L496.50 212.22 L497.39 212.86 L498.29 213.54 L499.18 214.27 L500.07 215.03 L500.96 215.84 L501.85 216.68 L502.75 217.56 L503.64 218.48 L504.53 219.43 L505.42 220.42 L506.31 221.45 L507.21 222.51 L508.10 223.60 L508.99 224.72 L509.88 225.88 L510.77 227.05 L511.67 228.25 L512.56 229.45 L513.45 230.66 L514.34 231.87 L515.23 233.08 L516.12 234.27 L517.02 235.44 L517.91 236.59 L518.80 237.71 L519.69 238.80 L520.58 239.86 L521.48 240.88 L522.37 241.87 L523.26 242.82 L524.15 243.73 L525.04 244.60 L525.94 245.42 L526.83 246.19 L527.72 246.91 L528.61 247.59 L529.50 248.21 L530.40 248.79 L531.29 249.32 L532.18 249.79 L533.07 250.22 L533.96 250.59 L534.86 250.92 L535.75 251.20 L536.64 251.44 L537.53 251.64 L538.42 251.82 L539.31 251.97 L540.21 252.10 L541.10 252.22 L541.99 252.33 L542.88 252.44 L543.77 252.55 L544.67 252.67 L545.56 252.79 L546.45 252.92 L547.34 253.04 L548.23 253.16 L549.13 253.26 L550.02 253.36 L550.91 253.44 L551.80 253.50 L552.69 253.54 L553.59 253.55 L554.48 253.46 L555.37 253.26 L556.26 252.95 L557.15 252.55 L558.04 252.07 L558.94 251.50 L559.83 250.85 L560.72 250.14 L561.61 249.36 L562.50 248.52 L563.40 247.63 L564.29 246.70 L565.18 245.72 L566.07 244.71 L566.96 243.68 L567.86 242.62 L568.75 241.55 L569.64 240.47 L570.53 239.33 L571.42 238.03 L572.32 236.58 L573.21 234.99 L574.10 233.26 L574.99 231.41 L575.88 229.44 L576.78 227.37 L577.67 225.19 L578.56 222.93 L579.45 220.58 L580.34 218.16 L581.23 215.52 L582.13 212.51 L583.02 209.21 L583.91 205.71 L584.80 202.10 L585.69 198.47 L586.59 194.91 L587.48 191.41 L588.37 187.85 L589.26 184.25 L590.15 180.60 L591.05 176.91 L591.94 173.20 L592.83 169.45 L593.72 165.64 L594.61 161.80"/>
<path d="M443.88 236.03 L444.77 235.43 L445.65 234.84 L446.54 234.24 L447.42 233.64 L448.31 233.04 L449.20 232.43 L450.08 231.82 L450.97 231.20 L451.85 230.57 L452.74 229.93 L453.63 229.28 L454.51 228.63 L455.40 227.96 L456.28 227.28 L457.17 226.58 L458.05 225.87 L458.94 225.14 L459.83 224.39 L460.71 223.61 L461.60 222.82 L462.48 222.00 L463.37 221.16 L464.26 220.29 L465.14 219.39 L466.03 218.47 L466.91 217.54 L467.80 216.62 L468.69 215.72 L469.57 214.86 L470.46 214.04 L471.34 213.28 L472.23 212.60 L473.12 212.00 L474.00 211.50 L474.89 211.07 L475.77 210.73 L476.66 210.46 L477.54 210.26 L478.43 210.11 L479.32 210.02 L480.20 209.98 L481.09 209.97 L481.97 210.01 L482.86 210.08 L483.75 210.19 L484.63 210.34 L485.52 210.52 L486.40 210.75 L487.29 211.01 L488.18 211.32 L489.06 211.66 L489.95 212.04 L490.83 212.47 L491.72 212.93 L492.61 213.44 L493.49 213.98 L494.38 214.57 L495.26 215.20 L496.15 215.87 L497.04 216.57 L497.92 217.32 L498.81 218.10 L499.69 218.92 L500.58 219.78 L501.46 220.67 L502.35 221.59 L503.24 222.55 L504.12 223.54 L505.01 224.56 L505.89 225.62 L506.78 226.70 L507.67 227.81 L508.55 228.94 L509.44 230.09 L510.32 231.24 L511.21 232.40 L512.10 233.56 L512.98 234.70 L513.87 235.84 L514.75 236.96 L515.64 238.05 L516.53 239.11 L517.41 240.15 L518.30 241.16 L519.18 242.13 L520.07 243.07 L520.95 243.97 L521.84 244.83 L522.73 245.65 L523.61 246.42 L524.50 247.15 L525.38 247.84 L526.27 248.47 L527.16 249.06 L528.04 249.61 L528.93 250.11 L529.81 250.55 L530.70 250.96 L531.59 251.31 L532.47 251.62 L533.36 251.89 L534.24 252.11 L535.13 252.31 L536.02 252.49 L536.90 252.64 L537.79 252.77 L538.67 252.90 L539.56 253.02 L540.44 253.15 L541.33 253.28 L542.22 253.41 L543.10 253.54 L543.99 253.67 L544.87 253.78 L545.76 253.89 L546.65 253.98 L547.53 254.05 L548.42 254.10 L549.30 254.12 L550.19 253.99 L551.08 253.70 L551.96 253.31 L552.85 252.81 L553.73 252.22 L554.62 251.53 L555.51 250.76 L556.39 249.92 L557.28 249.01 L558.16 248.03 L559.05 247.01 L559.94 245.93 L560.82 244.81 L561.71 243.66 L562.59 242.49 L563.48 241.29 L564.36 240.08 L565.25 238.75 L566.14 237.24 L567.02 235.56 L567.91 233.74 L568.79 231.79 L569.68 229.70 L570.57 227.51 L571.45 225.22 L572.34 222.84 L573.22 220.39 L574.11 217.88 L575.00 215.12 L575.88 212.01 L576.77 208.65 L577.65 205.15 L578.54 201.61 L579.43 198.14 L580.31 194.84 L581.20 191.74 L582.08 188.71 L582.97 185.73 L583.85 182.78 L584.74 179.83 L585.63 176.85 L586.51 173.84 L587.40 170.81 L588.28 167.77 L589.17 164.71 L590.06 161.59 L590.94 158.42 L591.83 155.18 L592.71 151.90 L593.60 148.57"/>
<path d="M443.88 236.31 L444.74 235.73 L445.59 235.15 L446.45 234.57 L447.30 233.99 L448.16 233.40 L449.02 232.80 L449.87 232.20 L450.73 231.59 L451.58 230.97 L452.44 230.34 L453.30 229.70 L454.15 229.04 L455.01 228.37 L455.86 227.69 L456.72 226.98 L457.57 226.27 L458.43 225.53 L459.29 224.77 L460.14 223.99 L461.00 223.19 L461.85 222.37 L462.71 221.53 L463.57 220.66 L464.42 219.78 L465.28 218.90 L466.13 218.03 L466.99 217.19 L467.85 216.39 L468.70 215.63 L469.56 214.93 L470.41 214.30 L471.27 213.75 L472.13 213.29 L472.98 212.90 L473.84 212.58 L474.69 212.33 L475.55 212.14 L476.41 212.00 L477.26 211.92 L478.12 211.87 L478.97 211.87 L479.83 211.89 L480.69 211.95 L481.54 212.05 L482.40 212.18 L483.25 212.34 L484.11 212.53 L484.96 212.77 L485.82 213.03 L486.68 213.33 L487.53 213.67 L488.39 214.05 L489.24 214.46 L490.10 214.90 L490.96 215.39 L491.81 215.91 L492.67 216.46 L493.52 217.06 L494.38 217.69 L495.24 218.35 L496.09 219.05 L496.95 219.78 L497.80 220.55 L498.66 221.35 L499.52 222.17 L500.37 223.03 L501.23 223.92 L502.08 224.84 L502.94 225.79 L503.80 226.77 L504.65 227.77 L505.51 228.80 L506.36 229.84 L507.22 230.90 L508.08 231.97 L508.93 233.05 L509.79 234.12 L510.64 235.19 L511.50 236.25 L512.35 237.30 L513.21 238.32 L514.07 239.33 L514.92 240.31 L515.78 241.26 L516.63 242.18 L517.49 243.08 L518.35 243.94 L519.20 244.76 L520.06 245.55 L520.91 246.31 L521.77 247.02 L522.63 247.69 L523.48 248.32 L524.34 248.90 L525.19 249.45 L526.05 249.96 L526.91 250.42 L527.76 250.84 L528.62 251.22 L529.47 251.56 L530.33 251.86 L531.19 252.12 L532.04 252.35 L532.90 252.55 L533.75 252.73 L534.61 252.90 L535.47 253.05 L536.32 253.19 L537.18 253.33 L538.03 253.47 L538.89 253.62 L539.74 253.76 L540.60 253.89 L541.46 254.01 L542.31 254.12 L543.17 254.20 L544.02 254.27 L544.88 254.31 L545.74 254.25 L546.59 253.96 L547.45 253.56 L548.30 253.05 L549.16 252.44 L550.02 251.74 L550.87 250.94 L551.73 250.07 L552.58 249.13 L553.44 248.12 L554.30 247.06 L555.15 245.94 L556.01 244.79 L556.86 243.59 L557.72 242.37 L558.58 241.13 L559.43 239.86 L560.29 238.43 L561.14 236.81 L562.00 235.03 L562.86 233.10 L563.71 231.03 L564.57 228.86 L565.42 226.59 L566.28 224.25 L567.13 221.86 L567.99 219.44 L568.85 216.98 L569.70 214.33 L570.56 211.49 L571.41 208.51 L572.27 205.43 L573.13 202.30 L573.98 199.17 L574.84 196.09 L575.69 193.09 L576.55 190.12 L577.41 187.15 L578.26 184.17 L579.12 181.17 L579.97 178.15 L580.83 175.10 L581.69 172.00 L582.54 168.85 L583.40 165.68 L584.25 162.49 L585.11 159.29 L585.97 156.07 L586.82 152.83 L587.68 149.58 L588.53 146.30"/>
<path d="M443.88 236.59 L444.71 236.03 L445.53 235.47 L446.36 234.91 L447.18 234.34 L448.01 233.76 L448.84 233.18 L449.66 232.59 L450.49 231.99 L451.31 231.38 L452.14 230.76 L452.97 230.13 L453.79 229.48 L454.62 228.81 L455.44 228.12 L456.27 227.42 L457.10 226.70 L457.92 225.96 L458.75 225.20 L459.57 224.41 L460.40 223.61 L461.23 222.78 L462.05 221.93 L462.88 221.07 L463.70 220.21 L464.53 219.36 L465.35 218.53 L466.18 217.74 L467.01 216.98 L467.83 216.28 L468.66 215.65 L469.48 215.08 L470.31 214.60 L471.14 214.20 L471.96 213.86 L472.79 213.59 L473.61 213.37 L474.44 213.21 L475.27 213.10 L476.09 213.03 L476.92 213.00 L477.74 213.01 L478.57 213.04 L479.40 213.10 L480.22 213.20 L481.05 213.32 L481.87 213.47 L482.70 213.66 L483.53 213.88 L484.35 214.13 L485.18 214.41 L486.00 214.72 L486.83 215.06 L487.66 215.44 L488.48 215.85 L489.31 216.30 L490.13 216.77 L490.96 217.28 L491.79 217.83 L492.61 218.40 L493.44 219.01 L494.26 219.65 L495.09 220.31 L495.92 221.01 L496.74 221.74 L497.57 222.49 L498.39 223.28 L499.22 224.09 L500.05 224.92 L500.87 225.79 L501.70 226.68 L502.52 227.59 L503.35 228.53 L504.17 229.49 L505.00 230.46 L505.83 231.45 L506.65 232.45 L507.48 233.45 L508.30 234.45 L509.13 235.44 L509.96 236.43 L510.78 237.41 L511.61 238.36 L512.43 239.30 L513.26 240.22 L514.09 241.11 L514.91 241.98 L515.74 242.82 L516.56 243.63 L517.39 244.42 L518.22 245.16 L519.04 245.88 L519.87 246.56 L520.69 247.20 L521.52 247.80 L522.35 248.37 L523.17 248.89 L524.00 249.39 L524.82 249.84 L525.65 250.27 L526.48 250.65 L527.30 251.01 L528.13 251.33 L528.95 251.61 L529.78 251.87 L530.61 252.10 L531.43 252.32 L532.26 252.51 L533.08 252.70 L533.91 252.87 L534.74 253.04 L535.56 253.21 L536.39 253.37 L537.21 253.52 L538.04 253.65 L538.87 253.77 L539.69 253.85 L540.52 253.91 L541.34 253.93 L542.17 253.68 L542.99 253.28 L543.82 252.76 L544.65 252.14 L545.47 251.41 L546.30 250.60 L547.12 249.70 L547.95 248.72 L548.78 247.68 L549.60 246.58 L550.43 245.42 L551.25 244.22 L552.08 242.99 L552.91 241.72 L553.73 240.44 L554.56 239.05 L555.38 237.46 L556.21 235.67 L557.04 233.71 L557.86 231.62 L558.69 229.41 L559.51 227.11 L560.34 224.76 L561.17 222.36 L561.99 219.96 L562.82 217.57 L563.64 215.10 L564.47 212.50 L565.30 209.79 L566.12 207.01 L566.95 204.18 L567.77 201.33 L568.60 198.48 L569.43 195.65 L570.25 192.87 L571.08 190.09 L571.90 187.31 L572.73 184.51 L573.56 181.70 L574.38 178.85 L575.21 175.97 L576.03 173.05 L576.86 170.08 L577.68 167.07 L578.51 164.03 L579.34 160.98 L580.16 157.93 L580.99 154.86 L581.81 151.77 L582.64 148.66 L583.47 145.54"/>
<path d="M443.88 236.88 L444.66 236.35 L445.45 235.82 L446.23 235.28 L447.02 234.74 L447.80 234.20 L448.58 233.64 L449.37 233.08 L450.15 232.50 L450.94 231.92 L451.72 231.31 L452.50 230.69 L453.29 230.06 L454.07 229.40 L454.86 228.73 L455.64 228.03 L456.42 227.31 L457.21 226.57 L457.99 225.82 L458.78 225.04 L459.56 224.25 L460.34 223.44 L461.13 222.63 L461.91 221.81 L462.70 220.99 L463.48 220.19 L464.26 219.42 L465.05 218.68 L465.83 217.98 L466.62 217.33 L467.40 216.73 L468.18 216.21 L468.97 215.75 L469.75 215.37 L470.54 215.04 L471.32 214.77 L472.10 214.56 L472.89 214.40 L473.67 214.28 L474.46 214.20 L475.24 214.15 L476.02 214.14 L476.81 214.15 L477.59 214.19 L478.38 214.26 L479.16 214.35 L479.94 214.46 L480.73 214.61 L481.51 214.78 L482.30 214.98 L483.08 215.21 L483.86 215.46 L484.65 215.74 L485.43 216.05 L486.22 216.39 L487.00 216.75 L487.78 217.14 L488.57 217.57 L489.35 218.02 L490.14 218.50 L490.92 219.00 L491.70 219.54 L492.49 220.10 L493.27 220.69 L494.05 221.30 L494.84 221.94 L495.62 222.60 L496.41 223.29 L497.19 224.00 L497.97 224.74 L498.76 225.49 L499.54 226.27 L500.33 227.07 L501.11 227.90 L501.89 228.74 L502.68 229.60 L503.46 230.48 L504.25 231.37 L505.03 232.27 L505.81 233.17 L506.60 234.08 L507.38 234.98 L508.17 235.88 L508.95 236.77 L509.73 237.66 L510.52 238.52 L511.30 239.37 L512.09 240.21 L512.87 241.02 L513.65 241.81 L514.44 242.57 L515.22 243.31 L516.01 244.02 L516.79 244.70 L517.57 245.35 L518.36 245.96 L519.14 246.53 L519.93 247.07 L520.71 247.58 L521.49 248.06 L522.28 248.51 L523.06 248.93 L523.85 249.33 L524.63 249.71 L525.41 250.07 L526.20 250.42 L526.98 250.75 L527.77 251.07 L528.55 251.38 L529.33 251.67 L530.12 251.94 L530.90 252.19 L531.69 252.41 L532.47 252.62 L533.25 252.79 L534.04 252.94 L534.82 253.05 L535.61 253.13 L536.39 253.17 L537.17 252.98 L537.96 252.39 L538.74 251.66 L539.53 250.80 L540.31 249.82 L541.09 248.74 L541.88 247.56 L542.66 246.30 L543.45 244.97 L544.23 243.57 L545.01 242.12 L545.80 240.63 L546.58 239.02 L547.37 237.14 L548.15 235.02 L548.93 232.71 L549.72 230.26 L550.50 227.73 L551.29 225.16 L552.07 222.61 L552.85 220.12 L553.64 217.74 L554.42 215.42 L555.21 213.11 L555.99 210.80 L556.77 208.49 L557.56 206.17 L558.34 203.85 L559.13 201.51 L559.91 199.17 L560.69 196.81 L561.48 194.43 L562.26 192.04 L563.05 189.64 L563.83 187.23 L564.61 184.80 L565.40 182.36 L566.18 179.90 L566.97 177.42 L567.75 174.92 L568.53 172.40 L569.32 169.85 L570.10 167.28 L570.89 164.68 L571.67 162.05 L572.45 159.38 L573.24 156.68 L574.02 153.94 L574.81 151.17 L575.59 148.37 L576.37 145.54"/>
</g>
<path d="M492.27 274.40V269.70M492.27 160.70V165.40M542.93 274.40V269.70M542.93 160.70V165.40M466.93 274.40V271.50M466.93 160.70V163.60M517.60 274.40V271.50M517.60 160.70V163.60M568.27 274.40V271.50M568.27 160.70V163.60M441.60 236.50H446.30M593.60 236.50H588.90M441.60 198.60H446.30M593.60 198.60H588.90M441.60 255.45H444.50M593.60 255.45H590.70M441.60 217.55H444.50M593.60 217.55H590.70M441.60 179.65H444.50M593.60 179.65H590.70" fill="none" stroke="#000" stroke-width="1.30"/>
<rect x="441.60" y="160.70" width="152.00" height="113.70" fill="none" stroke="#000" stroke-width="1.60"/>
<text x="441.60" y="287.70" font-size="10.80" text-anchor="middle">50</text>
<text x="492.27" y="287.70" font-size="10.80" text-anchor="middle">150</text>
<text x="542.93" y="287.70" font-size="10.80" text-anchor="middle">250</text>
<text x="593.60" y="287.70" font-size="10.80" text-anchor="middle">350</text>
<text x="436.70" y="278.10" font-size="10.80" text-anchor="end">0</text>
<text x="436.70" y="240.20" font-size="10.80" text-anchor="end">10</text>
<text x="436.70" y="202.30" font-size="10.80" text-anchor="end">20</text>
<text x="436.70" y="164.40" font-size="10.80" text-anchor="end">30</text>
<text x="514.90" y="306.20" font-size="13.00" text-anchor="middle">T (K)</text>
<text x="454.40" y="182.60" font-size="13.00">(f)</text>
<path d="M491.30 245.70L536.41 192.90" stroke="#000" stroke-width="1" fill="none"/>
<path d="M539.40 189.40L537.25 194.92L534.28 192.39Z" fill="#000"/>
<text transform="translate(420.20 220.40) rotate(-90)" font-size="19.00" text-anchor="middle">ε</text>
<path d="M405.90 208.95 C407.50 208.75 409.10 209.20 409.80 211.25 C408.90 210.15 407.80 209.95 406.95 210.55 A1.15 1.15 0 1 1 405.90 208.95Z" fill="#111"/>
<path d="M405.90 213.05 C407.50 212.85 409.10 213.30 409.80 215.35 C408.90 214.25 407.80 214.05 406.95 214.65 A1.15 1.15 0 1 1 405.90 213.05Z" fill="#111"/>
<text x="54.2" y="54.4" font-size="11.00">100 Hz</text>
<text x="113.6" y="78.0" font-size="11.00">1 MHz</text>
</svg></body></html>
